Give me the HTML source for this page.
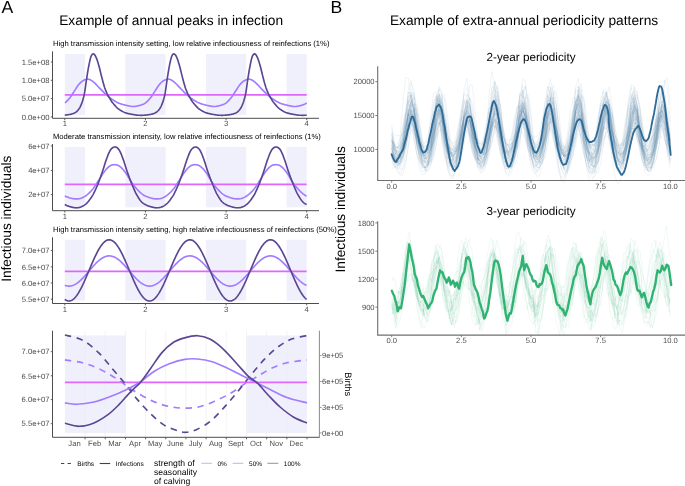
<!DOCTYPE html>
<html><head><meta charset="utf-8"><style>
html,body{margin:0;padding:0;background:#fff;}
svg{display:block;font-family:"Liberation Sans", sans-serif;will-change:transform;text-rendering:geometricPrecision;}
</style></head><body>
<svg width="685" height="486" viewBox="0 0 685 486">
<rect width="685" height="486" fill="#fff"/>
<text x="1.4" y="12.9" font-size="17.6" text-anchor="start" fill="#000" >A</text>
<text x="59.2" y="24.6" font-size="13.75" text-anchor="start" fill="#000" >Example of annual peaks in infection</text>
<text x="53" y="46.2" font-size="7.65" text-anchor="start" fill="#000" >High transmission intensity setting, low relative infectiousness of reinfections (1%)</text>
<rect x="64.8" y="54" width="20.16" height="60.9" fill="#f0f0fd"/>
<rect x="125.27" y="54" width="40.31" height="60.9" fill="#f0f0fd"/>
<rect x="205.9" y="54" width="40.31" height="60.9" fill="#f0f0fd"/>
<rect x="286.53" y="54" width="20.16" height="60.9" fill="#f0f0fd"/>
<line x1="64.8" y1="94.9" x2="306.69" y2="94.9" stroke="#e066ff" stroke-width="1.65" />
<path d="M64.8,102.95 L65.3,102.57 L65.8,102.14 L66.3,101.68 L66.8,101.19 L67.3,100.67 L67.8,100.13 L68.3,99.58 L68.8,99.01 L69.3,98.43 L69.8,97.85 L70.3,97.22 L70.8,96.51 L71.3,95.77 L71.8,95.01 L72.3,94.24 L72.8,93.46 L73.3,92.68 L73.8,91.91 L74.3,91.15 L74.8,90.39 L75.3,89.61 L75.8,88.82 L76.3,88.03 L76.8,87.25 L77.3,86.5 L77.8,85.77 L78.3,85.1 L78.8,84.48 L79.3,83.91 L79.8,83.37 L80.3,82.86 L80.8,82.39 L81.3,81.95 L81.8,81.54 L82.3,81.17 L82.8,80.83 L83.3,80.54 L83.8,80.29 L84.3,80.05 L84.8,79.83 L85.3,79.64 L85.8,79.47 L86.3,79.34 L86.8,79.24 L87.3,79.19 L87.8,79.18 L88.3,79.22 L88.8,79.32 L89.3,79.45 L89.8,79.63 L90.3,79.85 L90.8,80.11 L91.3,80.4 L91.8,80.72 L92.3,81.08 L92.8,81.46 L93.3,81.85 L93.8,82.24 L94.3,82.67 L94.8,83.13 L95.3,83.62 L95.8,84.13 L96.3,84.66 L96.8,85.2 L97.3,85.73 L97.8,86.27 L98.3,86.79 L98.8,87.3 L99.3,87.81 L99.8,88.32 L100.3,88.84 L100.8,89.36 L101.3,89.88 L101.8,90.4 L102.3,90.91 L102.8,91.42 L103.3,91.93 L103.8,92.43 L104.3,92.91 L104.8,93.39 L105.3,93.84 L105.8,94.3 L106.3,94.74 L106.8,95.18 L107.3,95.62 L107.8,96.04 L108.3,96.47 L108.8,96.89 L109.3,97.3 L109.8,97.71 L110.3,98.12 L110.8,98.46 L111.3,98.79 L111.8,99.12 L112.3,99.46 L112.8,99.79 L113.3,100.11 L113.8,100.43 L114.3,100.75 L114.8,101.06 L115.3,101.36 L115.8,101.65 L116.3,101.93 L116.8,102.2 L117.3,102.46 L117.8,102.69 L118.3,102.92 L118.8,103.13 L119.3,103.32 L119.8,103.51 L120.3,103.69 L120.8,103.85 L121.3,104.01 L121.8,104.17 L122.3,104.31 L122.8,104.45 L123.3,104.59 L123.8,104.73 L124.3,104.86 L124.8,105 L125.3,105.11 L125.8,105.23 L126.3,105.35 L126.8,105.47 L127.3,105.59 L127.8,105.7 L128.3,105.81 L128.8,105.92 L129.3,106.02 L129.8,106.12 L130.3,106.2 L130.8,106.28 L131.3,106.35 L131.8,106.41 L132.3,106.45 L132.8,106.48 L133.3,106.5 L133.8,106.5 L134.3,106.48 L134.8,106.44 L135.3,106.39 L135.8,106.31 L136.3,106.23 L136.8,106.13 L137.3,106.03 L137.8,105.91 L138.3,105.79 L138.8,105.67 L139.3,105.54 L139.8,105.41 L140.3,105.28 L140.8,105.13 L141.3,104.95 L141.8,104.77 L142.3,104.58 L142.8,104.38 L143.3,104.17 L143.8,103.93 L144.3,103.67 L144.8,103.38 L145.3,103.04 L145.8,102.67 L146.3,102.26 L146.8,101.81 L147.3,101.32 L147.8,100.81 L148.3,100.28 L148.8,99.72 L149.3,99.16 L149.8,98.58 L150.3,98 L150.8,97.4 L151.3,96.7 L151.8,95.96 L152.3,95.21 L152.8,94.44 L153.3,93.67 L153.8,92.89 L154.3,92.11 L154.8,91.35 L155.3,90.59 L155.8,89.82 L156.3,89.03 L156.8,88.23 L157.3,87.45 L157.8,86.69 L158.3,85.96 L158.8,85.27 L159.3,84.64 L159.8,84.05 L160.3,83.5 L160.8,82.99 L161.3,82.51 L161.8,82.06 L162.3,81.65 L162.8,81.26 L163.3,80.91 L163.8,80.61 L164.3,80.35 L164.8,80.11 L165.3,79.89 L165.8,79.69 L166.3,79.51 L166.8,79.37 L167.3,79.26 L167.8,79.2 L168.3,79.18 L168.8,79.21 L169.3,79.29 L169.8,79.41 L170.3,79.58 L170.8,79.79 L171.3,80.04 L171.8,80.32 L172.3,80.63 L172.8,80.98 L173.3,81.36 L173.8,81.75 L174.3,82.13 L174.8,82.55 L175.3,83.01 L175.8,83.49 L176.3,84 L176.8,84.52 L177.3,85.06 L177.8,85.59 L178.3,86.13 L178.8,86.66 L179.3,87.17 L179.8,87.67 L180.3,88.18 L180.8,88.7 L181.3,89.22 L181.8,89.74 L182.3,90.26 L182.8,90.78 L183.3,91.29 L183.8,91.8 L184.3,92.3 L184.8,92.79 L185.3,93.27 L185.8,93.73 L186.3,94.18 L186.8,94.63 L187.3,95.07 L187.8,95.5 L188.3,95.93 L188.8,96.36 L189.3,96.78 L189.8,97.19 L190.3,97.61 L190.8,98.01 L191.3,98.38 L191.8,98.71 L192.3,99.04 L192.8,99.37 L193.3,99.7 L193.8,100.03 L194.3,100.35 L194.8,100.67 L195.3,100.98 L195.8,101.29 L196.3,101.58 L196.8,101.86 L197.3,102.13 L197.8,102.39 L198.3,102.63 L198.8,102.86 L199.3,103.07 L199.8,103.27 L200.3,103.46 L200.8,103.64 L201.3,103.81 L201.8,103.97 L202.3,104.13 L202.8,104.27 L203.3,104.42 L203.8,104.56 L204.3,104.69 L204.8,104.83 L205.3,104.96 L205.8,105.08 L206.3,105.2 L206.8,105.32 L207.3,105.44 L207.8,105.56 L208.3,105.67 L208.8,105.78 L209.3,105.89 L209.8,106 L210.3,106.09 L210.8,106.18 L211.3,106.26 L211.8,106.33 L212.3,106.39 L212.8,106.44 L213.3,106.48 L213.8,106.5 L214.3,106.5 L214.8,106.49 L215.3,106.45 L215.8,106.4 L216.3,106.33 L216.8,106.25 L217.3,106.16 L217.8,106.06 L218.3,105.95 L218.8,105.83 L219.3,105.7 L219.8,105.57 L220.3,105.44 L220.8,105.31 L221.3,105.17 L221.8,104.99 L222.3,104.81 L222.8,104.63 L223.3,104.44 L223.8,104.23 L224.3,104 L224.8,103.74 L225.3,103.46 L225.8,103.13 L226.3,102.77 L226.8,102.37 L227.3,101.93 L227.8,101.45 L228.3,100.95 L228.8,100.42 L229.3,99.87 L229.8,99.3 L230.3,98.73 L230.8,98.15 L231.3,97.57 L231.8,96.88 L232.3,96.16 L232.8,95.41 L233.3,94.64 L233.8,93.87 L234.3,93.09 L234.8,92.31 L235.3,91.54 L235.8,90.79 L236.3,90.02 L236.8,89.23 L237.3,88.44 L237.8,87.65 L238.3,86.88 L238.8,86.14 L239.3,85.44 L239.8,84.79 L240.3,84.2 L240.8,83.64 L241.3,83.12 L241.8,82.63 L242.3,82.17 L242.8,81.75 L243.3,81.36 L243.8,81 L244.3,80.68 L244.8,80.42 L245.3,80.17 L245.8,79.94 L246.3,79.74 L246.8,79.55 L247.3,79.4 L247.8,79.29 L248.3,79.21 L248.8,79.18 L249.3,79.19 L249.8,79.26 L250.3,79.38 L250.8,79.53 L251.3,79.73 L251.8,79.97 L252.3,80.24 L252.8,80.55 L253.3,80.89 L253.8,81.26 L254.3,81.65 L254.8,82.03 L255.3,82.44 L255.8,82.89 L256.3,83.37 L256.8,83.87 L257.3,84.39 L257.8,84.92 L258.3,85.45 L258.8,85.99 L259.3,86.52 L259.8,87.04 L260.3,87.54 L260.8,88.05 L261.3,88.57 L261.8,89.09 L262.3,89.61 L262.8,90.13 L263.3,90.64 L263.8,91.16 L264.3,91.67 L264.8,92.17 L265.3,92.66 L265.8,93.14 L266.3,93.61 L266.8,94.06 L267.3,94.51 L267.8,94.95 L268.3,95.39 L268.8,95.82 L269.3,96.25 L269.8,96.67 L270.3,97.09 L270.8,97.5 L271.3,97.91 L271.8,98.29 L272.3,98.62 L272.8,98.95 L273.3,99.28 L273.8,99.61 L274.3,99.94 L274.8,100.27 L275.3,100.59 L275.8,100.9 L276.3,101.21 L276.8,101.5 L277.3,101.79 L277.8,102.06 L278.3,102.33 L278.8,102.57 L279.3,102.8 L279.8,103.02 L280.3,103.22 L280.8,103.41 L281.3,103.6 L281.8,103.77 L282.3,103.93 L282.8,104.09 L283.3,104.24 L283.8,104.38 L284.3,104.52 L284.8,104.66 L285.3,104.79 L285.8,104.93 L286.3,105.05 L286.8,105.17 L287.3,105.29 L287.8,105.41 L288.3,105.53 L288.8,105.64 L289.3,105.75 L289.8,105.86 L290.3,105.97 L290.8,106.07 L291.3,106.16 L291.8,106.24 L292.3,106.32 L292.8,106.38 L293.3,106.43 L293.8,106.47 L294.3,106.49 L294.8,106.5 L295.3,106.49 L295.8,106.46 L296.3,106.42 L296.8,106.35 L297.3,106.28 L297.8,106.19 L298.3,106.09 L298.8,105.98 L299.3,105.86 L299.8,105.73 L300.3,105.61 L300.8,105.48 L301.3,105.35 L301.8,105.22 L302.3,105.04 L302.8,104.86 L303.3,104.68 L303.8,104.49 L304.3,104.28 L304.8,104.06 L305.3,103.81 L305.8,103.53 L306.3,103.22 L306.69,102.95" fill="none" stroke="#a27cff" stroke-width="1.65" />
<path d="M64.8,115.12 L65.3,115.07 L65.8,115.02 L66.3,114.97 L66.8,114.91 L67.3,114.84 L67.8,114.77 L68.3,114.7 L68.8,114.62 L69.3,114.54 L69.8,114.45 L70.3,114.35 L70.8,114.25 L71.3,114.14 L71.8,114 L72.3,113.83 L72.8,113.66 L73.3,113.47 L73.8,113.27 L74.3,113.05 L74.8,112.8 L75.3,112.52 L75.8,112.2 L76.3,111.78 L76.8,111.33 L77.3,110.85 L77.8,110.32 L78.3,109.75 L78.8,109.12 L79.3,108.44 L79.8,107.55 L80.3,106.54 L80.8,105.46 L81.3,104.3 L81.8,103.08 L82.3,101.8 L82.8,100.1 L83.3,98.36 L83.8,96.44 L84.3,94.21 L84.8,91.43 L85.3,88.07 L85.8,84.44 L86.3,80.83 L86.8,77.55 L87.3,74.43 L87.8,71.38 L88.3,68.48 L88.8,65.8 L89.3,63.3 L89.8,60.95 L90.3,58.84 L90.8,57.08 L91.3,55.81 L91.8,54.92 L92.3,54.31 L92.8,53.98 L93.3,53.89 L93.8,54.03 L94.3,54.4 L94.8,54.98 L95.3,55.77 L95.8,56.76 L96.3,57.85 L96.8,59.11 L97.3,60.53 L97.8,62.08 L98.3,63.74 L98.8,65.45 L99.3,67.26 L99.8,69.23 L100.3,71.3 L100.8,73.4 L101.3,75.46 L101.8,77.4 L102.3,79.32 L102.8,81.2 L103.3,83.04 L103.8,84.79 L104.3,86.46 L104.8,87.98 L105.3,89.33 L105.8,90.58 L106.3,91.76 L106.8,92.92 L107.3,94.11 L107.8,95.1 L108.3,95.95 L108.8,96.8 L109.3,97.65 L109.8,98.5 L110.3,99.34 L110.8,100.17 L111.3,100.99 L111.8,101.8 L112.3,102.39 L112.8,102.99 L113.3,103.59 L113.8,104.18 L114.3,104.77 L114.8,105.35 L115.3,105.91 L115.8,106.47 L116.3,107.01 L116.8,107.52 L117.3,108.02 L117.8,108.45 L118.3,108.81 L118.8,109.17 L119.3,109.51 L119.8,109.84 L120.3,110.17 L120.8,110.48 L121.3,110.78 L121.8,111.07 L122.3,111.35 L122.8,111.62 L123.3,111.88 L123.8,112.13 L124.3,112.37 L124.8,112.6 L125.3,112.76 L125.8,112.91 L126.3,113.06 L126.8,113.2 L127.3,113.33 L127.8,113.46 L128.3,113.58 L128.8,113.7 L129.3,113.82 L129.8,113.93 L130.3,114.03 L130.8,114.13 L131.3,114.23 L131.8,114.32 L132.3,114.41 L132.8,114.49 L133.3,114.57 L133.8,114.65 L134.3,114.72 L134.8,114.79 L135.3,114.9 L135.8,115 L136.3,115.08 L136.8,115.14 L137.3,115.19 L137.8,115.22 L138.3,115.25 L138.8,115.27 L139.3,115.28 L139.8,115.29 L140.3,115.31 L140.8,115.32 L141.3,115.32 L141.8,115.32 L142.3,115.31 L142.8,115.29 L143.3,115.27 L143.8,115.25 L144.3,115.22 L144.8,115.18 L145.3,115.13 L145.8,115.08 L146.3,115.03 L146.8,114.98 L147.3,114.92 L147.8,114.86 L148.3,114.79 L148.8,114.72 L149.3,114.64 L149.8,114.56 L150.3,114.47 L150.8,114.38 L151.3,114.28 L151.8,114.17 L152.3,114.04 L152.8,113.87 L153.3,113.7 L153.8,113.52 L154.3,113.32 L154.8,113.11 L155.3,112.87 L155.8,112.59 L156.3,112.29 L156.8,111.89 L157.3,111.45 L157.8,110.98 L158.3,110.46 L158.8,109.9 L159.3,109.29 L159.8,108.63 L160.3,107.8 L160.8,106.81 L161.3,105.75 L161.8,104.61 L162.3,103.4 L162.8,102.14 L163.3,100.54 L163.8,98.83 L164.3,96.96 L164.8,94.82 L165.3,92.23 L165.8,88.99 L166.3,85.4 L166.8,81.75 L167.3,78.36 L167.8,75.24 L168.3,72.16 L168.8,69.21 L169.3,66.47 L169.8,63.94 L170.3,61.54 L170.8,59.35 L171.3,57.5 L171.8,56.1 L172.3,55.12 L172.8,54.44 L173.3,54.04 L173.8,53.89 L174.3,53.97 L174.8,54.28 L175.3,54.81 L175.8,55.55 L176.3,56.48 L176.8,57.56 L177.3,58.76 L177.8,60.14 L178.3,61.67 L178.8,63.3 L179.3,65 L179.8,66.77 L180.3,68.71 L180.8,70.76 L181.3,72.86 L181.8,74.93 L182.3,76.91 L182.8,78.82 L183.3,80.72 L183.8,82.57 L184.3,84.34 L184.8,86.03 L185.3,87.61 L185.8,88.99 L186.3,90.26 L186.8,91.46 L187.3,92.62 L187.8,93.8 L188.3,94.89 L188.8,95.73 L189.3,96.58 L189.8,97.43 L190.3,98.28 L190.8,99.12 L191.3,99.96 L191.8,100.78 L192.3,101.59 L192.8,102.24 L193.3,102.83 L193.8,103.43 L194.3,104.02 L194.8,104.61 L195.3,105.2 L195.8,105.77 L196.3,106.33 L196.8,106.87 L197.3,107.39 L197.8,107.89 L198.3,108.35 L198.8,108.72 L199.3,109.08 L199.8,109.42 L200.3,109.76 L200.8,110.08 L201.3,110.4 L201.8,110.7 L202.3,110.99 L202.8,111.28 L203.3,111.55 L203.8,111.81 L204.3,112.07 L204.8,112.31 L205.3,112.54 L205.8,112.72 L206.3,112.87 L206.8,113.02 L207.3,113.16 L207.8,113.3 L208.3,113.43 L208.8,113.55 L209.3,113.67 L209.8,113.79 L210.3,113.9 L210.8,114 L211.3,114.11 L211.8,114.2 L212.3,114.3 L212.8,114.38 L213.3,114.47 L213.8,114.55 L214.3,114.63 L214.8,114.7 L215.3,114.77 L215.8,114.87 L216.3,114.97 L216.8,115.06 L217.3,115.13 L217.8,115.18 L218.3,115.22 L218.8,115.24 L219.3,115.26 L219.8,115.28 L220.3,115.29 L220.8,115.3 L221.3,115.31 L221.8,115.32 L222.3,115.32 L222.8,115.31 L223.3,115.3 L223.8,115.28 L224.3,115.26 L224.8,115.23 L225.3,115.19 L225.8,115.15 L226.3,115.1 L226.8,115.05 L227.3,114.99 L227.8,114.94 L228.3,114.88 L228.8,114.81 L229.3,114.74 L229.8,114.66 L230.3,114.58 L230.8,114.49 L231.3,114.4 L231.8,114.3 L232.3,114.2 L232.8,114.09 L233.3,113.92 L233.8,113.75 L234.3,113.57 L234.8,113.38 L235.3,113.17 L235.8,112.93 L236.3,112.67 L236.8,112.37 L237.3,112 L237.8,111.57 L238.3,111.11 L238.8,110.6 L239.3,110.05 L239.8,109.46 L240.3,108.8 L240.8,108.05 L241.3,107.08 L241.8,106.03 L242.3,104.91 L242.8,103.72 L243.3,102.47 L243.8,100.98 L244.3,99.28 L244.8,97.47 L245.3,95.41 L245.8,92.98 L246.3,89.87 L246.8,86.35 L247.3,82.69 L247.8,79.19 L248.3,76.05 L248.8,72.95 L249.3,69.96 L249.8,67.16 L250.3,64.59 L250.8,62.15 L251.3,59.9 L251.8,57.94 L252.3,56.4 L252.8,55.35 L253.3,54.59 L253.8,54.12 L254.3,53.91 L254.8,53.93 L255.3,54.18 L255.8,54.65 L256.3,55.34 L256.8,56.22 L257.3,57.28 L257.8,58.43 L258.3,59.77 L258.8,61.26 L259.3,62.87 L259.8,64.55 L260.3,66.3 L260.8,68.19 L261.3,70.22 L261.8,72.31 L262.3,74.4 L262.8,76.41 L263.3,78.32 L263.8,80.23 L264.3,82.09 L264.8,83.89 L265.3,85.6 L265.8,87.21 L266.3,88.65 L266.8,89.94 L267.3,91.15 L267.8,92.32 L268.3,93.49 L268.8,94.67 L269.3,95.51 L269.8,96.36 L270.3,97.21 L270.8,98.06 L271.3,98.9 L271.8,99.74 L272.3,100.57 L272.8,101.38 L273.3,102.08 L273.8,102.68 L274.3,103.28 L274.8,103.87 L275.3,104.46 L275.8,105.05 L276.3,105.62 L276.8,106.18 L277.3,106.73 L277.8,107.26 L278.3,107.76 L278.8,108.24 L279.3,108.63 L279.8,108.99 L280.3,109.33 L280.8,109.67 L281.3,110 L281.8,110.32 L282.3,110.62 L282.8,110.92 L283.3,111.2 L283.8,111.48 L284.3,111.75 L284.8,112 L285.3,112.25 L285.8,112.48 L286.3,112.68 L286.8,112.83 L287.3,112.98 L287.8,113.12 L288.3,113.26 L288.8,113.39 L289.3,113.52 L289.8,113.64 L290.3,113.76 L290.8,113.87 L291.3,113.98 L291.8,114.08 L292.3,114.18 L292.8,114.27 L293.3,114.36 L293.8,114.45 L294.3,114.53 L294.8,114.61 L295.3,114.68 L295.8,114.75 L296.3,114.84 L296.8,114.95 L297.3,115.04 L297.8,115.11 L298.3,115.17 L298.8,115.21 L299.3,115.24 L299.8,115.26 L300.3,115.27 L300.8,115.29 L301.3,115.3 L301.8,115.31 L302.3,115.32 L302.8,115.32 L303.3,115.31 L303.8,115.3 L304.3,115.29 L304.8,115.26 L305.3,115.23 L305.8,115.2 L306.3,115.16 L306.69,115.12" fill="none" stroke="#5a4692" stroke-width="1.65" />
<path d="M52.5,51.3 L52.5,118.3 L319,118.3" fill="none" stroke="#4d4d4d" stroke-width="1"/>
<text x="49.6" y="64.7" font-size="7.65" text-anchor="end" fill="#4d4d4d" >1.5e+08</text>
<line x1="50.8" y1="62" x2="52.5" y2="62" stroke="#4d4d4d" stroke-width="0.9" />
<text x="49.6" y="83" font-size="7.65" text-anchor="end" fill="#4d4d4d" >1.0e+08</text>
<line x1="50.8" y1="80.3" x2="52.5" y2="80.3" stroke="#4d4d4d" stroke-width="0.9" />
<text x="49.6" y="101.3" font-size="7.65" text-anchor="end" fill="#4d4d4d" >5.0e+07</text>
<line x1="50.8" y1="98.6" x2="52.5" y2="98.6" stroke="#4d4d4d" stroke-width="0.9" />
<text x="49.6" y="119.6" font-size="7.65" text-anchor="end" fill="#4d4d4d" >0.0e+00</text>
<line x1="50.8" y1="116.9" x2="52.5" y2="116.9" stroke="#4d4d4d" stroke-width="0.9" />
<line x1="64.8" y1="118.3" x2="64.8" y2="120.1" stroke="#4d4d4d" stroke-width="0.9" />
<text x="64.8" y="126.4" font-size="7.65" text-anchor="middle" fill="#4d4d4d" >1</text>
<line x1="145.43" y1="118.3" x2="145.43" y2="120.1" stroke="#4d4d4d" stroke-width="0.9" />
<text x="145.43" y="126.4" font-size="7.65" text-anchor="middle" fill="#4d4d4d" >2</text>
<line x1="226.06" y1="118.3" x2="226.06" y2="120.1" stroke="#4d4d4d" stroke-width="0.9" />
<text x="226.06" y="126.4" font-size="7.65" text-anchor="middle" fill="#4d4d4d" >3</text>
<line x1="306.69" y1="118.3" x2="306.69" y2="120.1" stroke="#4d4d4d" stroke-width="0.9" />
<text x="306.69" y="126.4" font-size="7.65" text-anchor="middle" fill="#4d4d4d" >4</text>
<text x="53" y="139.05" font-size="7.65" text-anchor="start" fill="#000" >Moderate transmission intensity, low relative infectiousness of reinfections (1%)</text>
<rect x="64.8" y="147" width="20.16" height="60.3" fill="#f0f0fd"/>
<rect x="125.27" y="147" width="40.31" height="60.3" fill="#f0f0fd"/>
<rect x="205.9" y="147" width="40.31" height="60.3" fill="#f0f0fd"/>
<rect x="286.53" y="147" width="20.16" height="60.3" fill="#f0f0fd"/>
<line x1="64.8" y1="184.4" x2="306.69" y2="184.4" stroke="#e066ff" stroke-width="1.65" />
<path d="M64.8,196.05 L65.3,196.24 L65.8,196.47 L66.3,196.64 L66.8,196.82 L67.3,197.01 L67.8,197.2 L68.3,197.39 L68.8,197.58 L69.3,197.76 L69.8,197.92 L70.3,198.07 L70.8,198.2 L71.3,198.32 L71.8,198.43 L72.3,198.53 L72.8,198.62 L73.3,198.7 L73.8,198.77 L74.3,198.82 L74.8,198.86 L75.3,198.89 L75.8,198.9 L76.3,198.9 L76.8,198.9 L77.3,198.88 L77.8,198.86 L78.3,198.83 L78.8,198.77 L79.3,198.7 L79.8,198.6 L80.3,198.47 L80.8,198.31 L81.3,198.13 L81.8,197.94 L82.3,197.73 L82.8,197.49 L83.3,197.24 L83.8,196.97 L84.3,196.68 L84.8,196.38 L85.3,196.05 L85.8,195.7 L86.3,195.34 L86.8,194.96 L87.3,194.56 L87.8,194.15 L88.3,193.72 L88.8,193.28 L89.3,192.82 L89.8,192.34 L90.3,191.84 L90.8,191.32 L91.3,190.78 L91.8,190.22 L92.3,189.64 L92.8,189.05 L93.3,188.42 L93.8,187.75 L94.3,187.05 L94.8,186.32 L95.3,185.58 L95.8,184.81 L96.3,184.04 L96.8,183.25 L97.3,182.47 L97.8,181.69 L98.3,180.91 L98.8,180.15 L99.3,179.39 L99.8,178.61 L100.3,177.82 L100.8,177.01 L101.3,176.21 L101.8,175.4 L102.3,174.62 L102.8,173.85 L103.3,173.1 L103.8,172.39 L104.3,171.72 L104.8,171.1 L105.3,170.44 L105.8,169.81 L106.3,169.21 L106.8,168.65 L107.3,168.12 L107.8,167.63 L108.3,167.17 L108.8,166.75 L109.3,166.37 L109.8,166.03 L110.3,165.71 L110.8,165.44 L111.3,165.22 L111.8,165.05 L112.3,164.91 L112.8,164.81 L113.3,164.74 L113.8,164.7 L114.3,164.69 L114.8,164.7 L115.3,164.72 L115.8,164.76 L116.3,164.82 L116.8,164.92 L117.3,165.05 L117.8,165.22 L118.3,165.44 L118.8,165.72 L119.3,166.06 L119.8,166.44 L120.3,166.81 L120.8,167.22 L121.3,167.67 L121.8,168.16 L122.3,168.68 L122.8,169.23 L123.3,169.8 L123.8,170.4 L124.3,171.03 L124.8,171.67 L125.3,172.33 L125.8,173.02 L126.3,173.75 L126.8,174.54 L127.3,175.36 L127.8,176.2 L128.3,177.07 L128.8,177.94 L129.3,178.81 L129.8,179.67 L130.3,180.5 L130.8,181.3 L131.3,182.05 L131.8,182.76 L132.3,183.45 L132.8,184.12 L133.3,184.78 L133.8,185.42 L134.3,186.05 L134.8,186.66 L135.3,187.26 L135.8,187.84 L136.3,188.41 L136.8,188.96 L137.3,189.49 L137.8,190.03 L138.3,190.55 L138.8,191.06 L139.3,191.56 L139.8,192.05 L140.3,192.52 L140.8,192.96 L141.3,193.39 L141.8,193.79 L142.3,194.16 L142.8,194.49 L143.3,194.8 L143.8,195.28 L144.3,195.6 L144.8,195.83 L145.3,196 L145.8,196.19 L146.3,196.42 L146.8,196.59 L147.3,196.78 L147.8,196.96 L148.3,197.15 L148.8,197.34 L149.3,197.53 L149.8,197.71 L150.3,197.88 L150.8,198.03 L151.3,198.17 L151.8,198.29 L152.3,198.4 L152.8,198.5 L153.3,198.6 L153.8,198.68 L154.3,198.75 L154.8,198.81 L155.3,198.85 L155.8,198.88 L156.3,198.9 L156.8,198.9 L157.3,198.9 L157.8,198.89 L158.3,198.87 L158.8,198.84 L159.3,198.79 L159.8,198.72 L160.3,198.63 L160.8,198.51 L161.3,198.36 L161.8,198.18 L162.3,197.99 L162.8,197.78 L163.3,197.56 L163.8,197.31 L164.3,197.05 L164.8,196.76 L165.3,196.46 L165.8,196.14 L166.3,195.8 L166.8,195.44 L167.3,195.06 L167.8,194.67 L168.3,194.26 L168.8,193.84 L169.3,193.4 L169.8,192.94 L170.3,192.46 L170.8,191.97 L171.3,191.45 L171.8,190.92 L172.3,190.37 L172.8,189.8 L173.3,189.2 L173.8,188.58 L174.3,187.93 L174.8,187.23 L175.3,186.52 L175.8,185.77 L176.3,185.01 L176.8,184.24 L177.3,183.46 L177.8,182.67 L178.3,181.89 L178.8,181.11 L179.3,180.35 L179.8,179.59 L180.3,178.82 L180.8,178.02 L181.3,177.22 L181.8,176.41 L182.3,175.61 L182.8,174.82 L183.3,174.04 L183.8,173.29 L184.3,172.57 L184.8,171.89 L185.3,171.26 L185.8,170.61 L186.3,169.97 L186.8,169.36 L187.3,168.79 L187.8,168.25 L188.3,167.75 L188.8,167.29 L189.3,166.86 L189.8,166.46 L190.3,166.11 L190.8,165.79 L191.3,165.51 L191.8,165.28 L192.3,165.09 L192.8,164.94 L193.3,164.83 L193.8,164.76 L194.3,164.71 L194.8,164.69 L195.3,164.69 L195.8,164.71 L196.3,164.75 L196.8,164.81 L197.3,164.89 L197.8,165.01 L198.3,165.17 L198.8,165.38 L199.3,165.64 L199.8,165.97 L200.3,166.35 L200.8,166.71 L201.3,167.11 L201.8,167.55 L202.3,168.03 L202.8,168.54 L203.3,169.08 L203.8,169.65 L204.3,170.25 L204.8,170.86 L205.3,171.5 L205.8,172.16 L206.3,172.83 L206.8,173.56 L207.3,174.33 L207.8,175.14 L208.3,175.98 L208.8,176.84 L209.3,177.72 L209.8,178.59 L210.3,179.45 L210.8,180.29 L211.3,181.09 L211.8,181.86 L212.3,182.58 L212.8,183.27 L213.3,183.95 L213.8,184.61 L214.3,185.26 L214.8,185.89 L215.3,186.51 L215.8,187.11 L216.3,187.69 L216.8,188.26 L217.3,188.82 L217.8,189.36 L218.3,189.89 L218.8,190.41 L219.3,190.93 L219.8,191.44 L220.3,191.92 L220.8,192.4 L221.3,192.85 L221.8,193.28 L222.3,193.68 L222.8,194.06 L223.3,194.41 L223.8,194.72 L224.3,195.17 L224.8,195.53 L225.3,195.78 L225.8,195.96 L226.3,196.13 L226.8,196.37 L227.3,196.55 L227.8,196.73 L228.3,196.91 L228.8,197.1 L229.3,197.3 L229.8,197.48 L230.3,197.66 L230.8,197.84 L231.3,197.99 L231.8,198.13 L232.3,198.26 L232.8,198.37 L233.3,198.48 L233.8,198.57 L234.3,198.66 L234.8,198.73 L235.3,198.79 L235.8,198.84 L236.3,198.88 L236.8,198.9 L237.3,198.9 L237.8,198.9 L238.3,198.89 L238.8,198.87 L239.3,198.85 L239.8,198.8 L240.3,198.74 L240.8,198.65 L241.3,198.54 L241.8,198.4 L242.3,198.22 L242.8,198.04 L243.3,197.84 L243.8,197.62 L244.3,197.38 L244.8,197.12 L245.3,196.84 L245.8,196.54 L246.3,196.22 L246.8,195.89 L247.3,195.53 L247.8,195.16 L248.3,194.77 L248.8,194.37 L249.3,193.95 L249.8,193.51 L250.3,193.06 L250.8,192.59 L251.3,192.1 L251.8,191.59 L252.3,191.06 L252.8,190.51 L253.3,189.95 L253.8,189.36 L254.3,188.75 L254.8,188.1 L255.3,187.42 L255.8,186.71 L256.3,185.97 L256.8,185.21 L257.3,184.44 L257.8,183.66 L258.3,182.88 L258.8,182.09 L259.3,181.31 L259.8,180.54 L260.3,179.79 L260.8,179.02 L261.3,178.23 L261.8,177.43 L262.3,176.62 L262.8,175.82 L263.3,175.02 L263.8,174.24 L264.3,173.49 L264.8,172.76 L265.3,172.07 L265.8,171.42 L266.3,170.78 L266.8,170.13 L267.3,169.52 L267.8,168.94 L268.3,168.39 L268.8,167.88 L269.3,167.4 L269.8,166.96 L270.3,166.56 L270.8,166.2 L271.3,165.87 L271.8,165.58 L272.3,165.33 L272.8,165.13 L273.3,164.98 L273.8,164.86 L274.3,164.77 L274.8,164.72 L275.3,164.69 L275.8,164.69 L276.3,164.71 L276.8,164.74 L277.3,164.79 L277.8,164.86 L278.3,164.97 L278.8,165.12 L279.3,165.32 L279.8,165.57 L280.3,165.87 L280.8,166.25 L281.3,166.61 L281.8,167 L282.3,167.44 L282.8,167.9 L283.3,168.41 L283.8,168.94 L284.3,169.5 L284.8,170.09 L285.3,170.7 L285.8,171.33 L286.3,171.99 L286.8,172.65 L287.3,173.36 L287.8,174.12 L288.3,174.93 L288.8,175.76 L289.3,176.62 L289.8,177.49 L290.3,178.36 L290.8,179.22 L291.3,180.07 L291.8,180.89 L292.3,181.67 L292.8,182.4 L293.3,183.09 L293.8,183.78 L294.3,184.44 L294.8,185.09 L295.3,185.73 L295.8,186.35 L296.3,186.95 L296.8,187.54 L297.3,188.12 L297.8,188.67 L298.3,189.22 L298.8,189.75 L299.3,190.28 L299.8,190.8 L300.3,191.31 L300.8,191.8 L301.3,192.28 L301.8,192.73 L302.3,193.17 L302.8,193.58 L303.3,193.97 L303.8,194.32 L304.3,194.65 L304.8,195.05 L305.3,195.45 L305.8,195.72 L306.3,195.91 L306.69,196.05" fill="none" stroke="#a27cff" stroke-width="1.65" />
<path d="M64.8,204.58 L65.3,204.84 L65.8,205.1 L66.3,205.35 L66.8,205.58 L67.3,205.78 L67.8,205.98 L68.3,206.15 L68.8,206.32 L69.3,206.48 L69.8,206.62 L70.3,206.76 L70.8,206.9 L71.3,207.04 L71.8,207.17 L72.3,207.29 L72.8,207.41 L73.3,207.52 L73.8,207.61 L74.3,207.68 L74.8,207.74 L75.3,207.78 L75.8,207.8 L76.3,207.8 L76.8,207.79 L77.3,207.77 L77.8,207.73 L78.3,207.68 L78.8,207.61 L79.3,207.51 L79.8,207.39 L80.3,207.23 L80.8,207.03 L81.3,206.82 L81.8,206.59 L82.3,206.35 L82.8,206.09 L83.3,205.81 L83.8,205.51 L84.3,205.18 L84.8,204.83 L85.3,204.44 L85.8,204.03 L86.3,203.58 L86.8,203.1 L87.3,202.59 L87.8,202.05 L88.3,201.47 L88.8,200.87 L89.3,200.23 L89.8,199.57 L90.3,198.88 L90.8,198.17 L91.3,197.43 L91.8,196.68 L92.3,195.91 L92.8,195.12 L93.3,194.23 L93.8,193.24 L94.3,192.22 L94.8,191.16 L95.3,190.08 L95.8,188.98 L96.3,187.85 L96.8,186.71 L97.3,185.56 L97.8,184.4 L98.3,183.17 L98.8,181.83 L99.3,180.47 L99.8,179.08 L100.3,177.68 L100.8,176.26 L101.3,174.84 L101.8,173.4 L102.3,171.96 L102.8,170.5 L103.3,168.97 L103.8,167.39 L104.3,165.78 L104.8,164.18 L105.3,162.6 L105.8,161.08 L106.3,159.64 L106.8,158.3 L107.3,156.94 L107.8,155.59 L108.3,154.32 L108.8,153.14 L109.3,152.07 L109.8,151.09 L110.3,150.22 L110.8,149.47 L111.3,148.89 L111.8,148.39 L112.3,147.97 L112.8,147.62 L113.3,147.36 L113.8,147.17 L114.3,147.05 L114.8,147 L115.3,147.02 L115.8,147.12 L116.3,147.3 L116.8,147.56 L117.3,147.91 L117.8,148.34 L118.3,148.86 L118.8,149.47 L119.3,150.22 L119.8,151.09 L120.3,152.07 L120.8,153.14 L121.3,154.32 L121.8,155.59 L122.3,156.94 L122.8,158.3 L123.3,159.65 L123.8,161.1 L124.3,162.64 L124.8,164.22 L125.3,165.84 L125.8,167.44 L126.3,169.01 L126.8,170.52 L127.3,171.95 L127.8,173.36 L128.3,174.74 L128.8,176.1 L129.3,177.45 L129.8,178.78 L130.3,180.08 L130.8,181.37 L131.3,182.65 L131.8,183.88 L132.3,185.11 L132.8,186.32 L133.3,187.51 L133.8,188.68 L134.3,189.83 L134.8,190.95 L135.3,192.04 L135.8,193.09 L136.3,194.01 L136.8,194.89 L137.3,195.77 L137.8,196.62 L138.3,197.45 L138.8,198.25 L139.3,199.02 L139.8,199.75 L140.3,200.42 L140.8,201.05 L141.3,201.62 L141.8,202.13 L142.3,202.59 L142.8,202.99 L143.3,203.35 L143.8,203.67 L144.3,203.97 L144.8,204.25 L145.3,204.51 L145.8,204.77 L146.3,205.04 L146.8,205.29 L147.3,205.52 L147.8,205.73 L148.3,205.93 L148.8,206.11 L149.3,206.28 L149.8,206.44 L150.3,206.59 L150.8,206.73 L151.3,206.86 L151.8,207 L152.3,207.13 L152.8,207.26 L153.3,207.38 L153.8,207.49 L154.3,207.58 L154.8,207.67 L155.3,207.73 L155.8,207.77 L156.3,207.8 L156.8,207.8 L157.3,207.79 L157.8,207.78 L158.3,207.75 L158.8,207.7 L159.3,207.63 L159.8,207.54 L160.3,207.42 L160.8,207.27 L161.3,207.09 L161.8,206.87 L162.3,206.65 L162.8,206.42 L163.3,206.16 L163.8,205.89 L164.3,205.59 L164.8,205.27 L165.3,204.92 L165.8,204.55 L166.3,204.14 L166.8,203.7 L167.3,203.23 L167.8,202.73 L168.3,202.19 L168.8,201.63 L169.3,201.03 L169.8,200.4 L170.3,199.74 L170.8,199.06 L171.3,198.35 L171.8,197.62 L172.3,196.88 L172.8,196.11 L173.3,195.33 L173.8,194.48 L174.3,193.5 L174.8,192.49 L175.3,191.44 L175.8,190.37 L176.3,189.27 L176.8,188.14 L177.3,187.01 L177.8,185.86 L178.3,184.7 L178.8,183.52 L179.3,182.18 L179.8,180.82 L180.3,179.44 L180.8,178.04 L181.3,176.63 L181.8,175.21 L182.3,173.77 L182.8,172.34 L183.3,170.89 L183.8,169.37 L184.3,167.8 L184.8,166.2 L185.3,164.59 L185.8,163.01 L186.3,161.47 L186.8,160 L187.3,158.64 L187.8,157.31 L188.3,155.93 L188.8,154.64 L189.3,153.44 L189.8,152.34 L190.3,151.33 L190.8,150.44 L191.3,149.64 L191.8,149.03 L192.3,148.51 L192.8,148.07 L193.3,147.71 L193.8,147.42 L194.3,147.21 L194.8,147.07 L195.3,147.01 L195.8,147.01 L196.3,147.09 L196.8,147.25 L197.3,147.49 L197.8,147.81 L198.3,148.22 L198.8,148.71 L199.3,149.3 L199.8,150.01 L200.3,150.85 L200.8,151.8 L201.3,152.85 L201.8,154 L202.3,155.25 L202.8,156.58 L203.3,157.97 L203.8,159.28 L204.3,160.71 L204.8,162.23 L205.3,163.81 L205.8,165.42 L206.3,167.03 L206.8,168.61 L207.3,170.14 L207.8,171.58 L208.3,172.99 L208.8,174.38 L209.3,175.75 L209.8,177.1 L210.3,178.43 L210.8,179.75 L211.3,181.04 L211.8,182.32 L212.3,183.57 L212.8,184.79 L213.3,186 L213.8,187.2 L214.3,188.38 L214.8,189.53 L215.3,190.66 L215.8,191.76 L216.3,192.82 L216.8,193.78 L217.3,194.67 L217.8,195.54 L218.3,196.4 L218.8,197.24 L219.3,198.05 L219.8,198.82 L220.3,199.56 L220.8,200.25 L221.3,200.89 L221.8,201.48 L222.3,202.01 L222.8,202.47 L223.3,202.89 L223.8,203.26 L224.3,203.59 L224.8,203.89 L225.3,204.18 L225.8,204.44 L226.3,204.7 L226.8,204.97 L227.3,205.22 L227.8,205.46 L228.3,205.68 L228.8,205.88 L229.3,206.06 L229.8,206.23 L230.3,206.4 L230.8,206.55 L231.3,206.69 L231.8,206.83 L232.3,206.97 L232.8,207.1 L233.3,207.23 L233.8,207.35 L234.3,207.46 L234.8,207.56 L235.3,207.65 L235.8,207.72 L236.3,207.76 L236.8,207.79 L237.3,207.8 L237.8,207.8 L238.3,207.78 L238.8,207.75 L239.3,207.71 L239.8,207.65 L240.3,207.57 L240.8,207.45 L241.3,207.31 L241.8,207.14 L242.3,206.93 L242.8,206.71 L243.3,206.48 L243.8,206.23 L244.3,205.96 L244.8,205.67 L245.3,205.36 L245.8,205.02 L246.3,204.65 L246.8,204.25 L247.3,203.82 L247.8,203.36 L248.3,202.86 L248.8,202.33 L249.3,201.78 L249.8,201.19 L250.3,200.56 L250.8,199.91 L251.3,199.24 L251.8,198.54 L252.3,197.82 L252.8,197.07 L253.3,196.31 L253.8,195.53 L254.3,194.72 L254.8,193.76 L255.3,192.76 L255.8,191.72 L256.3,190.65 L256.8,189.55 L257.3,188.44 L257.8,187.3 L258.3,186.16 L258.8,185 L259.3,183.84 L259.8,182.53 L260.3,181.18 L260.8,179.8 L261.3,178.41 L261.8,177 L262.3,175.58 L262.8,174.15 L263.3,172.71 L263.8,171.27 L264.3,169.78 L264.8,168.21 L265.3,166.62 L265.8,165.01 L266.3,163.41 L266.8,161.86 L267.3,160.37 L267.8,158.98 L268.3,157.68 L268.8,156.28 L269.3,154.97 L269.8,153.74 L270.3,152.61 L270.8,151.59 L271.3,150.66 L271.8,149.84 L272.3,149.18 L272.8,148.64 L273.3,148.18 L273.8,147.79 L274.3,147.49 L274.8,147.26 L275.3,147.1 L275.8,147.02 L276.3,147 L276.8,147.06 L277.3,147.2 L277.8,147.42 L278.3,147.72 L278.8,148.1 L279.3,148.58 L279.8,149.14 L280.3,149.81 L280.8,150.62 L281.3,151.55 L281.8,152.57 L282.3,153.7 L282.8,154.91 L283.3,156.23 L283.8,157.63 L284.3,158.93 L284.8,160.33 L285.3,161.83 L285.8,163.39 L286.3,165 L286.8,166.61 L287.3,168.2 L287.8,169.75 L288.3,171.21 L288.8,172.63 L289.3,174.02 L289.8,175.4 L290.3,176.75 L290.8,178.09 L291.3,179.41 L291.8,180.71 L292.3,181.99 L292.8,183.25 L293.3,184.47 L293.8,185.69 L294.3,186.89 L294.8,188.07 L295.3,189.24 L295.8,190.37 L296.3,191.48 L296.8,192.55 L297.3,193.55 L297.8,194.44 L298.3,195.31 L298.8,196.18 L299.3,197.02 L299.8,197.84 L300.3,198.63 L300.8,199.37 L301.3,200.08 L301.8,200.73 L302.3,201.33 L302.8,201.88 L303.3,202.36 L303.8,202.79 L304.3,203.17 L304.8,203.51 L305.3,203.82 L305.8,204.1 L306.3,204.37 L306.69,204.58" fill="none" stroke="#5a4692" stroke-width="1.65" />
<path d="M52.5,144 L52.5,210.7 L319,210.7" fill="none" stroke="#4d4d4d" stroke-width="1"/>
<text x="49.6" y="148.7" font-size="7.65" text-anchor="end" fill="#4d4d4d" >6e+07</text>
<line x1="50.8" y1="146" x2="52.5" y2="146" stroke="#4d4d4d" stroke-width="0.9" />
<text x="49.6" y="173.1" font-size="7.65" text-anchor="end" fill="#4d4d4d" >4e+07</text>
<line x1="50.8" y1="170.4" x2="52.5" y2="170.4" stroke="#4d4d4d" stroke-width="0.9" />
<text x="49.6" y="197.3" font-size="7.65" text-anchor="end" fill="#4d4d4d" >2e+07</text>
<line x1="50.8" y1="194.6" x2="52.5" y2="194.6" stroke="#4d4d4d" stroke-width="0.9" />
<line x1="64.8" y1="210.7" x2="64.8" y2="212.5" stroke="#4d4d4d" stroke-width="0.9" />
<text x="64.8" y="219" font-size="7.65" text-anchor="middle" fill="#4d4d4d" >1</text>
<line x1="145.43" y1="210.7" x2="145.43" y2="212.5" stroke="#4d4d4d" stroke-width="0.9" />
<text x="145.43" y="219" font-size="7.65" text-anchor="middle" fill="#4d4d4d" >2</text>
<line x1="226.06" y1="210.7" x2="226.06" y2="212.5" stroke="#4d4d4d" stroke-width="0.9" />
<text x="226.06" y="219" font-size="7.65" text-anchor="middle" fill="#4d4d4d" >3</text>
<line x1="306.69" y1="210.7" x2="306.69" y2="212.5" stroke="#4d4d4d" stroke-width="0.9" />
<text x="306.69" y="219" font-size="7.65" text-anchor="middle" fill="#4d4d4d" >4</text>
<text x="53" y="232.4" font-size="7.65" text-anchor="start" fill="#000" >High transmission intensity setting, high relative infectiousness of reinfections (50%)</text>
<rect x="64.8" y="239.8" width="20.16" height="60.8" fill="#f0f0fd"/>
<rect x="125.27" y="239.8" width="40.31" height="60.8" fill="#f0f0fd"/>
<rect x="205.9" y="239.8" width="40.31" height="60.8" fill="#f0f0fd"/>
<rect x="286.53" y="239.8" width="20.16" height="60.8" fill="#f0f0fd"/>
<line x1="64.8" y1="271.3" x2="306.69" y2="271.3" stroke="#e066ff" stroke-width="1.65" />
<path d="M64.8,285.33 L65.3,285.51 L65.8,285.66 L66.3,285.79 L66.8,285.9 L67.3,285.98 L67.8,286.04 L68.3,286.08 L68.8,286.1 L69.3,286.09 L69.8,286.06 L70.3,286.01 L70.8,285.94 L71.3,285.84 L71.8,285.72 L72.3,285.58 L72.8,285.41 L73.3,285.23 L73.8,285.02 L74.3,284.79 L74.8,284.54 L75.3,284.27 L75.8,283.98 L76.3,283.67 L76.8,283.34 L77.3,282.99 L77.8,282.62 L78.3,282.24 L78.8,281.83 L79.3,281.42 L79.8,280.98 L80.3,280.53 L80.8,280.07 L81.3,279.59 L81.8,279.1 L82.3,278.6 L82.8,278.09 L83.3,277.56 L83.8,277.03 L84.3,276.48 L84.8,275.93 L85.3,275.37 L85.8,274.81 L86.3,274.23 L86.8,273.66 L87.3,273.08 L87.8,272.49 L88.3,271.91 L88.8,271.32 L89.3,270.73 L89.8,270.14 L90.3,269.55 L90.8,268.97 L91.3,268.39 L91.8,267.81 L92.3,267.24 L92.8,266.67 L93.3,266.11 L93.8,265.56 L94.3,265.01 L94.8,264.48 L95.3,263.95 L95.8,263.44 L96.3,262.94 L96.8,262.44 L97.3,261.97 L97.8,261.5 L98.3,261.05 L98.8,260.62 L99.3,260.2 L99.8,259.79 L100.3,259.41 L100.8,259.04 L101.3,258.69 L101.8,258.36 L102.3,258.05 L102.8,257.75 L103.3,257.48 L103.8,257.23 L104.3,257 L104.8,256.79 L105.3,256.6 L105.8,256.44 L106.3,256.29 L106.8,256.17 L107.3,256.07 L107.8,255.99 L108.3,255.94 L108.8,255.91 L109.3,255.9 L109.8,255.92 L110.3,255.95 L110.8,256.01 L111.3,256.1 L111.8,256.2 L112.3,256.33 L112.8,256.48 L113.3,256.65 L113.8,256.85 L114.3,257.06 L114.8,257.3 L115.3,257.56 L115.8,257.84 L116.3,258.14 L116.8,258.45 L117.3,258.79 L117.8,259.15 L118.3,259.52 L118.8,259.91 L119.3,260.32 L119.8,260.74 L120.3,261.18 L120.8,261.64 L121.3,262.1 L121.8,262.59 L122.3,263.08 L122.8,263.59 L123.3,264.11 L123.8,264.63 L124.3,265.17 L124.8,265.72 L125.3,266.27 L125.8,266.84 L126.3,267.41 L126.8,267.98 L127.3,268.56 L127.8,269.14 L128.3,269.73 L128.8,270.31 L129.3,270.9 L129.8,271.49 L130.3,272.08 L130.8,272.66 L131.3,273.25 L131.8,273.83 L132.3,274.4 L132.8,274.97 L133.3,275.54 L133.8,276.09 L134.3,276.64 L134.8,277.18 L135.3,277.72 L135.8,278.24 L136.3,278.75 L136.8,279.25 L137.3,279.73 L137.8,280.21 L138.3,280.67 L138.8,281.11 L139.3,281.54 L139.8,281.95 L140.3,282.35 L140.8,282.73 L141.3,283.09 L141.8,283.43 L142.3,283.76 L142.8,284.06 L143.3,284.35 L143.8,284.61 L144.3,284.86 L144.8,285.08 L145.3,285.28 L145.8,285.46 L146.3,285.62 L146.8,285.76 L147.3,285.87 L147.8,285.96 L148.3,286.03 L148.8,286.07 L149.3,286.1 L149.8,286.1 L150.3,286.07 L150.8,286.03 L151.3,285.96 L151.8,285.87 L152.3,285.75 L152.8,285.62 L153.3,285.46 L153.8,285.28 L154.3,285.07 L154.8,284.85 L155.3,284.61 L155.8,284.34 L156.3,284.05 L156.8,283.75 L157.3,283.42 L157.8,283.08 L158.3,282.72 L158.8,282.34 L159.3,281.94 L159.8,281.53 L160.3,281.1 L160.8,280.65 L161.3,280.19 L161.8,279.72 L162.3,279.23 L162.8,278.73 L163.3,278.22 L163.8,277.7 L164.3,277.17 L164.8,276.63 L165.3,276.08 L165.8,275.52 L166.3,274.95 L166.8,274.38 L167.3,273.81 L167.8,273.23 L168.3,272.64 L168.8,272.06 L169.3,271.47 L169.8,270.88 L170.3,270.29 L170.8,269.71 L171.3,269.12 L171.8,268.54 L172.3,267.96 L172.8,267.39 L173.3,266.82 L173.8,266.26 L174.3,265.7 L174.8,265.16 L175.3,264.62 L175.8,264.09 L176.3,263.57 L176.8,263.06 L177.3,262.57 L177.8,262.09 L178.3,261.62 L178.8,261.17 L179.3,260.73 L179.8,260.3 L180.3,259.9 L180.8,259.51 L181.3,259.13 L181.8,258.78 L182.3,258.44 L182.8,258.13 L183.3,257.83 L183.8,257.55 L184.3,257.29 L184.8,257.06 L185.3,256.84 L185.8,256.65 L186.3,256.48 L186.8,256.33 L187.3,256.2 L187.8,256.09 L188.3,256.01 L188.8,255.95 L189.3,255.91 L189.8,255.9 L190.3,255.91 L190.8,255.94 L191.3,256 L191.8,256.07 L192.3,256.17 L192.8,256.3 L193.3,256.44 L193.8,256.61 L194.3,256.8 L194.8,257.01 L195.3,257.24 L195.8,257.49 L196.3,257.76 L196.8,258.06 L197.3,258.37 L197.8,258.7 L198.3,259.05 L198.8,259.42 L199.3,259.81 L199.8,260.21 L200.3,260.63 L200.8,261.07 L201.3,261.52 L201.8,261.98 L202.3,262.46 L202.8,262.95 L203.3,263.45 L203.8,263.97 L204.3,264.5 L204.8,265.03 L205.3,265.58 L205.8,266.13 L206.3,266.69 L206.8,267.26 L207.3,267.83 L207.8,268.41 L208.3,268.99 L208.8,269.57 L209.3,270.16 L209.8,270.75 L210.3,271.34 L210.8,271.92 L211.3,272.51 L211.8,273.09 L212.3,273.67 L212.8,274.25 L213.3,274.82 L213.8,275.39 L214.3,275.95 L214.8,276.5 L215.3,277.04 L215.8,277.58 L216.3,278.1 L216.8,278.62 L217.3,279.12 L217.8,279.61 L218.3,280.09 L218.8,280.55 L219.3,281 L219.8,281.43 L220.3,281.85 L220.8,282.25 L221.3,282.63 L221.8,283 L222.3,283.35 L222.8,283.68 L223.3,283.99 L223.8,284.28 L224.3,284.55 L224.8,284.8 L225.3,285.02 L225.8,285.23 L226.3,285.42 L226.8,285.58 L227.3,285.72 L227.8,285.84 L228.3,285.94 L228.8,286.01 L229.3,286.07 L229.8,286.09 L230.3,286.1 L230.8,286.08 L231.3,286.04 L231.8,285.98 L232.3,285.89 L232.8,285.78 L233.3,285.65 L233.8,285.5 L234.3,285.33 L234.8,285.13 L235.3,284.91 L235.8,284.67 L236.3,284.41 L236.8,284.13 L237.3,283.83 L237.8,283.51 L238.3,283.17 L238.8,282.81 L239.3,282.44 L239.8,282.05 L240.3,281.64 L240.8,281.21 L241.3,280.77 L241.8,280.31 L242.3,279.84 L242.8,279.36 L243.3,278.86 L243.8,278.36 L244.3,277.84 L244.8,277.31 L245.3,276.77 L245.8,276.22 L246.3,275.66 L246.8,275.1 L247.3,274.53 L247.8,273.96 L248.3,273.38 L248.8,272.8 L249.3,272.21 L249.8,271.62 L250.3,271.03 L250.8,270.45 L251.3,269.86 L251.8,269.27 L252.3,268.69 L252.8,268.11 L253.3,267.54 L253.8,266.97 L254.3,266.4 L254.8,265.85 L255.3,265.3 L255.8,264.76 L256.3,264.23 L256.8,263.7 L257.3,263.2 L257.8,262.7 L258.3,262.21 L258.8,261.74 L259.3,261.28 L259.8,260.84 L260.3,260.41 L260.8,260 L261.3,259.61 L261.8,259.23 L262.3,258.87 L262.8,258.53 L263.3,258.21 L263.8,257.9 L264.3,257.62 L264.8,257.36 L265.3,257.12 L265.8,256.9 L266.3,256.7 L266.8,256.52 L267.3,256.36 L267.8,256.23 L268.3,256.12 L268.8,256.03 L269.3,255.96 L269.8,255.92 L270.3,255.9 L270.8,255.9 L271.3,255.93 L271.8,255.98 L272.3,256.05 L272.8,256.14 L273.3,256.26 L273.8,256.4 L274.3,256.56 L274.8,256.74 L275.3,256.95 L275.8,257.18 L276.3,257.42 L276.8,257.69 L277.3,257.98 L277.8,258.29 L278.3,258.61 L278.8,258.96 L279.3,259.32 L279.8,259.7 L280.3,260.1 L280.8,260.52 L281.3,260.95 L281.8,261.4 L282.3,261.86 L282.8,262.33 L283.3,262.82 L283.8,263.32 L284.3,263.83 L284.8,264.36 L285.3,264.89 L285.8,265.43 L286.3,265.98 L286.8,266.54 L287.3,267.11 L287.8,267.68 L288.3,268.26 L288.8,268.84 L289.3,269.42 L289.8,270.01 L290.3,270.59 L290.8,271.18 L291.3,271.77 L291.8,272.36 L292.3,272.94 L292.8,273.52 L293.3,274.1 L293.8,274.68 L294.3,275.24 L294.8,275.8 L295.3,276.36 L295.8,276.9 L296.3,277.44 L296.8,277.97 L297.3,278.48 L297.8,278.99 L298.3,279.48 L298.8,279.96 L299.3,280.43 L299.8,280.88 L300.3,281.32 L300.8,281.74 L301.3,282.15 L301.8,282.53 L302.3,282.91 L302.8,283.26 L303.3,283.59 L303.8,283.91 L304.3,284.2 L304.8,284.48 L305.3,284.73 L305.8,284.97 L306.3,285.18 L306.69,285.33" fill="none" stroke="#a27cff" stroke-width="1.65" />
<path d="M64.8,299.44 L65.3,299.8 L65.8,300.1 L66.3,300.37 L66.8,300.59 L67.3,300.76 L67.8,300.89 L68.3,300.97 L68.8,301 L69.3,300.99 L69.8,300.93 L70.3,300.82 L70.8,300.67 L71.3,300.47 L71.8,300.23 L72.3,299.94 L72.8,299.61 L73.3,299.23 L73.8,298.81 L74.3,298.34 L74.8,297.84 L75.3,297.29 L75.8,296.7 L76.3,296.07 L76.8,295.4 L77.3,294.69 L77.8,293.95 L78.3,293.17 L78.8,292.36 L79.3,291.51 L79.8,290.63 L80.3,289.72 L80.8,288.78 L81.3,287.82 L81.8,286.82 L82.3,285.8 L82.8,284.76 L83.3,283.7 L83.8,282.62 L84.3,281.51 L84.8,280.39 L85.3,279.26 L85.8,278.11 L86.3,276.95 L86.8,275.78 L87.3,274.61 L87.8,273.42 L88.3,272.23 L88.8,271.04 L89.3,269.85 L89.8,268.66 L90.3,267.47 L90.8,266.29 L91.3,265.11 L91.8,263.94 L92.3,262.78 L92.8,261.63 L93.3,260.49 L93.8,259.37 L94.3,258.27 L94.8,257.19 L95.3,256.12 L95.8,255.08 L96.3,254.06 L96.8,253.06 L97.3,252.09 L97.8,251.15 L98.3,250.24 L98.8,249.36 L99.3,248.51 L99.8,247.69 L100.3,246.91 L100.8,246.16 L101.3,245.46 L101.8,244.78 L102.3,244.15 L102.8,243.56 L103.3,243.01 L103.8,242.5 L104.3,242.03 L104.8,241.6 L105.3,241.22 L105.8,240.88 L106.3,240.59 L106.8,240.35 L107.3,240.14 L107.8,239.99 L108.3,239.88 L108.8,239.82 L109.3,239.8 L109.8,239.83 L110.3,239.91 L110.8,240.03 L111.3,240.2 L111.8,240.41 L112.3,240.67 L112.8,240.98 L113.3,241.33 L113.8,241.72 L114.3,242.16 L114.8,242.64 L115.3,243.16 L115.8,243.73 L116.3,244.33 L116.8,244.98 L117.3,245.66 L117.8,246.38 L118.3,247.13 L118.8,247.93 L119.3,248.75 L119.8,249.61 L120.3,250.5 L120.8,251.42 L121.3,252.37 L121.8,253.35 L122.3,254.35 L122.8,255.38 L123.3,256.43 L123.8,257.5 L124.3,258.59 L124.8,259.7 L125.3,260.82 L125.8,261.96 L126.3,263.12 L126.8,264.28 L127.3,265.45 L127.8,266.63 L128.3,267.82 L128.8,269.01 L129.3,270.2 L129.8,271.39 L130.3,272.58 L130.8,273.77 L131.3,274.95 L131.8,276.13 L132.3,277.29 L132.8,278.45 L133.3,279.59 L133.8,280.72 L134.3,281.84 L134.8,282.93 L135.3,284.01 L135.8,285.07 L136.3,286.1 L136.8,287.11 L137.3,288.1 L137.8,289.06 L138.3,289.99 L138.8,290.89 L139.3,291.76 L139.8,292.6 L140.3,293.4 L140.8,294.17 L141.3,294.9 L141.8,295.6 L142.3,296.26 L142.8,296.87 L143.3,297.45 L143.8,297.99 L144.3,298.48 L144.8,298.93 L145.3,299.34 L145.8,299.71 L146.3,300.03 L146.8,300.3 L147.3,300.53 L147.8,300.72 L148.3,300.86 L148.8,300.95 L149.3,300.99 L149.8,300.99 L150.3,300.95 L150.8,300.85 L151.3,300.71 L151.8,300.53 L152.3,300.3 L152.8,300.02 L153.3,299.7 L153.8,299.33 L154.3,298.92 L154.8,298.47 L155.3,297.97 L155.8,297.43 L156.3,296.85 L156.8,296.23 L157.3,295.58 L157.8,294.88 L158.3,294.15 L158.8,293.38 L159.3,292.57 L159.8,291.73 L160.3,290.86 L160.8,289.96 L161.3,289.03 L161.8,288.07 L162.3,287.08 L162.8,286.07 L163.3,285.04 L163.8,283.98 L164.3,282.9 L164.8,281.8 L165.3,280.69 L165.8,279.56 L166.3,278.41 L166.8,277.26 L167.3,276.09 L167.8,274.91 L168.3,273.73 L168.8,272.54 L169.3,271.35 L169.8,270.16 L170.3,268.97 L170.8,267.78 L171.3,266.59 L171.8,265.41 L172.3,264.24 L172.8,263.08 L173.3,261.93 L173.8,260.79 L174.3,259.66 L174.8,258.56 L175.3,257.47 L175.8,256.4 L176.3,255.35 L176.8,254.32 L177.3,253.32 L177.8,252.34 L178.3,251.39 L178.8,250.47 L179.3,249.58 L179.8,248.73 L180.3,247.9 L180.8,247.11 L181.3,246.35 L181.8,245.64 L182.3,244.95 L182.8,244.31 L183.3,243.71 L183.8,243.15 L184.3,242.62 L184.8,242.15 L185.3,241.71 L185.8,241.32 L186.3,240.97 L186.8,240.66 L187.3,240.41 L187.8,240.19 L188.3,240.02 L188.8,239.9 L189.3,239.83 L189.8,239.8 L190.3,239.82 L190.8,239.88 L191.3,239.99 L191.8,240.15 L192.3,240.35 L192.8,240.6 L193.3,240.89 L193.8,241.23 L194.3,241.62 L194.8,242.04 L195.3,242.51 L195.8,243.02 L196.3,243.58 L196.8,244.17 L197.3,244.8 L197.8,245.48 L198.3,246.19 L198.8,246.93 L199.3,247.72 L199.8,248.53 L200.3,249.39 L200.8,250.27 L201.3,251.18 L201.8,252.12 L202.3,253.09 L202.8,254.09 L203.3,255.11 L203.8,256.15 L204.3,257.22 L204.8,258.3 L205.3,259.41 L205.8,260.53 L206.3,261.67 L206.8,262.81 L207.3,263.98 L207.8,265.15 L208.3,266.32 L208.8,267.51 L209.3,268.7 L209.8,269.89 L210.3,271.08 L210.8,272.27 L211.3,273.46 L211.8,274.64 L212.3,275.82 L212.8,276.99 L213.3,278.15 L213.8,279.3 L214.3,280.43 L214.8,281.55 L215.3,282.65 L215.8,283.73 L216.3,284.8 L216.8,285.84 L217.3,286.85 L217.8,287.85 L218.3,288.81 L218.8,289.75 L219.3,290.66 L219.8,291.54 L220.3,292.38 L220.8,293.2 L221.3,293.97 L221.8,294.72 L222.3,295.42 L222.8,296.09 L223.3,296.72 L223.8,297.3 L224.3,297.85 L224.8,298.36 L225.3,298.82 L225.8,299.24 L226.3,299.62 L226.8,299.95 L227.3,300.24 L227.8,300.48 L228.3,300.67 L228.8,300.83 L229.3,300.93 L229.8,300.99 L230.3,301 L230.8,300.96 L231.3,300.88 L231.8,300.75 L232.3,300.58 L232.8,300.36 L233.3,300.1 L233.8,299.79 L234.3,299.43 L234.8,299.03 L235.3,298.59 L235.8,298.1 L236.3,297.58 L236.8,297.01 L237.3,296.4 L237.8,295.75 L238.3,295.06 L238.8,294.34 L239.3,293.58 L239.8,292.78 L240.3,291.95 L240.8,291.09 L241.3,290.2 L241.8,289.27 L242.3,288.32 L242.8,287.34 L243.3,286.34 L243.8,285.31 L244.3,284.25 L244.8,283.18 L245.3,282.09 L245.8,280.98 L246.3,279.85 L246.8,278.71 L247.3,277.56 L247.8,276.39 L248.3,275.22 L248.8,274.04 L249.3,272.85 L249.8,271.66 L250.3,270.47 L250.8,269.28 L251.3,268.09 L251.8,266.9 L252.3,265.72 L252.8,264.55 L253.3,263.38 L253.8,262.23 L254.3,261.08 L254.8,259.95 L255.3,258.84 L255.8,257.75 L256.3,256.67 L256.8,255.62 L257.3,254.58 L257.8,253.58 L258.3,252.59 L258.8,251.64 L259.3,250.71 L259.8,249.81 L260.3,248.95 L260.8,248.11 L261.3,247.31 L261.8,246.55 L262.3,245.82 L262.8,245.13 L263.3,244.48 L263.8,243.86 L264.3,243.29 L264.8,242.76 L265.3,242.27 L265.8,241.82 L266.3,241.41 L266.8,241.05 L267.3,240.74 L267.8,240.47 L268.3,240.24 L268.8,240.06 L269.3,239.93 L269.8,239.84 L270.3,239.8 L270.8,239.81 L271.3,239.86 L271.8,239.96 L272.3,240.1 L272.8,240.3 L273.3,240.53 L273.8,240.81 L274.3,241.14 L274.8,241.51 L275.3,241.93 L275.8,242.39 L276.3,242.89 L276.8,243.43 L277.3,244.01 L277.8,244.64 L278.3,245.3 L278.8,246 L279.3,246.74 L279.8,247.51 L280.3,248.32 L280.8,249.16 L281.3,250.04 L281.8,250.94 L282.3,251.87 L282.8,252.84 L283.3,253.83 L283.8,254.84 L284.3,255.88 L284.8,256.94 L285.3,258.02 L285.8,259.12 L286.3,260.24 L286.8,261.37 L287.3,262.51 L287.8,263.67 L288.3,264.84 L288.8,266.02 L289.3,267.2 L289.8,268.39 L290.3,269.58 L290.8,270.77 L291.3,271.96 L291.8,273.15 L292.3,274.34 L292.8,275.52 L293.3,276.69 L293.8,277.85 L294.3,279 L294.8,280.14 L295.3,281.26 L295.8,282.37 L296.3,283.45 L296.8,284.52 L297.3,285.57 L297.8,286.59 L298.3,287.59 L298.8,288.56 L299.3,289.51 L299.8,290.43 L300.3,291.31 L300.8,292.17 L301.3,292.99 L301.8,293.77 L302.3,294.53 L302.8,295.24 L303.3,295.92 L303.8,296.56 L304.3,297.16 L304.8,297.71 L305.3,298.23 L305.8,298.7 L306.3,299.14 L306.69,299.44" fill="none" stroke="#5a4692" stroke-width="1.65" />
<path d="M52.5,237.3 L52.5,303.5 L319,303.5" fill="none" stroke="#4d4d4d" stroke-width="1"/>
<text x="49.6" y="253.1" font-size="7.65" text-anchor="end" fill="#4d4d4d" >7.0e+07</text>
<line x1="50.8" y1="250.4" x2="52.5" y2="250.4" stroke="#4d4d4d" stroke-width="0.9" />
<text x="49.6" y="269.5" font-size="7.65" text-anchor="end" fill="#4d4d4d" >6.5e+07</text>
<line x1="50.8" y1="266.8" x2="52.5" y2="266.8" stroke="#4d4d4d" stroke-width="0.9" />
<text x="49.6" y="285.7" font-size="7.65" text-anchor="end" fill="#4d4d4d" >6.0e+07</text>
<line x1="50.8" y1="283" x2="52.5" y2="283" stroke="#4d4d4d" stroke-width="0.9" />
<text x="49.6" y="301.9" font-size="7.65" text-anchor="end" fill="#4d4d4d" >5.5e+07</text>
<line x1="50.8" y1="299.2" x2="52.5" y2="299.2" stroke="#4d4d4d" stroke-width="0.9" />
<line x1="64.8" y1="303.5" x2="64.8" y2="305.3" stroke="#4d4d4d" stroke-width="0.9" />
<text x="64.8" y="312" font-size="7.65" text-anchor="middle" fill="#4d4d4d" >1</text>
<line x1="145.43" y1="303.5" x2="145.43" y2="305.3" stroke="#4d4d4d" stroke-width="0.9" />
<text x="145.43" y="312" font-size="7.65" text-anchor="middle" fill="#4d4d4d" >2</text>
<line x1="226.06" y1="303.5" x2="226.06" y2="305.3" stroke="#4d4d4d" stroke-width="0.9" />
<text x="226.06" y="312" font-size="7.65" text-anchor="middle" fill="#4d4d4d" >3</text>
<line x1="306.69" y1="303.5" x2="306.69" y2="305.3" stroke="#4d4d4d" stroke-width="0.9" />
<text x="306.69" y="312" font-size="7.65" text-anchor="middle" fill="#4d4d4d" >4</text>
<rect x="64.9" y="335.5" width="60.53" height="97.5" fill="#f0f0fd"/>
<rect x="246.47" y="335.5" width="60.53" height="97.5" fill="#f0f0fd"/>
<line x1="85.08" y1="330.7" x2="85.08" y2="437" stroke="#ebebeb" stroke-width="0.6" />
<line x1="105.25" y1="330.7" x2="105.25" y2="437" stroke="#ebebeb" stroke-width="0.6" />
<line x1="125.43" y1="330.7" x2="125.43" y2="437" stroke="#ebebeb" stroke-width="0.6" />
<line x1="145.6" y1="330.7" x2="145.6" y2="437" stroke="#ebebeb" stroke-width="0.6" />
<line x1="165.78" y1="330.7" x2="165.78" y2="437" stroke="#ebebeb" stroke-width="0.6" />
<line x1="185.95" y1="330.7" x2="185.95" y2="437" stroke="#ebebeb" stroke-width="0.6" />
<line x1="206.12" y1="330.7" x2="206.12" y2="437" stroke="#ebebeb" stroke-width="0.6" />
<line x1="226.3" y1="330.7" x2="226.3" y2="437" stroke="#ebebeb" stroke-width="0.6" />
<line x1="246.47" y1="330.7" x2="246.47" y2="437" stroke="#ebebeb" stroke-width="0.6" />
<line x1="266.65" y1="330.7" x2="266.65" y2="437" stroke="#ebebeb" stroke-width="0.6" />
<line x1="286.82" y1="330.7" x2="286.82" y2="437" stroke="#ebebeb" stroke-width="0.6" />
<line x1="64.9" y1="382.4" x2="307" y2="382.4" stroke="#e066ff" stroke-width="1.65" />
<path d="M64.9,359.9 C67.85,360.38 77,361.37 82.6,362.8 C88.2,364.23 92.83,365.85 98.5,368.5 C104.17,371.15 110.93,375.12 116.6,378.7 C122.27,382.28 126.83,386.42 132.5,390 C138.17,393.58 144.93,397.55 150.6,400.2 C156.27,402.85 161.22,404.58 166.5,405.9 C171.78,407.22 176.95,407.92 182.3,408.1 C187.65,408.28 193.25,408.13 198.6,407 C203.95,405.87 209.12,403.57 214.4,401.3 C219.68,399.03 225.38,396.22 230.3,393.4 C235.22,390.58 239.37,387.23 243.9,384.4 C248.43,381.57 252.97,379.05 257.5,376.4 C262.03,373.75 266.2,370.77 271.1,368.5 C276,366.23 280.93,364.23 286.9,362.8 C292.87,361.37 303.57,360.38 306.9,359.9" fill="none" stroke="#a27cff" stroke-width="1.65" stroke-dasharray="6.5,5.5"/>
<path d="M64.9,335 C67.85,335.87 77,337.27 82.6,340.2 C88.2,343.13 93.58,347.88 98.5,352.6 C103.42,357.32 107.57,363.2 112.1,368.5 C116.63,373.8 121.55,379.3 125.7,384.4 C129.85,389.5 132.85,394.2 137,399.1 C141.15,404 146.07,409.47 150.6,413.8 C155.13,418.13 159.67,422.27 164.2,425.1 C168.73,427.93 174.17,429.6 177.8,430.8 C181.43,432 182.92,432.48 186,432.3 C189.08,432.12 192.32,431.47 196.3,429.7 C200.28,427.93 205.37,425.3 209.9,421.7 C214.43,418.1 218.97,413 223.5,408.1 C228.03,403.2 232.57,397.77 237.1,392.3 C241.63,386.83 246.17,380.78 250.7,375.3 C255.23,369.82 259.77,364.12 264.3,359.4 C268.83,354.68 273.37,350.38 277.9,347 C282.43,343.62 286.67,341.02 291.5,339.1 C296.33,337.18 304.33,336.1 306.9,335.5" fill="none" stroke="#5a4692" stroke-width="1.65" stroke-dasharray="6.5,5.5"/>
<path d="M64.9,402.9 C66.92,403.13 72.15,404.45 77,404.3 C81.85,404.15 88.53,403.25 94,402 C99.47,400.75 104.52,398.8 109.8,396.8 C115.08,394.8 120.78,392.38 125.7,390 C130.62,387.62 134.4,385.7 139.3,382.5 C144.2,379.3 150.2,373.88 155.1,370.8 C160,367.72 163.78,365.9 168.7,364 C173.62,362.1 179.8,360.23 184.6,359.4 C189.4,358.57 192.9,358.62 197.5,359 C202.1,359.38 207.12,360.12 212.2,361.7 C217.28,363.28 222.72,366.05 228,368.5 C233.28,370.95 238.98,373.95 243.9,376.4 C248.82,378.85 252.97,380.93 257.5,383.2 C262.03,385.47 266.2,387.62 271.1,390 C276,392.38 280.93,395.35 286.9,397.5 C292.87,399.65 303.57,402 306.9,402.9" fill="none" stroke="#a27cff" stroke-width="1.65" />
<path d="M64.9,423.3 C67.3,423.8 74.45,426.37 79.3,426.3 C84.15,426.23 89.28,424.8 94,422.9 C98.72,421 103.45,417.93 107.6,414.9 C111.75,411.87 115.5,408.08 118.9,404.7 C122.3,401.32 125.37,397.42 128,394.6 C130.63,391.78 132.63,389.82 134.7,387.8 C136.77,385.78 137.75,385.72 140.4,382.5 C143.05,379.28 147.02,373.48 150.6,368.5 C154.18,363.52 158.13,356.93 161.9,352.6 C165.67,348.27 169.42,344.95 173.2,342.5 C176.98,340.05 180.55,339.03 184.6,337.9 C188.65,336.77 193.28,335.5 197.5,335.7 C201.72,335.9 205.57,336.83 209.9,339.1 C214.23,341.37 218.97,345.15 223.5,349.3 C228.03,353.45 232.95,359.48 237.1,364 C241.25,368.52 245,373.2 248.4,376.4 C251.8,379.6 254.1,379.98 257.5,383.2 C260.9,386.42 265.03,391.73 268.8,395.7 C272.57,399.67 275.95,403.42 280.1,407 C284.25,410.58 289.23,414.55 293.7,417.2 C298.17,419.85 304.7,421.95 306.9,422.9" fill="none" stroke="#5a4692" stroke-width="1.65" />
<path d="M52.5,330.7 L52.5,437.3 L319.4,437.3" fill="none" stroke="#4d4d4d" stroke-width="1"/>
<line x1="319.4" y1="330.7" x2="319.4" y2="437.8" stroke="#8a8a8a" stroke-width="1" />
<text x="49.4" y="354.4" font-size="7.65" text-anchor="end" fill="#4d4d4d" >7.0e+07</text>
<line x1="50.8" y1="351.7" x2="52.5" y2="351.7" stroke="#4d4d4d" stroke-width="0.9" />
<text x="49.4" y="378.5" font-size="7.65" text-anchor="end" fill="#4d4d4d" >6.5e+07</text>
<line x1="50.8" y1="375.8" x2="52.5" y2="375.8" stroke="#4d4d4d" stroke-width="0.9" />
<text x="49.4" y="402.3" font-size="7.65" text-anchor="end" fill="#4d4d4d" >6.0e+07</text>
<line x1="50.8" y1="399.6" x2="52.5" y2="399.6" stroke="#4d4d4d" stroke-width="0.9" />
<text x="49.4" y="426.4" font-size="7.65" text-anchor="end" fill="#4d4d4d" >5.5e+07</text>
<line x1="50.8" y1="423.7" x2="52.5" y2="423.7" stroke="#4d4d4d" stroke-width="0.9" />
<text x="321.9" y="358.3" font-size="7.65" text-anchor="start" fill="#4d4d4d" >9e+05</text>
<line x1="319.4" y1="355.6" x2="321.6" y2="355.6" stroke="#8a8a8a" stroke-width="0.9" />
<text x="321.9" y="384.2" font-size="7.65" text-anchor="start" fill="#4d4d4d" >6e+05</text>
<line x1="319.4" y1="381.5" x2="321.6" y2="381.5" stroke="#8a8a8a" stroke-width="0.9" />
<text x="321.9" y="410.2" font-size="7.65" text-anchor="start" fill="#4d4d4d" >3e+05</text>
<line x1="319.4" y1="407.5" x2="321.6" y2="407.5" stroke="#8a8a8a" stroke-width="0.9" />
<text x="321.9" y="435.6" font-size="7.65" text-anchor="start" fill="#4d4d4d" >0e+00</text>
<line x1="319.4" y1="432.9" x2="321.6" y2="432.9" stroke="#8a8a8a" stroke-width="0.9" />
<line x1="85.08" y1="437.3" x2="85.08" y2="439.3" stroke="#4d4d4d" stroke-width="0.9" />
<line x1="105.25" y1="437.3" x2="105.25" y2="439.3" stroke="#4d4d4d" stroke-width="0.9" />
<line x1="125.43" y1="437.3" x2="125.43" y2="439.3" stroke="#4d4d4d" stroke-width="0.9" />
<line x1="145.6" y1="437.3" x2="145.6" y2="439.3" stroke="#4d4d4d" stroke-width="0.9" />
<line x1="165.78" y1="437.3" x2="165.78" y2="439.3" stroke="#4d4d4d" stroke-width="0.9" />
<line x1="185.95" y1="437.3" x2="185.95" y2="439.3" stroke="#4d4d4d" stroke-width="0.9" />
<line x1="206.12" y1="437.3" x2="206.12" y2="439.3" stroke="#4d4d4d" stroke-width="0.9" />
<line x1="226.3" y1="437.3" x2="226.3" y2="439.3" stroke="#4d4d4d" stroke-width="0.9" />
<line x1="246.47" y1="437.3" x2="246.47" y2="439.3" stroke="#4d4d4d" stroke-width="0.9" />
<line x1="266.65" y1="437.3" x2="266.65" y2="439.3" stroke="#4d4d4d" stroke-width="0.9" />
<line x1="286.82" y1="437.3" x2="286.82" y2="439.3" stroke="#4d4d4d" stroke-width="0.9" />
<line x1="307" y1="437.3" x2="307" y2="439.3" stroke="#4d4d4d" stroke-width="0.9" />
<text x="74.49" y="446.3" font-size="7.65" text-anchor="middle" fill="#4d4d4d" >Jan</text>
<text x="94.66" y="446.3" font-size="7.65" text-anchor="middle" fill="#4d4d4d" >Feb</text>
<text x="114.84" y="446.3" font-size="7.65" text-anchor="middle" fill="#4d4d4d" >Mar</text>
<text x="135.01" y="446.3" font-size="7.65" text-anchor="middle" fill="#4d4d4d" >Apr</text>
<text x="155.19" y="446.3" font-size="7.65" text-anchor="middle" fill="#4d4d4d" >May</text>
<text x="175.36" y="446.3" font-size="7.65" text-anchor="middle" fill="#4d4d4d" >June</text>
<text x="195.54" y="446.3" font-size="7.65" text-anchor="middle" fill="#4d4d4d" >July</text>
<text x="215.71" y="446.3" font-size="7.65" text-anchor="middle" fill="#4d4d4d" >Aug</text>
<text x="235.89" y="446.3" font-size="7.65" text-anchor="middle" fill="#4d4d4d" >Sept</text>
<text x="256.06" y="446.3" font-size="7.65" text-anchor="middle" fill="#4d4d4d" >Oct</text>
<text x="276.24" y="446.3" font-size="7.65" text-anchor="middle" fill="#4d4d4d" >Nov</text>
<text x="296.41" y="446.3" font-size="7.65" text-anchor="middle" fill="#4d4d4d" >Dec</text>
<text x="0" y="0" font-size="9.3" text-anchor="middle" fill="#000" transform="translate(344.6,384.2) rotate(90)">Births</text>
<text x="0" y="0" font-size="13.7" text-anchor="middle" fill="#000" transform="translate(10.8,218.7) rotate(-90)">Infectious individuals</text>
<line x1="61" y1="463.5" x2="72" y2="463.5" stroke="#444" stroke-width="1.1" stroke-dasharray="3.3,3.3"/>
<text x="77.3" y="465.8" font-size="6.6" text-anchor="start" fill="#000" >Births</text>
<line x1="99.7" y1="463.5" x2="110.2" y2="463.5" stroke="#444" stroke-width="1.1" />
<text x="115.6" y="465.8" font-size="6.6" text-anchor="start" fill="#000" >Infections</text>
<text x="154" y="466" font-size="8.6" text-anchor="start" fill="#000" >strength of</text>
<text x="154" y="475.2" font-size="8.6" text-anchor="start" fill="#000" >seasonality</text>
<text x="154" y="484" font-size="8.6" text-anchor="start" fill="#000" >of calving</text>
<line x1="201.4" y1="463.3" x2="211.9" y2="463.3" stroke="#e066ff" stroke-width="0.9" opacity="0.7"/>
<text x="217.5" y="465.7" font-size="6.5" text-anchor="start" fill="#000" >0%</text>
<line x1="232.6" y1="463.3" x2="243.3" y2="463.3" stroke="#a27cff" stroke-width="0.9" opacity="0.7"/>
<text x="249.1" y="465.7" font-size="6.5" text-anchor="start" fill="#000" >50%</text>
<line x1="267.4" y1="463.3" x2="278.3" y2="463.3" stroke="#5a4692" stroke-width="0.9" opacity="0.7"/>
<text x="283.8" y="465.7" font-size="6.5" text-anchor="start" fill="#000" >100%</text>
<text x="330.4" y="12.9" font-size="17.6" text-anchor="start" fill="#000" >B</text>
<text x="389.9" y="24.6" font-size="13.75" text-anchor="start" fill="#000" >Example of extra-annual periodicity patterns</text>
<text x="486.5" y="60.8" font-size="11.7" text-anchor="start" fill="#000" >2-year periodicity</text>
<text x="486.5" y="215.3" font-size="11.7" text-anchor="start" fill="#000" >3-year periodicity</text>
<text x="0" y="0" font-size="13.7" text-anchor="middle" fill="#000" transform="translate(345.4,209.3) rotate(-90)">Infectious individuals</text>
<g fill="none" stroke="#44749c" stroke-width="0.55" stroke-opacity="0.15" stroke-linejoin="round"><path d="M391.7,146 L394.5,159.5 L397.3,166 L400.1,164.4 L402.8,155.3 L405.6,138.8 L408.4,121 L411.2,110.4 L414,113.4 L416.8,127.7 L419.6,145.2 L422.3,157.2 L425.1,163.2 L427.9,161.8 L430.7,153.4 L433.5,138 L436.3,121.3 L439.1,111.5 L441.8,115.2 L444.6,129.6 L447.4,145.5 L450.2,158.1 L453,163.7 L455.8,160.7 L458.6,151.9 L461.4,137.4 L464.1,125 L466.9,118 L469.7,120.5 L472.5,131.1 L475.3,141.5 L478.1,147.5 L480.9,150.6 L483.6,149.9 L486.4,146 L489.2,138.4 L492,121.7 L494.8,111.2 L497.6,115.1 L500.4,129.4 L503.1,141.3 L505.9,146.7 L508.7,149 L511.5,148.4 L514.3,144.8 L517.1,139 L519.9,111.5 L522.6,95.2 L525.4,100.4 L528.2,123 L531,142.5 L533.8,150.5 L536.6,154.3 L539.4,153.2 L542.1,147.5 L544.9,138 L547.7,116.3 L550.5,103.1 L553.3,107.2 L556.1,125.6 L558.9,143.1 L561.6,152.5 L564.4,157.2 L567.2,155.8 L570,148.6 L572.8,138.4 L575.6,112 L578.4,96.3 L581.1,101.6 L583.9,123.9 L586.7,144.3 L589.5,156.8 L592.3,161.7 L595.1,160 L597.9,151.9 L600.6,137.8 L603.4,117.9 L606.2,105.1 L609,109 L611.8,126.7 L614.6,144.8 L617.4,154.9 L620.2,160.6 L622.9,159.5 L625.7,152 L628.5,139.7 L631.3,118.2 L634.1,105 L636.9,107.7 L639.7,126 L642.4,145.2 L645.2,158.4 L648,163.5 L650.8,162.3 L653.6,153.7 L656.4,138.8 L659.2,118.5 L661.9,106.1 L664.7,109.6 L667.5,126.8 L670.3,142.9"/><path d="M391.7,131.9 L394.5,150.4 L397.3,162 L400.1,166.1 L402.8,159.8 L405.6,144.5 L408.4,125.5 L411.2,108.7 L414,103.2 L416.8,112.8 L419.6,130.8 L422.3,150.1 L425.1,161.8 L427.9,164.8 L430.7,158.3 L433.5,143.4 L436.3,124.6 L439.1,105.6 L441.8,100.9 L444.6,111.4 L447.4,132.5 L450.2,149.8 L453,160.1 L455.8,162.9 L458.6,157 L461.4,142.9 L464.1,122.9 L466.9,104.2 L469.7,98 L472.5,109.1 L475.3,130.8 L478.1,143.3 L480.9,152.5 L483.6,154.3 L486.4,150.4 L489.2,140.3 L492,124.3 L494.8,108.8 L497.6,104.1 L500.4,114.4 L503.1,132.7 L505.9,144.2 L508.7,151.9 L511.5,154 L514.3,150.6 L517.1,140.5 L519.9,124.1 L522.6,105.7 L525.4,101.2 L528.2,111.8 L531,132.2 L533.8,145.5 L536.6,153.2 L539.4,155.9 L542.1,150.7 L544.9,140 L547.7,120.6 L550.5,99.1 L553.3,91.7 L556.1,105.5 L558.9,131.3 L561.6,147.8 L564.4,157.7 L567.2,159.5 L570,154.9 L572.8,141.9 L575.6,126.7 L578.4,115.9 L581.1,113.3 L583.9,120.2 L586.7,131.5 L589.5,146.5 L592.3,156.3 L595.1,158.1 L597.9,153.4 L600.6,142.7 L603.4,123.7 L606.2,105 L609,98.6 L611.8,110 L614.6,132 L617.4,145.2 L620.2,152.6 L622.9,154.5 L625.7,149.7 L628.5,140.1 L631.3,121.7 L634.1,100.8 L636.9,94.4 L639.7,107.5 L642.4,130.2 L645.2,151.8 L648,165.1 L650.8,169 L653.6,161.4 L656.4,146 L659.2,127.2 L661.9,113.9 L664.7,109.9 L667.5,118 L670.3,132.5"/><path d="M391.7,138 L394.5,151 L397.3,155.7 L400.1,154.9 L402.8,146 L405.6,129.9 L408.4,106.2 L411.2,92.7 L414,97.6 L416.8,117.9 L419.6,137 L422.3,147.6 L425.1,152.3 L427.9,150.7 L430.7,143.6 L433.5,131.1 L436.3,104.6 L439.1,88.5 L441.8,94.2 L444.6,118 L447.4,134.5 L450.2,140.4 L453,143.2 L455.8,142.5 L458.6,137.4 L461.4,129.4 L464.1,113.5 L466.9,102.3 L469.7,105.8 L472.5,121.6 L475.3,134.4 L478.1,139.5 L480.9,142 L483.6,140.9 L486.4,137.1 L489.2,129.4 L492,118.9 L494.8,112.9 L497.6,115.3 L500.4,124.3 L503.1,135.6 L505.9,143.3 L508.7,147.2 L511.5,146.1 L514.3,139.4 L517.1,129.4 L519.9,114.2 L522.6,105.2 L525.4,108.5 L528.2,121.9 L531,138.6 L533.8,151.9 L536.6,157.1 L539.4,155 L542.1,145.2 L544.9,130.1 L547.7,103.4 L550.5,86.7 L553.3,92.1 L556.1,116.4 L558.9,135.5 L561.6,144.2 L564.4,147.2 L567.2,146 L570,140.2 L572.8,129.7 L575.6,121.5 L578.4,117.6 L581.1,119.2 L583.9,125.8 L586.7,134.8 L589.5,142.5 L592.3,145.4 L595.1,144.8 L597.9,139.7 L600.6,129.8 L603.4,114.7 L606.2,106 L609,108.8 L611.8,121.6 L614.6,134.6 L617.4,142.5 L620.2,146 L622.9,144.9 L625.7,139.2 L628.5,129.2 L631.3,103.8 L634.1,87 L636.9,93 L639.7,116 L642.4,132.6 L645.2,138.2 L648,140.5 L650.8,140 L653.6,135.4 L656.4,128.7 L659.2,105.1 L661.9,90.1 L664.7,96.6 L667.5,118.1 L670.3,136.3"/><path d="M391.7,141.3 L394.5,149.6 L397.3,152.2 L400.1,149.9 L402.8,140.7 L405.6,126.2 L408.4,104.7 L411.2,94.9 L414,103 L416.8,125.3 L419.6,141.7 L422.3,151.2 L425.1,155 L427.9,152.8 L430.7,143.5 L433.5,127.6 L436.3,104.9 L439.1,94.6 L441.8,104 L444.6,125.6 L447.4,142.1 L450.2,151.8 L453,155.4 L455.8,152.7 L458.6,143.1 L461.4,129.7 L464.1,117.4 L466.9,111.6 L469.7,117.4 L472.5,129.8 L475.3,144.7 L478.1,154.3 L480.9,157 L483.6,153.5 L486.4,144.1 L489.2,130.9 L492,123.6 L494.8,118.9 L497.6,121.9 L500.4,129.3 L503.1,142 L505.9,150.9 L508.7,154.9 L511.5,151.6 L514.3,142.5 L517.1,129.4 L519.9,111 L522.6,102.3 L525.4,110.6 L528.2,129.1 L531,141.7 L533.8,148.5 L536.6,151.2 L539.4,148.6 L542.1,141.4 L544.9,127.8 L547.7,102.3 L550.5,90.2 L553.3,100.1 L556.1,125.7 L558.9,143 L561.6,153 L564.4,156.7 L567.2,153.5 L570,144.2 L572.8,128.9 L575.6,111.7 L578.4,103.9 L581.1,110.9 L583.9,128.4 L586.7,144.1 L589.5,153.8 L592.3,157.5 L595.1,153.9 L597.9,144.1 L600.6,127.7 L603.4,103.9 L606.2,92.9 L609,104 L611.8,127.8 L614.6,146.7 L617.4,158.9 L620.2,162.5 L622.9,158.5 L625.7,147.6 L628.5,131.4 L631.3,122.2 L634.1,117.6 L636.9,120.9 L639.7,129.8 L642.4,137.7 L645.2,142.2 L648,143.7 L650.8,141.9 L653.6,137.4 L656.4,129.6 L659.2,116.3 L661.9,109.9 L664.7,115.8 L667.5,129.8 L670.3,142.1"/><path d="M391.7,124.6 L394.5,146.2 L397.3,165.8 L400.1,175.2 L402.8,175.1 L405.6,164.8 L408.4,145.8 L411.2,121.7 L414,104.3 L416.8,104.7 L419.6,122.5 L422.3,144.5 L425.1,155.9 L427.9,161.5 L430.7,161.8 L433.5,156.4 L436.3,143.8 L439.1,126.8 L441.8,115.9 L444.6,114.7 L447.4,127.6 L450.2,145.4 L453,161.1 L455.8,168.7 L458.6,168.2 L461.4,160 L464.1,144.1 L466.9,112.5 L469.7,84.9 L472.5,85.6 L475.3,113.5 L478.1,143.7 L480.9,157.5 L483.6,164.2 L486.4,163.4 L489.2,156.8 L492,142.7 L494.8,126.2 L497.6,112.5 L500.4,113.6 L503.1,127.4 L505.9,145.1 L508.7,158.7 L511.5,165.8 L514.3,166.6 L517.1,158.6 L519.9,144.2 L522.6,119.3 L525.4,97.6 L528.2,97.8 L531,118.6 L533.8,142.8 L536.6,156.3 L539.4,162.7 L542.1,162.9 L544.9,157.5 L547.7,144.1 L550.5,123.8 L553.3,108.9 L556.1,108.6 L558.9,124.4 L561.6,142.7 L564.4,153.4 L567.2,158.8 L570,158.4 L572.8,153.2 L575.6,142.1 L578.4,117.3 L581.1,96.6 L583.9,97.3 L586.7,118.5 L589.5,142.8 L592.3,155.8 L595.1,162.4 L597.9,162.3 L600.6,155.6 L603.4,142.6 L606.2,133.7 L609,129.5 L611.8,130.5 L614.6,135 L617.4,141.5 L620.2,149.9 L622.9,153.8 L625.7,153.8 L628.5,149.5 L631.3,141.7 L634.1,127.6 L636.9,117 L639.7,117.1 L642.4,128.7 L645.2,145.2 L648,160.2 L650.8,167.5 L653.6,167.4 L656.4,159 L659.2,144.9 L661.9,123.4 L664.7,107 L667.5,108.2 L670.3,124.1"/><path d="M391.7,135 L394.5,150.3 L397.3,160.1 L400.1,163.5 L402.8,159.4 L405.6,147.5 L408.4,134.8 L411.2,130.8 L414,129 L416.8,131.7 L419.6,136.2 L422.3,151.7 L425.1,162.5 L427.9,165.6 L430.7,160.1 L433.5,147 L436.3,132.5 L439.1,123.5 L441.8,120.9 L444.6,125.7 L447.4,134.8 L450.2,143.7 L453,150.1 L455.8,152 L458.6,149.3 L461.4,143.2 L464.1,129.3 L466.9,110.6 L469.7,103.8 L472.5,114.5 L475.3,135.5 L478.1,141.9 L480.9,144.7 L483.6,145.6 L486.4,143.6 L489.2,140 L492,127.4 L494.8,103.1 L497.6,95.5 L500.4,108.6 L503.1,134.1 L505.9,147.3 L508.7,155.2 L511.5,157.2 L514.3,154 L517.1,144.7 L519.9,128.8 L522.6,111.9 L525.4,104.8 L528.2,114.9 L531,133.7 L533.8,142.8 L536.6,147.4 L539.4,149.6 L542.1,148.4 L544.9,142.1 L547.7,125.1 L550.5,96.4 L553.3,85.3 L556.1,101 L558.9,131.7 L561.6,147.2 L564.4,155.9 L567.2,157.9 L570,154.9 L572.8,145.3 L575.6,133.1 L578.4,120.4 L581.1,116.3 L583.9,122.2 L586.7,133.9 L589.5,143.7 L592.3,149.7 L595.1,151.7 L597.9,149.5 L600.6,143 L603.4,125.4 L606.2,97 L609,87.2 L611.8,102.6 L614.6,132.4 L617.4,146.6 L620.2,154.6 L622.9,156.5 L625.7,153.2 L628.5,144.9 L631.3,134.2 L634.1,129.4 L636.9,128.4 L639.7,130.4 L642.4,135.3 L645.2,148.1 L648,155.4 L650.8,157.7 L653.6,153.7 L656.4,144.3 L659.2,129.1 L661.9,112.5 L664.7,105.9 L667.5,115.3 L670.3,134.2"/><path d="M391.7,143.8 L394.5,156.5 L397.3,162.1 L400.1,160.2 L402.8,152.1 L405.6,138.3 L408.4,114.6 L411.2,99.1 L414,102.2 L416.8,121.7 L419.6,145.2 L422.3,160.3 L425.1,167.5 L427.9,166.1 L430.7,156.1 L433.5,138.4 L436.3,120.8 L439.1,109.8 L441.8,112.4 L444.6,126.2 L447.4,140.8 L450.2,152 L453,156.8 L455.8,156.1 L458.6,149.1 L461.4,136.8 L464.1,119.1 L466.9,106.4 L469.7,109.1 L472.5,124.6 L475.3,144.4 L478.1,158.4 L480.9,165.5 L483.6,164.9 L486.4,155 L489.2,138.9 L492,130.8 L494.8,126.7 L497.6,127.7 L500.4,131.5 L503.1,140.1 L505.9,148.1 L508.7,152.1 L511.5,151.2 L514.3,146 L517.1,136.1 L519.9,120.2 L522.6,110.1 L525.4,112.5 L528.2,125.5 L531,140.9 L533.8,152.5 L536.6,157.9 L539.4,156.3 L542.1,150.2 L544.9,138.5 L547.7,114.6 L550.5,98.2 L553.3,100.9 L556.1,121.9 L558.9,141.6 L561.6,152.1 L564.4,157 L567.2,155.8 L570,148.7 L572.8,135.7 L575.6,109.8 L578.4,91.2 L581.1,95.6 L583.9,118.7 L586.7,142 L589.5,152.9 L592.3,157.9 L595.1,158.1 L597.9,150.2 L600.6,137.2 L603.4,120.9 L606.2,110.1 L609,112.3 L611.8,125.8 L614.6,143.4 L617.4,157.3 L620.2,164.7 L622.9,163.8 L625.7,154.6 L628.5,138.2 L631.3,119.8 L634.1,106.8 L636.9,109.1 L639.7,124.1 L642.4,145 L645.2,162.5 L648,171.5 L650.8,170.3 L653.6,158.5 L656.4,137.8 L659.2,108.5 L661.9,88.3 L664.7,92 L667.5,117.4 L670.3,140.2"/><path d="M391.7,148.8 L394.5,159.1 L397.3,162.9 L400.1,161.3 L402.8,153.9 L405.6,142.6 L408.4,117.7 L411.2,101.2 L414,106.4 L416.8,128.9 L419.6,149.5 L422.3,159.5 L425.1,163.5 L427.9,160.9 L430.7,154.3 L433.5,141.8 L436.3,117 L439.1,100.7 L441.8,106.6 L444.6,128.9 L447.4,150.4 L450.2,162.7 L453,168.3 L455.8,166.5 L458.6,158.1 L461.4,143.3 L464.1,124.6 L466.9,113.5 L469.7,117.6 L472.5,133.1 L475.3,146.8 L478.1,155.5 L480.9,159 L483.6,157.6 L486.4,151.6 L489.2,141.6 L492,129.4 L494.8,120.4 L497.6,123.1 L500.4,134.8 L503.1,149.7 L505.9,160.7 L508.7,165.7 L511.5,164.6 L514.3,156.9 L517.1,143 L519.9,126.2 L522.6,116.2 L525.4,119.2 L528.2,134.5 L531,147 L533.8,154.6 L536.6,157.3 L539.4,155.6 L542.1,150.4 L544.9,141.7 L547.7,134.4 L550.5,130.2 L553.3,132.4 L556.1,138.5 L558.9,151.1 L561.6,163.4 L564.4,168.5 L567.2,166.3 L570,157.2 L572.8,141.5 L575.6,115.2 L578.4,98.8 L581.1,104.8 L583.9,128.9 L586.7,146.9 L589.5,154.8 L592.3,158.9 L595.1,157.7 L597.9,152 L600.6,142.6 L603.4,117 L606.2,100.2 L609,105.9 L611.8,128.4 L614.6,149.5 L617.4,159.6 L620.2,164.6 L622.9,162.4 L625.7,153.8 L628.5,142.5 L631.3,123.2 L634.1,110.9 L636.9,115.2 L639.7,132.1 L642.4,149.9 L645.2,159.6 L648,163.7 L650.8,162.3 L653.6,155.2 L656.4,141.9 L659.2,119.3 L661.9,104.7 L664.7,110 L667.5,131.8 L670.3,146.4"/><path d="M391.7,157 L394.5,163.2 L397.3,162.9 L400.1,156.9 L402.8,143 L405.6,126.9 L408.4,115.6 L411.2,116 L414,127.2 L416.8,139.6 L419.6,148 L422.3,152.6 L425.1,153 L427.9,149.2 L430.7,140.2 L433.5,123.3 L436.3,107.3 L439.1,107.4 L441.8,124.3 L444.6,140.4 L447.4,148.7 L450.2,152.9 L453,152.8 L455.8,148 L458.6,139.6 L461.4,119.9 L464.1,100.6 L466.9,101.1 L469.7,121.6 L472.5,143.4 L475.3,157.3 L478.1,163.8 L480.9,163.3 L483.6,156 L486.4,142.8 L489.2,122.5 L492,105.5 L494.8,106.2 L497.6,123.4 L500.4,140.1 L503.1,148.6 L505.9,152.9 L508.7,152.5 L511.5,148.9 L514.3,140.7 L517.1,117.9 L519.9,94.9 L522.6,95.9 L525.4,120.1 L528.2,139.1 L531,145.2 L533.8,146.8 L536.6,146.6 L539.4,144.4 L542.1,138.9 L544.9,114.3 L547.7,86.9 L550.5,87.7 L553.3,116.2 L556.1,140.5 L558.9,148 L561.6,151.5 L564.4,152.5 L567.2,148.8 L570,140.6 L572.8,127.9 L575.6,117.9 L578.4,118.4 L581.1,129.4 L583.9,148.2 L586.7,165.8 L589.5,173.7 L592.3,173.4 L595.1,164.2 L597.9,144.9 L600.6,132.5 L603.4,128.1 L606.2,128.3 L609,132.3 L611.8,146 L614.6,163.1 L617.4,170.3 L620.2,170.3 L622.9,161.9 L625.7,144.7 L628.5,119.1 L631.3,97.8 L634.1,98.4 L636.9,120.2 L639.7,141.3 L642.4,149.2 L645.2,153.9 L648,153.7 L650.8,148.8 L653.6,140.9 L656.4,116.2 L659.2,91.6 L661.9,92.3 L664.7,118.7 L667.5,142.5 L670.3,150.2"/><path d="M391.7,140.4 L394.5,146.1 L397.3,147.3 L400.1,143.4 L402.8,135.2 L405.6,121.2 L408.4,102.2 L411.2,96.7 L414,109.3 L416.8,129.1 L419.6,137.2 L422.3,141.5 L425.1,143 L427.9,140 L430.7,134.1 L433.5,122.5 L436.3,102.2 L439.1,96.1 L441.8,109.9 L444.6,129.9 L447.4,146 L450.2,154.3 L453,157.3 L455.8,152.4 L458.6,140.3 L461.4,117.8 L464.1,87.9 L466.9,78.7 L469.7,99.2 L472.5,130.5 L475.3,142.8 L478.1,149.4 L480.9,150.9 L483.6,147 L486.4,137.9 L489.2,118.9 L492,89.8 L494.8,81.2 L497.6,99.8 L500.4,130 L503.1,145.3 L505.9,154 L508.7,155.2 L511.5,151.2 L514.3,139.6 L517.1,122.6 L519.9,108.4 L522.6,103.9 L525.4,114.1 L528.2,128.8 L531,136.6 L533.8,141.7 L536.6,142.3 L539.4,140.5 L542.1,134 L544.9,124.6 L547.7,112.8 L550.5,109.2 L553.3,117 L556.1,130.2 L558.9,145.3 L561.6,153.1 L564.4,154.9 L567.2,150.5 L570,140.9 L572.8,118.4 L575.6,87 L578.4,78.6 L581.1,98.7 L583.9,129.9 L586.7,138.7 L589.5,144.5 L592.3,144.8 L595.1,142.3 L597.9,134.3 L600.6,122.1 L603.4,106 L606.2,101.7 L609,112.8 L611.8,129.4 L614.6,140.7 L617.4,146.6 L620.2,148 L622.9,145.2 L625.7,137.6 L628.5,121.2 L631.3,98.4 L634.1,91.8 L636.9,106.3 L639.7,129.5 L642.4,137.4 L645.2,141.6 L648,142.6 L650.8,140.2 L653.6,134.1 L656.4,118.8 L659.2,92.6 L661.9,85.4 L664.7,102.1 L667.5,129.6 L670.3,140.6"/><path d="M391.7,144.8 L394.5,152 L397.3,155.7 L400.1,155.2 L402.8,152.5 L405.6,146.3 L408.4,131.2 L411.2,115.3 L414,114.3 L416.8,126.8 L419.6,146.2 L422.3,161.7 L425.1,169.9 L427.9,170.5 L430.7,164.3 L433.5,151.3 L436.3,138.4 L439.1,130.6 L441.8,129.3 L444.6,135.4 L447.4,146.1 L450.2,161.6 L453,170.2 L455.8,170.9 L458.6,164.8 L461.4,151.3 L464.1,135 L466.9,122.3 L469.7,120.4 L472.5,132.1 L475.3,148.3 L478.1,161.4 L480.9,168.7 L483.6,169.8 L486.4,163.6 L489.2,150.2 L492,128.3 L494.8,108.7 L497.6,106.3 L500.4,124.1 L503.1,146.8 L505.9,157.4 L508.7,163.1 L511.5,163.2 L514.3,158.7 L517.1,149.4 L519.9,128.9 L522.6,105.6 L525.4,102.7 L528.2,122 L531,147.2 L533.8,159.5 L536.6,167.2 L539.4,167.6 L542.1,162.5 L544.9,150.2 L547.7,125.3 L550.5,99.8 L553.3,96.9 L556.1,118.9 L558.9,148 L561.6,162 L564.4,169.7 L567.2,170.5 L570,164.5 L572.8,151.2 L575.6,135.8 L578.4,126.1 L581.1,124.7 L583.9,133.4 L586.7,146.8 L589.5,156.8 L592.3,162.1 L595.1,163 L597.9,159 L600.6,150.3 L603.4,139.9 L606.2,132 L609,130.3 L611.8,136.5 L614.6,145.3 L617.4,151.2 L620.2,154 L622.9,154.4 L625.7,151.4 L628.5,146.3 L631.3,129.6 L634.1,110.4 L636.9,108.1 L639.7,124.1 L642.4,146.7 L645.2,159.4 L648,166.7 L650.8,167.9 L653.6,162.2 L656.4,150 L659.2,128.1 L661.9,107.6 L664.7,104.8 L667.5,122.7 L670.3,147"/><path d="M391.7,153 L394.5,162.6 L397.3,165.4 L400.1,162.8 L402.8,153 L405.6,137.8 L408.4,114.5 L411.2,104.2 L414,114.4 L416.8,136.2 L419.6,148.3 L422.3,153.4 L425.1,155.3 L427.9,153 L430.7,148 L433.5,136.8 L436.3,114.9 L439.1,105.4 L441.8,115 L444.6,135.2 L447.4,149.1 L450.2,157.3 L453,160.3 L455.8,157.8 L458.6,150.4 L461.4,139.2 L464.1,132.4 L466.9,129.9 L469.7,132.6 L472.5,138.2 L475.3,155 L478.1,166 L480.9,169.1 L483.6,166.7 L486.4,156.2 L489.2,139.4 L492,126.3 L494.8,119.4 L497.6,126 L500.4,139 L503.1,155.8 L505.9,168.3 L508.7,172.2 L511.5,169.3 L514.3,157.2 L517.1,139.7 L519.9,126.5 L522.6,120.2 L525.4,125.4 L528.2,138.6 L531,156.1 L533.8,168 L536.6,171.7 L539.4,168.6 L542.1,157 L544.9,140 L547.7,125.5 L550.5,117.6 L553.3,123.7 L556.1,138.6 L558.9,148.1 L561.6,154 L564.4,156.5 L567.2,154.8 L570,148.7 L572.8,138.6 L575.6,121.3 L578.4,113.7 L581.1,121.5 L583.9,137.7 L586.7,156.5 L589.5,169.1 L592.3,174.1 L595.1,170.7 L597.9,157.2 L600.6,137.9 L603.4,111.9 L606.2,99.7 L609,110.8 L611.8,136.5 L614.6,152.1 L617.4,160.6 L620.2,162.2 L622.9,160.1 L625.7,151.6 L628.5,139 L631.3,121.3 L634.1,112.8 L636.9,119.8 L639.7,137.9 L642.4,154.7 L645.2,165.3 L648,169.3 L650.8,165.7 L653.6,155.6 L656.4,139.8 L659.2,129.1 L661.9,125.3 L664.7,129.5 L667.5,140.2 L670.3,153.3"/><path d="M391.7,154.8 L394.5,160.4 L397.3,160.4 L400.1,154.9 L402.8,143.3 L405.6,127.4 L408.4,113.6 L411.2,113.4 L414,126.4 L416.8,143.4 L419.6,158.8 L422.3,167.5 L425.1,167.9 L427.9,160.5 L430.7,146.3 L433.5,120.7 L436.3,98 L439.1,95.9 L441.8,117.2 L444.6,141.7 L447.4,151.2 L450.2,156 L453,155.6 L455.8,150.9 L458.6,143.3 L461.4,132.3 L464.1,123.3 L466.9,122.6 L469.7,131.1 L472.5,141.5 L475.3,148.5 L478.1,153.6 L480.9,154.4 L483.6,150.5 L486.4,142.1 L489.2,131.6 L492,123.7 L494.8,123.1 L497.6,130.5 L500.4,140.3 L503.1,147.1 L505.9,150.7 L508.7,150.7 L511.5,147.8 L514.3,141.4 L517.1,119.5 L519.9,93.7 L522.6,92.1 L525.4,115.2 L528.2,142.7 L531,158.2 L533.8,166.2 L536.6,166.8 L539.4,160.7 L542.1,145.7 L544.9,125 L547.7,106.2 L550.5,104.7 L553.3,121.6 L556.1,141.9 L558.9,150.5 L561.6,155.4 L564.4,154.9 L567.2,151.1 L570,142.6 L572.8,121.9 L575.6,101.1 L578.4,100.2 L581.1,119.3 L583.9,141.3 L586.7,149.3 L589.5,153.7 L592.3,153.5 L595.1,150.3 L597.9,142.2 L600.6,129.9 L603.4,119.5 L606.2,119 L609,129 L611.8,141.9 L614.6,150 L617.4,154.7 L620.2,155.2 L622.9,151.7 L625.7,143.9 L628.5,123.6 L631.3,102.5 L634.1,102.2 L636.9,120.6 L639.7,143.2 L642.4,152.9 L645.2,157.7 L648,157.1 L650.8,152.7 L653.6,143.1 L656.4,125.4 L659.2,109.1 L661.9,108.4 L664.7,123.6 L667.5,142.2 L670.3,149.4"/><path d="M391.7,134.1 L394.5,147 L397.3,153.7 L400.1,155.1 L402.8,151.4 L405.6,142 L408.4,127.5 L411.2,114 L414,110.2 L416.8,119.4 L419.6,133.6 L422.3,145.3 L425.1,152.4 L427.9,153 L430.7,149 L433.5,140.2 L436.3,126.6 L439.1,113.2 L441.8,109.8 L444.6,118.8 L447.4,135.3 L450.2,151.4 L453,159.6 L455.8,161.1 L458.6,155.8 L461.4,143.4 L464.1,127.9 L466.9,119 L469.7,116.1 L472.5,123.2 L475.3,133.2 L478.1,139.9 L480.9,143.6 L483.6,144 L486.4,142 L489.2,136.4 L492,120.2 L494.8,92.7 L497.6,85.9 L500.4,105.3 L503.1,135 L505.9,150.4 L508.7,158.9 L511.5,159.2 L514.3,154.3 L517.1,142.3 L519.9,127.8 L522.6,117.8 L525.4,115.2 L528.2,122.2 L531,134.3 L533.8,142.3 L536.6,147.6 L539.4,148.1 L542.1,146.5 L544.9,139.5 L547.7,125.6 L550.5,107.6 L553.3,102.5 L556.1,114.7 L558.9,133.8 L561.6,146.1 L564.4,152.5 L567.2,154.7 L570,150.4 L572.8,141.3 L575.6,125.7 L578.4,107.6 L581.1,102.8 L583.9,114.3 L586.7,134.2 L589.5,153.6 L592.3,163.9 L595.1,167.1 L597.9,161.9 L600.6,147.1 L603.4,126.6 L606.2,109.2 L609,104.3 L611.8,114.5 L614.6,134.1 L617.4,148.4 L620.2,156.3 L622.9,158 L625.7,153.1 L628.5,141.4 L631.3,122.1 L634.1,97 L636.9,90.6 L639.7,107.6 L642.4,134.1 L645.2,142.1 L648,146.9 L650.8,147 L653.6,144.3 L656.4,138.4 L659.2,131.2 L661.9,123.7 L664.7,121.8 L667.5,127.1 L670.3,136.3"/><path d="M391.7,145.3 L394.5,155.6 L397.3,159.5 L400.1,157.3 L402.8,148.5 L405.6,134.1 L408.4,115 L411.2,103.6 L414,109 L416.8,127.6 L419.6,144.6 L422.3,154.7 L425.1,158.9 L427.9,156.2 L430.7,148.6 L433.5,134.4 L436.3,111.6 L439.1,97.7 L441.8,104.2 L444.6,126.3 L447.4,149.2 L450.2,164.6 L453,170.1 L455.8,168 L458.6,156.1 L461.4,134.9 L464.1,119.1 L466.9,109.8 L469.7,114.2 L472.5,128.1 L475.3,144.7 L478.1,158.3 L480.9,163.6 L483.6,161.8 L486.4,152.3 L489.2,133.9 L492,113 L494.8,101.2 L497.6,107.7 L500.4,125.5 L503.1,136.7 L505.9,142.3 L508.7,144.9 L511.5,144.1 L514.3,139.5 L517.1,133.1 L519.9,114.3 L522.6,102.7 L525.4,109.4 L528.2,127.5 L531,145 L533.8,155.5 L536.6,159.8 L539.4,157.8 L542.1,149.4 L544.9,135.3 L547.7,111.5 L550.5,97.2 L553.3,103.4 L556.1,125.5 L558.9,145.3 L561.6,156.8 L564.4,161.1 L567.2,158.6 L570,150.2 L572.8,135.6 L575.6,116.4 L578.4,105.1 L581.1,109.6 L583.9,127.3 L586.7,148.6 L589.5,162.4 L592.3,167.2 L595.1,164.6 L597.9,154.4 L600.6,134.4 L603.4,115.1 L606.2,104.8 L609,109.2 L611.8,126.8 L614.6,146.9 L617.4,159.4 L620.2,164.5 L622.9,161.9 L625.7,152 L628.5,135.3 L631.3,116 L634.1,104.6 L636.9,110.1 L639.7,127.6 L642.4,145.6 L645.2,156.9 L648,161.5 L650.8,159.4 L653.6,150.8 L656.4,136.3 L659.2,120.4 L661.9,111.7 L664.7,115.9 L667.5,130.1 L670.3,140.7"/><path d="M391.7,148.7 L394.5,158.7 L397.3,161.6 L400.1,157.8 L402.8,147.6 L405.6,136.3 L408.4,130.4 L411.2,128.9 L414,131.8 L416.8,137.1 L419.6,147.5 L422.3,156.1 L425.1,159.2 L427.9,155.3 L430.7,147.4 L433.5,135.6 L436.3,125.5 L439.1,121.4 L441.8,126.3 L444.6,136.8 L447.4,152.3 L450.2,164.7 L453,169.1 L455.8,164.2 L458.6,150.5 L461.4,132.8 L464.1,114.4 L466.9,107 L469.7,116.2 L472.5,133.8 L475.3,152 L478.1,162.7 L480.9,166.1 L483.6,160.6 L486.4,149.1 L489.2,134.3 L492,124.5 L494.8,121.3 L497.6,126.1 L500.4,135.9 L503.1,148.7 L505.9,158.5 L508.7,161.1 L511.5,157.2 L514.3,147.3 L517.1,131.5 L519.9,116 L522.6,109.3 L525.4,117.2 L528.2,133.2 L531,149.2 L533.8,158.6 L536.6,161.8 L539.4,158.3 L542.1,148.3 L544.9,126.3 L547.7,92 L550.5,79.3 L553.3,95.1 L556.1,130.5 L558.9,146.5 L561.6,153 L564.4,154.8 L567.2,151.6 L570,144.9 L572.8,131.6 L575.6,111.2 L578.4,103.1 L581.1,111.9 L583.9,131.7 L586.7,145.3 L589.5,152.7 L592.3,154.6 L595.1,152.3 L597.9,145 L600.6,131.2 L603.4,113 L606.2,106.2 L609,114.1 L611.8,133 L614.6,143.1 L617.4,147.9 L620.2,149.5 L622.9,147.4 L625.7,142.9 L628.5,130.8 L631.3,109.4 L634.1,100.6 L636.9,109.8 L639.7,132.6 L642.4,147.6 L645.2,156.6 L648,159.6 L650.8,156.3 L653.6,146.8 L656.4,130.4 L659.2,108.4 L661.9,100.6 L664.7,110.1 L667.5,131.8 L670.3,152.5"/><path d="M391.7,156.8 L394.5,160.1 L397.3,157.6 L400.1,149.8 L402.8,136.1 L405.6,123.9 L408.4,117.9 L411.2,122.9 L414,132.9 L416.8,140.5 L419.6,144.6 L422.3,146.6 L425.1,146 L427.9,142 L430.7,133.8 L433.5,117.4 L436.3,109.5 L439.1,115.1 L441.8,130.7 L444.6,147.2 L447.4,157.8 L450.2,160.9 L453,159.1 L455.8,149.8 L458.6,134.7 L461.4,119.2 L464.1,112 L466.9,117.5 L469.7,132.2 L472.5,146.7 L475.3,156.5 L478.1,160.7 L480.9,158.4 L483.6,149.4 L486.4,133.8 L489.2,92.2 L492,71.5 L494.8,86.9 L497.6,125.5 L500.4,145.8 L503.1,156.2 L505.9,158.9 L508.7,156.1 L511.5,148.9 L514.3,134.1 L517.1,117.5 L519.9,109.3 L522.6,115.4 L525.4,130.4 L528.2,149.3 L531,163.2 L533.8,167.6 L536.6,164.3 L539.4,153.7 L542.1,133.8 L544.9,101.8 L547.7,86 L550.5,97.7 L553.3,128.6 L556.1,144.3 L558.9,152.2 L561.6,155.1 L564.4,152.3 L567.2,145.9 L570,134.4 L572.8,113.1 L575.6,102.5 L578.4,109.8 L581.1,130.8 L583.9,147.5 L586.7,156.4 L589.5,160.9 L592.3,158.8 L595.1,149.7 L597.9,135.7 L600.6,114.4 L603.4,102.7 L606.2,109.9 L609,130.7 L611.8,148.3 L614.6,159.2 L617.4,161.5 L620.2,158.7 L622.9,150.1 L625.7,133.3 L628.5,107.6 L631.3,95.2 L634.1,105.4 L636.9,128.6 L639.7,142.1 L642.4,148.8 L645.2,151 L648,149.6 L650.8,143.4 L653.6,134.2 L656.4,120.3 L659.2,112.9 L661.9,117.5 L664.7,131.4 L667.5,149 L670.3,159.9"/><path d="M391.7,141.6 L394.5,150.6 L397.3,154.9 L400.1,154.2 L402.8,149.5 L405.6,140.3 L408.4,121.6 L411.2,105.5 L414,107.6 L416.8,125.5 L419.6,143 L422.3,151.9 L425.1,155.9 L427.9,156.2 L430.7,151.1 L433.5,141 L436.3,121.4 L439.1,104.8 L441.8,106.5 L444.6,125.6 L447.4,142.9 L450.2,151.5 L453,154.8 L455.8,154.2 L458.6,149.4 L461.4,139.5 L464.1,126.9 L466.9,117.3 L469.7,117.5 L472.5,128.8 L475.3,141.5 L478.1,150 L480.9,154 L483.6,154.4 L486.4,149.7 L489.2,141 L492,123 L494.8,108.6 L497.6,110.5 L500.4,127.1 L503.1,145.7 L505.9,161 L508.7,167.4 L511.5,166.7 L514.3,158.3 L517.1,142.7 L519.9,122.8 L522.6,108.3 L525.4,110.1 L528.2,126.5 L531,143.6 L533.8,154.4 L536.6,159.1 L539.4,158.7 L542.1,152.6 L544.9,140.6 L547.7,125 L550.5,114.5 L553.3,115.6 L556.1,128.1 L558.9,141.9 L561.6,151.2 L564.4,155.5 L567.2,155.4 L570,150.7 L572.8,140.2 L575.6,111.8 L578.4,87.2 L581.1,90 L583.9,118 L586.7,143.7 L589.5,155.9 L592.3,160.6 L595.1,160 L597.9,153.9 L600.6,142 L603.4,129.3 L606.2,122.6 L609,122.4 L611.8,130.8 L614.6,143.8 L617.4,157.8 L620.2,164.1 L622.9,163.9 L625.7,156.4 L628.5,142.1 L631.3,126.9 L634.1,116 L636.9,117.6 L639.7,129.6 L642.4,146.2 L645.2,161.2 L648,168.1 L650.8,167.1 L653.6,159.1 L656.4,143.5 L659.2,121 L661.9,104.3 L664.7,105.2 L667.5,124.8 L670.3,143.9"/><path d="M391.7,144.6 L394.5,158 L397.3,164.8 L400.1,163.5 L402.8,156 L405.6,142.8 L408.4,126 L411.2,113.9 L414,115.5 L416.8,127.4 L419.6,143.1 L422.3,153.8 L425.1,158.9 L427.9,159 L430.7,152.6 L433.5,141.3 L436.3,121.1 L439.1,107.3 L441.8,108.7 L444.6,124.1 L447.4,144.2 L450.2,158.2 L453,165.7 L455.8,164.4 L458.6,155.7 L461.4,140.4 L464.1,117.2 L466.9,101.1 L469.7,102.8 L472.5,121.1 L475.3,145 L478.1,160.9 L480.9,167.9 L483.6,167.3 L486.4,158 L489.2,142.1 L492,111.2 L494.8,90.4 L497.6,92.9 L500.4,116.7 L503.1,144.9 L505.9,160.3 L508.7,168.3 L511.5,168 L514.3,157.9 L517.1,142 L519.9,126.4 L522.6,116.7 L525.4,118.5 L528.2,128.9 L531,143 L533.8,154.5 L536.6,159.3 L539.4,158.4 L542.1,153 L544.9,140.9 L547.7,114.6 L550.5,96.6 L553.3,98 L556.1,119.9 L558.9,145.7 L561.6,160.5 L564.4,168.4 L567.2,168 L570,159.7 L572.8,143.4 L575.6,117.3 L578.4,99.4 L581.1,100.5 L583.9,120.1 L586.7,144.8 L589.5,161.9 L592.3,171.7 L595.1,171 L597.9,161.1 L600.6,143.6 L603.4,119 L606.2,102.3 L609,104.1 L611.8,122.1 L614.6,142.8 L617.4,150.9 L620.2,155 L622.9,154.2 L625.7,149.4 L628.5,140.9 L631.3,127.7 L634.1,118.3 L636.9,120.4 L639.7,130.1 L642.4,145.8 L645.2,162.1 L648,170.5 L650.8,170 L653.6,160.3 L656.4,142.7 L659.2,117.5 L661.9,101.3 L664.7,102.8 L667.5,122.1 L670.3,143.1"/><path d="M391.7,158.2 L394.5,166.8 L397.3,167.9 L400.1,162.3 L402.8,149.8 L405.6,129.3 L408.4,110.7 L411.2,107.8 L414,122.8 L416.8,144.6 L419.6,159 L422.3,166.8 L425.1,167.6 L427.9,161.1 L430.7,148.9 L433.5,129.9 L436.3,112.4 L439.1,108.6 L441.8,121.7 L444.6,141.4 L447.4,151.6 L450.2,156.3 L453,156.5 L455.8,152.9 L458.6,146.2 L461.4,133 L464.1,118.9 L466.9,116.1 L469.7,127 L472.5,143.6 L475.3,156.1 L478.1,164 L480.9,164.4 L483.6,159.5 L486.4,148.4 L489.2,132.7 L492,117.8 L494.8,114.4 L497.6,126.4 L500.4,142.8 L503.1,156.5 L505.9,164.3 L508.7,165.3 L511.5,159.9 L514.3,148.5 L517.1,128 L519.9,105.8 L522.6,101.6 L525.4,118.6 L528.2,144.7 L531,157.4 L533.8,164.8 L536.6,165.8 L539.4,160.9 L542.1,149.2 L544.9,131.2 L547.7,114.1 L550.5,110.2 L553.3,124 L556.1,144.9 L558.9,168.6 L561.6,181.8 L564.4,183 L567.2,174.6 L570,154.8 L572.8,130.6 L575.6,111.4 L578.4,108.3 L581.1,123 L583.9,143.8 L586.7,156.9 L589.5,164.2 L592.3,164.8 L595.1,160.2 L597.9,149.2 L600.6,132.1 L603.4,116.2 L606.2,113.4 L609,124.7 L611.8,141.9 L614.6,154.7 L617.4,161 L620.2,163.4 L622.9,158 L625.7,147.9 L628.5,128.6 L631.3,108.3 L634.1,104.6 L636.9,120.6 L639.7,143.6 L642.4,153.7 L645.2,159.3 L648,160.6 L650.8,156.7 L653.6,147.8 L656.4,133.4 L659.2,117.9 L661.9,114.9 L664.7,125.9 L667.5,142.7 L670.3,153.5"/><path d="M391.7,147.8 L394.5,158.6 L397.3,161.2 L400.1,156.6 L402.8,143.4 L405.6,127.6 L408.4,114.9 L411.2,110.3 L414,117.3 L416.8,130.2 L419.6,143 L422.3,151.6 L425.1,153.1 L427.9,148.3 L430.7,139.8 L433.5,121.8 L436.3,97.5 L439.1,89.3 L441.8,103 L444.6,129 L447.4,144.6 L450.2,153.8 L453,156.5 L455.8,152.3 L458.6,141.6 L461.4,126.7 L464.1,117.2 L466.9,113.3 L469.7,120.1 L472.5,132 L475.3,142.9 L478.1,149.1 L480.9,150.1 L483.6,147 L486.4,139.1 L489.2,123.7 L492,101.8 L494.8,95.4 L497.6,107.4 L500.4,130.9 L503.1,144.3 L505.9,151.2 L508.7,152.4 L511.5,149 L514.3,139.1 L517.1,126.1 L519.9,114.4 L522.6,110.6 L525.4,117.4 L528.2,130.3 L531,138.2 L533.8,143.9 L536.6,145.3 L539.4,142.6 L542.1,137.4 L544.9,125.4 L547.7,110.8 L550.5,106 L553.3,114.3 L556.1,130.5 L558.9,143.9 L561.6,152.4 L564.4,154.8 L567.2,150.9 L570,140.9 L572.8,123.9 L575.6,102.4 L578.4,95 L581.1,107.8 L583.9,130.4 L586.7,144.2 L589.5,153.8 L592.3,155.3 L595.1,151.1 L597.9,140.4 L600.6,122.6 L603.4,101.9 L606.2,96.2 L609,107.7 L611.8,129.8 L614.6,147.6 L617.4,159.4 L620.2,162.6 L622.9,156.8 L625.7,143 L628.5,120.6 L631.3,97.7 L634.1,89.4 L636.9,103.6 L639.7,129.8 L642.4,146.9 L645.2,156.8 L648,158.9 L650.8,154.6 L653.6,142.1 L656.4,126.1 L659.2,114.4 L661.9,110 L664.7,117.6 L667.5,131 L670.3,146.7"/><path d="M391.7,145.1 L394.5,149.2 L397.3,150.7 L400.1,148.5 L402.8,141.3 L405.6,129.6 L408.4,115.1 L411.2,111.5 L414,122.3 L416.8,138.9 L419.6,149.2 L422.3,154.3 L425.1,155.2 L427.9,152.5 L430.7,143 L433.5,125.9 L436.3,100.3 L439.1,93.8 L441.8,111.3 L444.6,139.9 L447.4,162.5 L450.2,174 L453,176.7 L455.8,170.2 L458.6,152.5 L461.4,128.8 L464.1,109.9 L466.9,104.8 L469.7,117.9 L472.5,137.9 L475.3,146.8 L478.1,152 L480.9,153.6 L483.6,150.2 L486.4,143.1 L489.2,127.8 L492,108 L494.8,102.6 L497.6,116.6 L500.4,140 L503.1,157 L505.9,166.3 L508.7,167 L511.5,162.5 L514.3,148.9 L517.1,129 L519.9,110.9 L522.6,106.1 L525.4,118.9 L528.2,138.4 L531,151.4 L533.8,158.5 L536.6,159.7 L539.4,155.7 L542.1,145.9 L544.9,126.9 L547.7,102.3 L550.5,96.9 L553.3,114.2 L556.1,139.5 L558.9,152.6 L561.6,159.7 L564.4,162.1 L567.2,157.6 L570,147.1 L572.8,126.5 L575.6,101 L578.4,94.1 L581.1,111.8 L583.9,137.4 L586.7,141.9 L589.5,144.3 L592.3,145.5 L595.1,143.6 L597.9,139.9 L600.6,129.7 L603.4,111.6 L606.2,107.5 L609,120 L611.8,138.9 L614.6,152.1 L617.4,158.6 L620.2,159.7 L622.9,155 L625.7,145 L628.5,126.6 L631.3,102.7 L634.1,97.2 L636.9,113.8 L639.7,137.6 L642.4,144.8 L645.2,148.3 L648,149.4 L650.8,147 L653.6,141.4 L656.4,131.6 L659.2,119.3 L661.9,115.9 L664.7,124.4 L667.5,138.1 L670.3,147.8"/><path d="M391.7,142.5 L394.5,145.9 L397.3,147.8 L400.1,146.1 L402.8,142.4 L405.6,135.9 L408.4,113.5 L411.2,100.8 L414,108.6 L416.8,129.9 L419.6,146.1 L422.3,154.7 L425.1,158.8 L427.9,156.9 L430.7,149.1 L433.5,135.5 L436.3,122.9 L439.1,116.3 L441.8,119.6 L444.6,131.6 L447.4,142.8 L450.2,148.6 L453,152.4 L455.8,151.2 L458.6,146.3 L461.4,136 L464.1,126.5 L466.9,120.7 L469.7,123.7 L472.5,133.4 L475.3,147.1 L478.1,157.5 L480.9,161.6 L483.6,159.9 L486.4,151.4 L489.2,137.3 L492,120.3 L494.8,110.6 L497.6,114.8 L500.4,131.6 L503.1,140.4 L505.9,143.8 L508.7,145 L511.5,143.8 L514.3,141.5 L517.1,136.6 L519.9,127 L522.6,121 L525.4,124.4 L528.2,133.7 L531,143.6 L533.8,150.8 L536.6,153.8 L539.4,152.5 L542.1,146.1 L544.9,137.1 L547.7,121.2 L550.5,111.3 L553.3,116.2 L556.1,131.7 L558.9,147 L561.6,156.2 L564.4,159.8 L567.2,158.1 L570,150.6 L572.8,137.6 L575.6,123.5 L578.4,115 L581.1,119.1 L583.9,132.7 L586.7,139.9 L589.5,143.5 L592.3,144.6 L595.1,144.8 L597.9,141.5 L600.6,136 L603.4,120.2 L606.2,111.6 L609,116.4 L611.8,131.3 L614.6,144.7 L617.4,153 L620.2,156 L622.9,154.6 L625.7,148.1 L628.5,136.9 L631.3,117.2 L634.1,105.8 L636.9,111.7 L639.7,129.8 L642.4,145 L645.2,155.1 L648,157.8 L650.8,157.2 L653.6,149.4 L656.4,136.4 L659.2,122.3 L661.9,115.3 L664.7,119 L667.5,132 L670.3,146.1"/><path d="M391.7,138.3 L394.5,148.4 L397.3,153.2 L400.1,152.2 L402.8,144 L405.6,131.2 L408.4,111.7 L411.2,101 L414,105.6 L416.8,122.6 L419.6,137.6 L422.3,145 L425.1,149.2 L427.9,147 L430.7,141.9 L433.5,132.5 L436.3,107.2 L439.1,94.1 L441.8,98.2 L444.6,119.5 L447.4,140.5 L450.2,153.6 L453,159.3 L455.8,157.1 L458.6,147.3 L461.4,132.4 L464.1,114.6 L466.9,103.9 L469.7,106.8 L472.5,122.6 L475.3,140 L478.1,152.6 L480.9,158.1 L483.6,155.7 L486.4,147.1 L489.2,131.4 L492,110.2 L494.8,98.3 L497.6,103.1 L500.4,121.4 L503.1,135.8 L505.9,139.9 L508.7,140.2 L511.5,138.9 L514.3,136.1 L517.1,130.7 L519.9,115.2 L522.6,107.4 L525.4,111.3 L528.2,124.6 L531,139.2 L533.8,150.1 L536.6,155.5 L539.4,153.7 L542.1,145.8 L544.9,133 L547.7,117.9 L550.5,109.4 L553.3,112.6 L556.1,125.4 L558.9,139.4 L561.6,148.5 L564.4,152 L567.2,150.5 L570,142.3 L572.8,131.5 L575.6,112.4 L578.4,102.3 L581.1,106.1 L583.9,122.1 L586.7,139.8 L589.5,151.9 L592.3,157.9 L595.1,156.6 L597.9,147.1 L600.6,131.8 L603.4,117.5 L606.2,108.6 L609,110.9 L611.8,124.3 L614.6,142.5 L617.4,159.2 L620.2,167.9 L622.9,165 L625.7,152.2 L628.5,132.3 L631.3,110.9 L634.1,99.1 L636.9,103.6 L639.7,120.9 L642.4,137.7 L645.2,146.9 L648,151.1 L650.8,149.6 L653.6,143.2 L656.4,131.7 L659.2,114.5 L661.9,106.2 L664.7,108.4 L667.5,123.1 L670.3,139.3"/><path d="M391.7,147.6 L394.5,164.2 L397.3,172.4 L400.1,173.7 L402.8,168.4 L405.6,154.4 L408.4,135 L411.2,116.9 L414,113.9 L416.8,127.9 L419.6,147.7 L422.3,161.1 L425.1,169.6 L427.9,171.1 L430.7,165.3 L433.5,152.4 L436.3,136.6 L439.1,123.5 L441.8,120.8 L444.6,131.4 L447.4,146.3 L450.2,158.8 L453,166.3 L455.8,167 L458.6,163.6 L461.4,152.8 L464.1,136.9 L466.9,122.2 L469.7,119.5 L472.5,130.7 L475.3,147.8 L478.1,158.7 L480.9,165.1 L483.6,165.5 L486.4,160.9 L489.2,151.8 L492,138.9 L494.8,126.9 L497.6,124 L500.4,133.4 L503.1,146.4 L505.9,156 L508.7,160.1 L511.5,160.8 L514.3,158.3 L517.1,150.7 L519.9,138.1 L522.6,125.6 L525.4,122.8 L528.2,132 L531,146.2 L533.8,157.2 L536.6,162.4 L539.4,163 L542.1,159.5 L544.9,150.8 L547.7,135.6 L550.5,119.5 L553.3,116 L556.1,128.4 L558.9,147.5 L561.6,162.1 L564.4,171.1 L567.2,172.6 L570,166.6 L572.8,155.3 L575.6,138.5 L578.4,124.5 L581.1,121.7 L583.9,131.6 L586.7,146.4 L589.5,159.3 L592.3,166.2 L595.1,167 L597.9,162.6 L600.6,151.2 L603.4,132.7 L606.2,111.2 L609,106.8 L611.8,123.1 L614.6,146.4 L617.4,156.2 L620.2,161.8 L622.9,163.9 L625.7,160 L628.5,150.8 L631.3,135 L634.1,118.4 L636.9,115.6 L639.7,127.7 L642.4,145.7 L645.2,153.1 L648,157.7 L650.8,157.6 L653.6,154.6 L656.4,147.5 L659.2,133.9 L661.9,115.9 L664.7,112.5 L667.5,125.8 L670.3,145.3"/><path d="M391.7,142.2 L394.5,146.8 L397.3,147.9 L400.1,144.5 L402.8,138 L405.6,120.7 L408.4,100.2 L411.2,95.4 L414,110.8 L416.8,135.2 L419.6,149.5 L422.3,158.4 L425.1,158.9 L427.9,153.6 L430.7,141.5 L433.5,121.9 L436.3,104.3 L439.1,99.7 L441.8,112 L444.6,133.1 L447.4,152.8 L450.2,165.3 L453,167.9 L455.8,160.7 L458.6,144.3 L461.4,126.5 L464.1,115.5 L466.9,112.8 L469.7,120.8 L472.5,133.7 L475.3,150 L478.1,158.9 L480.9,160.4 L483.6,155 L486.4,141.8 L489.2,125.3 L492,111.3 L494.8,108 L497.6,117.2 L500.4,133.4 L503.1,151.3 L505.9,161.8 L508.7,164 L511.5,157.2 L514.3,143 L517.1,129.1 L519.9,124.7 L522.6,122.9 L525.4,127.1 L528.2,133.9 L531,148.4 L533.8,157.6 L536.6,160 L539.4,154 L542.1,141.6 L544.9,128.1 L547.7,117.3 L550.5,115.3 L553.3,122.6 L556.1,134.6 L558.9,150.6 L561.6,160.5 L564.4,161.3 L567.2,155.1 L570,142 L572.8,125.6 L575.6,113.3 L578.4,111.5 L581.1,120.7 L583.9,135.7 L586.7,154.7 L589.5,166.9 L592.3,169.3 L595.1,161.8 L597.9,144.3 L600.6,119.7 L603.4,96.8 L606.2,91.6 L609,106.5 L611.8,132.8 L614.6,139.6 L617.4,144 L620.2,145 L622.9,143.3 L625.7,137.9 L628.5,126.2 L631.3,112.8 L634.1,108.9 L636.9,118.1 L639.7,133.4 L642.4,143.4 L645.2,149.4 L648,150.4 L650.8,147.1 L653.6,138.3 L656.4,122.1 L659.2,104.9 L661.9,100.4 L664.7,111.8 L667.5,133.2 L670.3,139.9"/><path d="M391.7,143.3 L394.5,152.6 L397.3,155.8 L400.1,153.7 L402.8,145.6 L405.6,131.7 L408.4,111.1 L411.2,100 L414,107.8 L416.8,126.8 L419.6,143.1 L422.3,153 L425.1,156.9 L427.9,154 L430.7,145.3 L433.5,131.4 L436.3,109.3 L439.1,98.4 L441.8,107.4 L444.6,128.7 L447.4,146.4 L450.2,157.7 L453,162.3 L455.8,160.1 L458.6,149.9 L461.4,131.8 L464.1,111 L466.9,99.4 L469.7,105.9 L472.5,126.8 L475.3,143.7 L478.1,152.9 L480.9,156.2 L483.6,153.7 L486.4,145.5 L489.2,132.4 L492,115.4 L494.8,106.6 L497.6,112.4 L500.4,128.2 L503.1,144.2 L505.9,154.3 L508.7,156.7 L511.5,154.9 L514.3,145.8 L517.1,132.1 L519.9,122.8 L522.6,117.6 L525.4,120.5 L528.2,130.7 L531,143.9 L533.8,153.5 L536.6,157.5 L539.4,155.5 L542.1,146.8 L544.9,132.7 L547.7,113.1 L550.5,103.6 L553.3,109.7 L556.1,127.1 L558.9,148.7 L561.6,163.9 L564.4,168.5 L567.2,164.2 L570,150.7 L572.8,130.4 L575.6,105.5 L578.4,93.8 L581.1,102.5 L583.9,127.1 L586.7,138.6 L589.5,141.5 L592.3,142.5 L595.1,142.4 L597.9,139.3 L600.6,131 L603.4,107.6 L606.2,95.2 L609,102.8 L611.8,125.6 L614.6,142.3 L617.4,152 L620.2,155.2 L622.9,153.3 L625.7,145.1 L628.5,130.7 L631.3,107 L634.1,94.7 L636.9,102.8 L639.7,126.2 L642.4,149.7 L645.2,165.6 L648,171 L650.8,168 L653.6,154.6 L656.4,132.9 L659.2,105.4 L661.9,92 L664.7,100.7 L667.5,125.9 L670.3,143.6"/><path d="M391.7,153.2 L394.5,161.1 L397.3,163.1 L400.1,159.5 L402.8,150.7 L405.6,136.9 L408.4,124.7 L411.2,121.4 L414,128.1 L416.8,140.2 L419.6,155.8 L422.3,164.9 L425.1,167.9 L427.9,163.8 L430.7,153 L433.5,135.4 L436.3,116.5 L439.1,109.1 L441.8,119.3 L444.6,138.6 L447.4,153.7 L450.2,164.3 L453,166.7 L455.8,163.1 L458.6,152.2 L461.4,134.9 L464.1,116.4 L466.9,109.2 L469.7,119.7 L472.5,139.6 L475.3,147.7 L478.1,152.4 L480.9,154.5 L483.6,151.9 L486.4,146 L489.2,136.5 L492,118.3 L494.8,111.8 L497.6,120.6 L500.4,139.3 L503.1,152.3 L505.9,160.4 L508.7,162.3 L511.5,158.7 L514.3,150.6 L517.1,136.9 L519.9,116.5 L522.6,108.3 L525.4,118.3 L528.2,138.6 L531,154 L533.8,163.3 L536.6,165.2 L539.4,161.1 L542.1,152 L544.9,133.8 L547.7,104.8 L550.5,93.5 L553.3,108.6 L556.1,137.8 L558.9,151.1 L561.6,158.1 L564.4,159.8 L567.2,157.3 L570,149.4 L572.8,134.2 L575.6,106.3 L578.4,95.9 L581.1,110.8 L583.9,139.1 L586.7,158.4 L589.5,169.8 L592.3,172.9 L595.1,167.6 L597.9,155.2 L600.6,137.3 L603.4,127.6 L606.2,124.3 L609,128.7 L611.8,139.7 L614.6,148.3 L617.4,152.7 L620.2,153.6 L622.9,152.4 L625.7,147.4 L628.5,135.5 L631.3,111.9 L634.1,102.1 L636.9,114.2 L639.7,138.6 L642.4,154.1 L645.2,163 L648,165.8 L650.8,162.3 L653.6,152.1 L656.4,137.2 L659.2,124 L661.9,118 L664.7,125.3 L667.5,138.6 L670.3,152"/><path d="M391.7,127.5 L394.5,143.6 L397.3,155.1 L400.1,159 L402.8,156.4 L405.6,147.7 L408.4,133.5 L411.2,117.8 L414,108.6 L416.8,113.2 L419.6,127.7 L422.3,139.5 L425.1,146.9 L427.9,149.7 L430.7,148.6 L433.5,143.7 L436.3,134.8 L439.1,108.4 L441.8,93.6 L444.6,99.9 L447.4,123.3 L450.2,139 L453,145.4 L455.8,148.7 L458.6,148.3 L461.4,142.5 L464.1,134.5 L466.9,111.1 L469.7,98.2 L472.5,103.8 L475.3,125.4 L478.1,142.2 L480.9,150.9 L483.6,155.1 L486.4,154.1 L489.2,146.8 L492,134.5 L494.8,111.7 L497.6,98.7 L500.4,104.7 L503.1,125.9 L505.9,144.1 L508.7,154.9 L511.5,160.1 L514.3,158.4 L517.1,149.7 L519.9,135.1 L522.6,121.3 L525.4,112.9 L528.2,117.3 L531,129.3 L533.8,143.4 L536.6,153.5 L539.4,158 L542.1,156.9 L544.9,148.7 L547.7,134.7 L550.5,111.2 L553.3,97.3 L556.1,104.2 L558.9,125.5 L561.6,140.4 L564.4,147.1 L567.2,150.3 L570,149.1 L572.8,143.9 L575.6,134.4 L578.4,109.2 L581.1,94.9 L583.9,102.1 L586.7,124.6 L589.5,138.9 L592.3,144.3 L595.1,146.4 L597.9,144.8 L600.6,140.8 L603.4,133.8 L606.2,115.3 L609,104.5 L611.8,109.3 L614.6,126.1 L617.4,140.5 L620.2,149.1 L622.9,152.8 L625.7,151.3 L628.5,144.7 L631.3,134.6 L634.1,110.4 L636.9,96.8 L639.7,103.4 L642.4,124.9 L645.2,142.9 L648,152.5 L650.8,155.8 L653.6,154.4 L656.4,146.5 L659.2,134.1 L661.9,99.6 L664.7,79.9 L667.5,89.6 L670.3,120.6"/><path d="M391.7,156.2 L394.5,161.3 L397.3,161.1 L400.1,156.7 L402.8,147.1 L405.6,130.1 L408.4,114.7 L411.2,114.6 L414,128.4 L416.8,145.8 L419.6,155.6 L422.3,161.2 L425.1,161.3 L427.9,157.3 L430.7,147.5 L433.5,129.2 L436.3,114.2 L439.1,112.4 L441.8,127.3 L444.6,148.5 L447.4,168.5 L450.2,178.2 L453,178.5 L455.8,168.4 L458.6,150.2 L461.4,130.6 L464.1,117.7 L466.9,116.9 L469.7,129.2 L472.5,143.7 L475.3,147.5 L478.1,149.6 L480.9,150 L483.6,147.9 L486.4,143.9 L489.2,135.2 L492,125.2 L494.8,124.8 L497.6,133.9 L500.4,147.1 L503.1,161.6 L505.9,168.9 L508.7,168.8 L511.5,163.5 L514.3,149.2 L517.1,129.5 L519.9,115.2 L522.6,115.3 L525.4,128.8 L528.2,144.4 L531,148.5 L533.8,151.2 L536.6,151.4 L539.4,149.1 L542.1,144.6 L544.9,122.6 L547.7,100.2 L550.5,99.5 L553.3,121.7 L556.1,145.1 L558.9,152.1 L561.6,155.8 L564.4,156.4 L567.2,152.6 L570,146.7 L572.8,128 L575.6,109.6 L578.4,108.4 L581.1,124.6 L583.9,148.8 L586.7,169.2 L589.5,179.7 L592.3,181 L595.1,171.4 L597.9,151.7 L600.6,130.7 L603.4,117.3 L606.2,116.1 L609,128.9 L611.8,148 L614.6,163.7 L617.4,172.2 L620.2,172.1 L622.9,164.5 L625.7,149.4 L628.5,136.1 L631.3,128.8 L634.1,127.9 L636.9,134.7 L639.7,146.2 L642.4,159.6 L645.2,167.4 L648,167.6 L650.8,161.7 L653.6,149.3 L656.4,135.5 L659.2,125.7 L661.9,125.1 L664.7,134 L667.5,148.1 L670.3,162"/><path d="M391.7,132.3 L394.5,143.4 L397.3,159.6 L400.1,168.9 L402.8,169.3 L405.6,161.5 L408.4,146 L411.2,126.5 L414,110 L416.8,107.6 L419.6,121.2 L422.3,141.2 L425.1,155.1 L427.9,163.4 L430.7,164.4 L433.5,158.1 L436.3,145.2 L439.1,121.2 L441.8,97.7 L444.6,94.8 L447.4,113.9 L450.2,141 L453,146.5 L455.8,150.4 L458.6,151 L461.4,148.6 L464.1,142.8 L466.9,129.8 L469.7,116.3 L472.5,114.6 L475.3,125.5 L478.1,140.4 L480.9,148.2 L483.6,153.2 L486.4,153.1 L489.2,149.5 L492,141.9 L494.8,131.7 L497.6,122.3 L500.4,120.9 L503.1,128.7 L505.9,139.7 L508.7,146.9 L511.5,151.1 L514.3,152.5 L517.1,149.4 L519.9,141.6 L522.6,119.3 L525.4,96.2 L528.2,94.6 L531,113.6 L533.8,141 L536.6,155.3 L539.4,162.4 L542.1,163.1 L544.9,156.6 L547.7,143.5 L550.5,117.9 L553.3,93.3 L556.1,90.6 L558.9,111 L561.6,140.2 L564.4,153.7 L567.2,161.4 L570,162.6 L572.8,156.6 L575.6,145.5 L578.4,129.5 L581.1,115.2 L583.9,113.9 L586.7,124.8 L589.5,143.5 L592.3,161.5 L595.1,172.6 L597.9,172.7 L600.6,164.2 L603.4,146.9 L606.2,128.2 L609,114.1 L611.8,112.7 L614.6,123.9 L617.4,141.3 L620.2,152.7 L622.9,159.5 L625.7,160.2 L628.5,154.6 L631.3,144.3 L634.1,126 L636.9,111 L639.7,108.3 L642.4,122.5 L645.2,143.3 L648,156.2 L650.8,164.4 L653.6,164 L656.4,157.8 L659.2,145.5 L661.9,113.2 L664.7,81.6 L667.5,77.8 L670.3,104.3"/><path d="M391.7,131.6 L394.5,134.5 L397.3,135.8 L400.1,135.6 L402.8,134.3 L405.6,129.2 L408.4,112.2 L411.2,103.1 L414,109.3 L416.8,124.9 L419.6,138.1 L422.3,145 L425.1,147 L427.9,144.7 L430.7,138.7 L433.5,128.2 L436.3,106.7 L439.1,94.2 L441.8,101.8 L444.6,123.1 L447.4,140.8 L450.2,151.8 L453,155.8 L455.8,153.4 L458.6,144.4 L461.4,129.1 L464.1,121.6 L466.9,117.8 L469.7,119.9 L472.5,126.1 L475.3,140.9 L478.1,151.8 L480.9,156.5 L483.6,154.4 L486.4,144.3 L489.2,128 L492,98.1 L494.8,81.6 L497.6,91.4 L500.4,120.5 L503.1,136.5 L505.9,143.4 L508.7,146.1 L511.5,144.2 L514.3,138.7 L517.1,128.6 L519.9,117.3 L522.6,110.8 L525.4,114.9 L528.2,125.1 L531,135.9 L533.8,142.2 L536.6,144.8 L539.4,143 L542.1,137.7 L544.9,128.5 L547.7,112.4 L550.5,103.5 L553.3,109.5 L556.1,125 L558.9,142.1 L561.6,153 L564.4,156.8 L567.2,153.9 L570,144.8 L572.8,129.1 L575.6,110.3 L578.4,99.4 L581.1,105.5 L583.9,122.8 L586.7,136.7 L589.5,143.8 L592.3,146.1 L595.1,145.5 L597.9,138.7 L600.6,127.2 L603.4,104.3 L606.2,92 L609,99.5 L611.8,121.9 L614.6,141.8 L617.4,154 L620.2,157.8 L622.9,155.6 L625.7,145.4 L628.5,128.1 L631.3,114.3 L634.1,106.4 L636.9,110.9 L639.7,124.7 L642.4,135.8 L645.2,143 L648,145.9 L650.8,144.3 L653.6,138.7 L656.4,129.3 L659.2,115.1 L661.9,106.5 L664.7,111.1 L667.5,125.3 L670.3,140.2"/><path d="M391.7,148.4 L394.5,157.2 L397.3,161.6 L400.1,160.2 L402.8,156.3 L405.6,146.5 L408.4,126.1 L411.2,108.8 L414,110.7 L416.8,129.5 L419.6,150.4 L422.3,163.2 L425.1,167.9 L427.9,166.8 L430.7,160.7 L433.5,147.6 L436.3,126.3 L439.1,110.1 L441.8,111.9 L444.6,130.3 L447.4,150.4 L450.2,161.6 L453,167.2 L455.8,166.7 L458.6,161.1 L461.4,148.6 L464.1,132.9 L466.9,121.5 L469.7,121.9 L472.5,135.6 L475.3,150.3 L478.1,161.3 L480.9,166.4 L483.6,164.8 L486.4,158.9 L489.2,147.3 L492,129.4 L494.8,114.4 L497.6,115.2 L500.4,131.8 L503.1,146.7 L505.9,153.2 L508.7,156.2 L511.5,155.8 L514.3,152.4 L517.1,146 L519.9,128.1 L522.6,112.7 L525.4,114.1 L528.2,131.4 L531,152.4 L533.8,168.4 L536.6,176.3 L539.4,175.6 L542.1,166.4 L544.9,149.7 L547.7,122.7 L550.5,101.9 L553.3,103.7 L556.1,126.2 L558.9,144.3 L561.6,147.8 L564.4,151.1 L567.2,151.3 L570,148.6 L572.8,143.9 L575.6,127.1 L578.4,110.5 L581.1,112.2 L583.9,130.5 L586.7,150 L589.5,161.2 L592.3,166.5 L595.1,166.2 L597.9,160.3 L600.6,148.2 L603.4,128.5 L606.2,111.8 L609,113.2 L611.8,131.4 L614.6,149.1 L617.4,158.1 L620.2,162.2 L622.9,161.9 L625.7,156.5 L628.5,146.2 L631.3,133 L634.1,122.6 L636.9,123.1 L639.7,134.9 L642.4,151.2 L645.2,164.7 L648,171.8 L650.8,171.2 L653.6,163.2 L656.4,148.9 L659.2,123.6 L661.9,105 L664.7,106.8 L667.5,127.5 L670.3,148.1"/><path d="M391.7,138.9 L394.5,148.9 L397.3,153.7 L400.1,154.3 L402.8,148.8 L405.6,137.8 L408.4,121.1 L411.2,109.4 L414,110.6 L416.8,124.2 L419.6,141.4 L422.3,151.9 L425.1,157.6 L427.9,157.6 L430.7,151.7 L433.5,139.7 L436.3,116.6 L439.1,98 L441.8,99.3 L444.6,118.2 L447.4,139.8 L450.2,151.3 L453,157.6 L455.8,158.4 L458.6,150.9 L461.4,138.5 L464.1,119.9 L466.9,106 L469.7,107.3 L472.5,122.7 L475.3,143.3 L478.1,159.1 L480.9,167.1 L483.6,166.5 L486.4,156.8 L489.2,139.6 L492,123.8 L494.8,114 L497.6,114.4 L500.4,124.9 L503.1,137.5 L505.9,143.5 L508.7,147.3 L511.5,147.8 L514.3,143.6 L517.1,137.3 L519.9,105.4 L522.6,79.3 L525.4,80.9 L528.2,109.5 L531,139.4 L533.8,148.6 L536.6,151.7 L539.4,151.4 L542.1,147.6 L544.9,139 L547.7,117.6 L550.5,100.5 L553.3,102.4 L556.1,120.1 L558.9,143.1 L561.6,161.4 L564.4,170.4 L567.2,169.7 L570,159.9 L572.8,140.2 L575.6,125.4 L578.4,116 L581.1,116.5 L583.9,126.2 L586.7,138.2 L589.5,144.8 L592.3,148.5 L595.1,148.2 L597.9,144.4 L600.6,137.3 L603.4,130.8 L606.2,126.9 L609,127.4 L611.8,131.7 L614.6,139.3 L617.4,151.5 L620.2,157.8 L622.9,156.8 L625.7,149.6 L628.5,137.3 L631.3,121.4 L634.1,110.4 L636.9,110.7 L639.7,123.7 L642.4,139.9 L645.2,153.2 L648,159.7 L650.8,159.3 L653.6,152 L656.4,138.7 L659.2,117 L661.9,101.6 L664.7,103.1 L667.5,120.3 L670.3,141.1"/><path d="M391.7,140 L394.5,145 L397.3,147.6 L400.1,147 L402.8,144.4 L405.6,138.1 L408.4,124.6 L411.2,114.8 L414,116.8 L416.8,129.6 L419.6,146.3 L422.3,159.4 L425.1,166.1 L427.9,165.6 L430.7,156.6 L433.5,140.9 L436.3,121.2 L439.1,107 L441.8,109.7 L444.6,126.1 L447.4,144.8 L450.2,156.9 L453,162.6 L455.8,162.6 L458.6,153.9 L461.4,139.7 L464.1,113.5 L466.9,94.3 L469.7,98.1 L472.5,122 L475.3,144.9 L478.1,157.3 L480.9,162.3 L483.6,161.3 L486.4,153.1 L489.2,138.5 L492,122.7 L494.8,113 L497.6,115.2 L500.4,128.1 L503.1,146.6 L505.9,161.6 L508.7,168.9 L511.5,167 L514.3,158.6 L517.1,141.4 L519.9,117.9 L522.6,101.7 L525.4,105.2 L528.2,124.6 L531,145 L533.8,156.6 L536.6,162.3 L539.4,161 L542.1,154.3 L544.9,140.1 L547.7,119.7 L550.5,106 L553.3,109.7 L556.1,126.6 L558.9,140.5 L561.6,146.2 L564.4,148.3 L567.2,147.6 L570,144.6 L572.8,138.6 L575.6,121.8 L578.4,110.4 L581.1,112.7 L583.9,127.4 L586.7,144 L589.5,154.5 L592.3,159.5 L595.1,158.5 L597.9,151.8 L600.6,140.5 L603.4,127.3 L606.2,118.4 L609,120.1 L611.8,130.6 L614.6,144.7 L617.4,156.6 L620.2,162.2 L622.9,160.4 L625.7,153 L628.5,139.4 L631.3,121.1 L634.1,108.7 L636.9,112.2 L639.7,127.7 L642.4,142.7 L645.2,150.9 L648,154.8 L650.8,154.6 L653.6,149.4 L656.4,139.3 L659.2,125.2 L661.9,114.3 L664.7,116.2 L667.5,128.3 L670.3,140.9"/><path d="M391.7,153.9 L394.5,164.3 L397.3,169.5 L400.1,167.5 L402.8,160.4 L405.6,148.1 L408.4,133.2 L411.2,122.8 L414,125.9 L416.8,138.8 L419.6,152 L422.3,159.3 L425.1,161.9 L427.9,161.3 L430.7,156 L433.5,147 L436.3,119.9 L439.1,100.4 L441.8,105.4 L444.6,132.8 L447.4,152.9 L450.2,162.2 L453,167.1 L455.8,166 L458.6,158.4 L461.4,146.1 L464.1,131 L466.9,119.9 L469.7,124 L472.5,138.9 L475.3,156.2 L478.1,168.1 L480.9,173.3 L483.6,171.5 L486.4,163.5 L489.2,149 L492,130.9 L494.8,118.9 L497.6,122.7 L500.4,137.9 L503.1,149 L505.9,152.1 L508.7,153.7 L511.5,152.5 L514.3,150.5 L517.1,146.4 L519.9,122.3 L522.6,102.9 L525.4,108.3 L528.2,133.9 L531,155.2 L533.8,166.9 L536.6,170.9 L539.4,169.4 L542.1,162.7 L544.9,148.3 L547.7,130.4 L550.5,119.2 L553.3,122.5 L556.1,138 L558.9,156.1 L561.6,169.1 L564.4,174.9 L567.2,173.2 L570,164.4 L572.8,148.3 L575.6,138.7 L578.4,134 L581.1,135.3 L583.9,141.9 L586.7,158.3 L589.5,172.5 L592.3,177.6 L595.1,175.4 L597.9,166.3 L600.6,148.1 L603.4,125.5 L606.2,110.7 L609,114.4 L611.8,135.5 L614.6,152.8 L617.4,162.5 L620.2,166.6 L622.9,165.9 L625.7,159.5 L628.5,149 L631.3,126 L634.1,110.7 L636.9,115.6 L639.7,136.5 L642.4,155.2 L645.2,165.7 L648,170.7 L650.8,168.7 L653.6,160.5 L656.4,146.3 L659.2,124 L661.9,109.9 L664.7,114.4 L667.5,135.5 L670.3,153.2"/><path d="M391.7,147.8 L394.5,150 L397.3,152 L400.1,151.4 L402.8,148 L405.6,141.5 L408.4,120.2 L411.2,111 L414,119.9 L416.8,140.9 L419.6,155.3 L422.3,165 L425.1,167.3 L427.9,164.8 L430.7,155.6 L433.5,142.1 L436.3,129.1 L439.1,123 L441.8,128.8 L444.6,142.2 L447.4,158.4 L450.2,168.7 L453,172 L455.8,168.1 L458.6,158.6 L461.4,141.6 L464.1,120.1 L466.9,110.4 L469.7,120.4 L472.5,141.1 L475.3,152.8 L478.1,159.6 L480.9,161.6 L483.6,159 L486.4,152.4 L489.2,139 L492,107.8 L494.8,94.2 L497.6,109.1 L500.4,140.6 L503.1,160.7 L505.9,173 L508.7,176.5 L511.5,172.9 L514.3,160.5 L517.1,142.5 L519.9,120.2 L522.6,110.4 L525.4,120.2 L528.2,141.1 L531,156.3 L533.8,165.5 L536.6,168.9 L539.4,166.3 L542.1,157.7 L544.9,142.4 L547.7,127.5 L550.5,121 L553.3,127.6 L556.1,142.4 L558.9,159.5 L561.6,170.2 L564.4,174.3 L567.2,170.3 L570,159.5 L572.8,139.2 L575.6,103 L578.4,86.5 L581.1,102.8 L583.9,138.7 L586.7,150.5 L589.5,155.2 L592.3,157.3 L595.1,155.6 L597.9,150.3 L600.6,143.2 L603.4,137.6 L606.2,135.6 L609,137.8 L611.8,142.5 L614.6,154.7 L617.4,162.9 L620.2,165.1 L622.9,162.5 L625.7,154.1 L628.5,141.4 L631.3,129.2 L634.1,123.1 L636.9,129.5 L639.7,141.8 L642.4,160.5 L645.2,172.3 L648,175.8 L650.8,172.6 L653.6,159.8 L656.4,140.5 L659.2,118.5 L661.9,109 L664.7,119.8 L667.5,142.6 L670.3,163.5"/><path d="M391.7,140.2 L394.5,154.9 L397.3,163.1 L400.1,163.6 L402.8,155.8 L405.6,141.1 L408.4,114.8 L411.2,92.9 L414,93 L416.8,114.5 L419.6,138 L422.3,148.7 L425.1,152.8 L427.9,153.3 L430.7,148.4 L433.5,138.8 L436.3,124.8 L439.1,114.3 L441.8,113.7 L444.6,123.6 L447.4,136.9 L450.2,146.1 L453,151.1 L455.8,151.3 L458.6,146.5 L461.4,136.8 L464.1,126.7 L466.9,120 L469.7,120.8 L472.5,126.7 L475.3,138.9 L478.1,152.6 L480.9,159.1 L483.6,158 L486.4,151.2 L489.2,139.1 L492,117.9 L494.8,100 L497.6,100.7 L500.4,118.3 L503.1,140.9 L505.9,156.9 L508.7,166.1 L511.5,167.1 L514.3,159.2 L517.1,142.1 L519.9,122.5 L522.6,108.3 L525.4,107.9 L528.2,121.6 L531,141.2 L533.8,156.8 L536.6,164.7 L539.4,164.5 L542.1,156 L544.9,140.8 L547.7,128.5 L550.5,121.5 L553.3,119.9 L556.1,127.7 L558.9,138.8 L561.6,150.4 L564.4,156 L567.2,154.6 L570,149.5 L572.8,138.2 L575.6,113.3 L578.4,90.1 L581.1,89.5 L583.9,112.8 L586.7,137.6 L589.5,147.9 L592.3,153.4 L595.1,153.8 L597.9,148.7 L600.6,139 L603.4,119.2 L606.2,102.8 L609,102.6 L611.8,118.5 L614.6,138.2 L617.4,148.1 L620.2,152.6 L622.9,151.8 L625.7,147.5 L628.5,137.4 L631.3,127 L634.1,119.3 L636.9,119 L639.7,127.2 L642.4,139.3 L645.2,153.4 L648,161.2 L650.8,161.4 L653.6,154.8 L656.4,139.3 L659.2,122.2 L661.9,110.3 L664.7,109.7 L667.5,122.9 L670.3,137.9"/><path d="M391.7,160 L394.5,166.9 L397.3,166.2 L400.1,160.4 L402.8,149.7 L405.6,118.5 L408.4,92.5 L411.2,92.2 L414,117.2 L416.8,147 L419.6,156 L422.3,160.8 L425.1,162 L427.9,156.7 L430.7,147.4 L433.5,132.9 L436.3,122.9 L439.1,123.2 L441.8,134.5 L444.6,150.3 L447.4,167.2 L450.2,175.8 L453,176 L455.8,166.4 L458.6,148.5 L461.4,133.5 L464.1,122.8 L466.9,123.1 L469.7,134.4 L472.5,149 L475.3,160.4 L478.1,167 L480.9,166.5 L483.6,160.6 L486.4,148.4 L489.2,133.8 L492,122.5 L494.8,122.1 L497.6,132.6 L500.4,148.4 L503.1,164.1 L505.9,173.1 L508.7,174.4 L511.5,165.9 L514.3,149 L517.1,132.5 L519.9,122.3 L522.6,122.1 L525.4,133.1 L528.2,149.3 L531,165.1 L533.8,173.5 L536.6,172.9 L539.4,165.5 L542.1,149.3 L544.9,127 L547.7,111.3 L550.5,111 L553.3,127.6 L556.1,150.7 L558.9,167.9 L561.6,177.4 L564.4,176.8 L567.2,166.8 L570,149.2 L572.8,121.4 L575.6,100.8 L578.4,100.8 L581.1,121.6 L583.9,146.3 L586.7,156.7 L589.5,161.5 L592.3,161.6 L595.1,155.7 L597.9,146.7 L600.6,134.2 L603.4,127.2 L606.2,128.1 L609,136.4 L611.8,149.5 L614.6,162.3 L617.4,168.6 L620.2,168.4 L622.9,161.6 L625.7,148.5 L628.5,128.4 L631.3,112.6 L634.1,113.2 L636.9,128.8 L639.7,149 L642.4,161.6 L645.2,169.9 L648,169.4 L650.8,162.4 L653.6,149.4 L656.4,141.5 L659.2,137.1 L661.9,136.7 L664.7,140.6 L667.5,148 L670.3,159.7"/><path d="M391.7,135.1 L394.5,144.6 L397.3,151.2 L400.1,153.4 L402.8,150.4 L405.6,144.3 L408.4,129.2 L411.2,104.4 L414,93.4 L416.8,106.1 L419.6,132.1 L422.3,150.2 L425.1,160.8 L427.9,164.2 L430.7,160.3 L433.5,148.8 L436.3,131.9 L439.1,113.2 L441.8,106.4 L444.6,114.7 L447.4,134.3 L450.2,148 L453,156 L455.8,157.9 L458.6,154.8 L461.4,145.7 L464.1,133.7 L466.9,124.7 L469.7,121.1 L472.5,126.6 L475.3,135.3 L478.1,149.5 L480.9,158.6 L483.6,160.8 L486.4,157.2 L489.2,147.2 L492,128.9 L494.8,102.2 L497.6,91.6 L500.4,105 L503.1,131.1 L505.9,147.4 L508.7,156.4 L511.5,158.8 L514.3,155.8 L517.1,146.7 L519.9,128.4 L522.6,97.1 L525.4,86.2 L528.2,100.6 L531,131.8 L533.8,149.2 L536.6,158.5 L539.4,162 L542.1,157.9 L544.9,146.3 L547.7,133.9 L550.5,126.9 L553.3,124.7 L556.1,128.3 L558.9,135.4 L561.6,146.9 L564.4,155.1 L567.2,158 L570,154 L572.8,145.8 L575.6,128.2 L578.4,96.6 L581.1,83.9 L583.9,100.3 L586.7,133.1 L589.5,152.8 L592.3,163.9 L595.1,168 L597.9,163.8 L600.6,151.6 L603.4,131.2 L606.2,108.7 L609,99.8 L611.8,111 L614.6,133.7 L617.4,140.7 L620.2,144.1 L622.9,144.8 L625.7,143.9 L628.5,140.1 L631.3,131.5 L634.1,113.9 L636.9,106.5 L639.7,115.4 L642.4,134.3 L645.2,145.4 L648,152.2 L650.8,154.2 L653.6,151.4 L656.4,144 L659.2,135.6 L661.9,130.5 L664.7,128.3 L667.5,130.4 L670.3,135.3"/><path d="M391.7,152.9 L394.5,154.8 L397.3,151.8 L400.1,141.5 L402.8,126.3 L405.6,113.2 L408.4,108.6 L411.2,115.9 L414,130 L416.8,144.8 L419.6,153.5 L422.3,156 L425.1,151.8 L427.9,141.5 L430.7,124.2 L433.5,102.9 L436.3,95.7 L439.1,106.7 L441.8,129.2 L444.6,144.1 L447.4,152.4 L450.2,154.6 L453,152.4 L455.8,142.8 L458.6,130.8 L461.4,125.9 L464.1,124.6 L466.9,126.9 L469.7,131.6 L472.5,146.1 L475.3,157.1 L478.1,159.7 L480.9,155.5 L483.6,142.7 L486.4,125.4 L489.2,109.3 L492,102.9 L494.8,111.7 L497.6,129.2 L500.4,138.3 L503.1,144.1 L505.9,146.4 L508.7,143.9 L511.5,137.8 L514.3,125.8 L517.1,108.4 L519.9,101.4 L522.6,110.9 L525.4,129.5 L528.2,145.7 L531,155.8 L533.8,159.1 L536.6,154.9 L539.4,143.8 L542.1,124.9 L544.9,103.2 L547.7,94.7 L550.5,106.7 L553.3,129.7 L556.1,147.6 L558.9,158.5 L561.6,162.5 L564.4,157.7 L567.2,145.2 L570,126.5 L572.8,111.1 L575.6,104.8 L578.4,113.2 L581.1,130.2 L583.9,147.4 L586.7,157.7 L589.5,160.6 L592.3,155 L595.1,144.2 L597.9,124.3 L600.6,99.5 L603.4,91 L606.2,105 L609,131.1 L611.8,146.8 L614.6,156.2 L617.4,159.1 L620.2,154.8 L622.9,144 L625.7,124.5 L628.5,97.1 L631.3,87.4 L634.1,101.3 L636.9,130.5 L639.7,143.7 L642.4,150.9 L645.2,152.5 L648,149.7 L650.8,140.9 L653.6,128.5 L656.4,115.6 L659.2,110.9 L661.9,117.1 L664.7,130.4 L667.5,144 L670.3,153.5"/><path d="M391.7,152.5 L394.5,158.7 L397.3,160.1 L400.1,156.1 L402.8,148.5 L405.6,134.7 L408.4,120 L411.2,115.1 L414,124.8 L416.8,142.5 L419.6,156.7 L422.3,165.4 L425.1,168.3 L427.9,163.6 L430.7,151.9 L433.5,130.8 L436.3,107.4 L439.1,101.2 L441.8,116.1 L444.6,141.1 L447.4,155.1 L450.2,162.9 L453,164.3 L455.8,160.5 L458.6,149.4 L461.4,135.5 L464.1,122.4 L466.9,119.1 L469.7,126 L472.5,140.8 L475.3,157.7 L478.1,167.8 L480.9,171.4 L483.6,165.9 L486.4,152.4 L489.2,136.1 L492,123.9 L494.8,119.5 L497.6,126.6 L500.4,141.7 L503.1,155 L505.9,163.9 L508.7,166.2 L511.5,161 L514.3,150.3 L517.1,131.7 L519.9,111.9 L522.6,106.9 L525.4,118.4 L528.2,141.3 L531,149.2 L533.8,154 L536.6,155.3 L539.4,152.2 L542.1,146.6 L544.9,138.4 L547.7,130.4 L550.5,127.7 L553.3,131.9 L556.1,141.4 L558.9,155.3 L561.6,164.8 L564.4,167.3 L567.2,162.4 L570,151 L572.8,131.2 L575.6,108.7 L578.4,103.1 L581.1,116.7 L583.9,141.1 L586.7,157.5 L589.5,167.8 L592.3,169.8 L595.1,165 L597.9,151.5 L600.6,130.9 L603.4,111.1 L606.2,106.2 L609,117.3 L611.8,139.6 L614.6,154.5 L617.4,164.2 L620.2,166.6 L622.9,161.6 L625.7,151.2 L628.5,137.8 L631.3,127.2 L634.1,126 L636.9,131.6 L639.7,142.2 L642.4,150.2 L645.2,155.1 L648,155.7 L650.8,153 L653.6,147.9 L656.4,135 L659.2,119.2 L661.9,114.5 L664.7,124.3 L667.5,142.1 L670.3,152.6"/><path d="M391.7,158.4 L394.5,161.8 L397.3,161.9 L400.1,157.4 L402.8,149.9 L405.6,127 L408.4,109.5 L411.2,111 L414,131.2 L416.8,154.6 L419.6,168.8 L422.3,174.5 L425.1,174 L427.9,165.6 L430.7,151 L433.5,127.9 L436.3,112.4 L439.1,114.8 L441.8,133.5 L444.6,153.6 L447.4,164.4 L450.2,170.4 L453,169.5 L455.8,163.3 L458.6,151.3 L461.4,132.7 L464.1,119.3 L466.9,119.6 L469.7,135.3 L472.5,152.1 L475.3,160.1 L478.1,163.6 L480.9,163 L483.6,158.2 L486.4,150.5 L489.2,132.9 L492,119.4 L494.8,120.1 L497.6,135.1 L500.4,152.5 L503.1,163.5 L505.9,168.7 L508.7,168.7 L511.5,161.7 L514.3,149.7 L517.1,128.9 L519.9,114.6 L522.6,116.7 L525.4,134.2 L528.2,150.9 L531,158.5 L533.8,162 L536.6,161.5 L539.4,158 L542.1,150.4 L544.9,130.7 L547.7,116.3 L550.5,118.6 L553.3,134.9 L556.1,156.2 L558.9,173.1 L561.6,180.2 L564.4,178.9 L567.2,169.9 L570,152 L572.8,136.5 L575.6,126 L578.4,127.2 L581.1,137.7 L583.9,153.2 L586.7,166.5 L589.5,172.2 L592.3,171.5 L595.1,163.3 L597.9,149.9 L600.6,126.7 L603.4,109.6 L606.2,112.2 L609,131.5 L611.8,156.5 L614.6,175.1 L617.4,183.8 L620.2,182.4 L622.9,170.7 L625.7,151.9 L628.5,137 L631.3,128.2 L634.1,129.2 L636.9,139 L639.7,151.8 L642.4,161.3 L645.2,166 L648,165.8 L650.8,159.9 L653.6,149.1 L656.4,132 L659.2,118.4 L661.9,121.3 L664.7,136.9 L667.5,154.8 L670.3,168.5"/><path d="M391.7,140.5 L394.5,144.2 L397.3,144.1 L400.1,139.3 L402.8,130.8 L405.6,121.6 L408.4,115.2 L411.2,116.1 L414,121.9 L416.8,133.2 L419.6,145.2 L422.3,151.1 L425.1,150.6 L427.9,143.5 L430.7,131.4 L433.5,113.2 L436.3,98.7 L439.1,99.4 L441.8,114.3 L444.6,134.2 L447.4,147 L450.2,153.5 L453,153 L455.8,146 L458.6,132.1 L461.4,110.8 L464.1,93.9 L466.9,95.1 L469.7,112.5 L472.5,131.2 L475.3,141.9 L478.1,147.2 L480.9,146.2 L483.6,141.3 L486.4,130.7 L489.2,106.3 L492,86.5 L494.8,88 L497.6,110.3 L500.4,132.5 L503.1,144.1 L505.9,149.7 L508.7,149.9 L511.5,144.1 L514.3,131.9 L517.1,116.3 L519.9,105.3 L522.6,105.7 L525.4,117.4 L528.2,129.9 L531,135 L533.8,137.3 L536.6,136.3 L539.4,133.9 L542.1,128.5 L544.9,120.4 L547.7,114 L550.5,114.6 L553.3,120.9 L556.1,132.4 L558.9,143.8 L561.6,150.2 L564.4,149.7 L567.2,142.2 L570,130.4 L572.8,119.4 L575.6,112.2 L578.4,112.8 L581.1,121.4 L583.9,135.7 L586.7,151.6 L589.5,159.3 L592.3,159.1 L595.1,150 L597.9,133.3 L600.6,108.3 L603.4,89.3 L606.2,90.9 L609,111.1 L611.8,131.7 L614.6,140.8 L617.4,145.5 L620.2,145.5 L622.9,141.1 L625.7,131.3 L628.5,105.7 L631.3,84.7 L634.1,86.4 L636.9,109.1 L639.7,133.2 L642.4,145.6 L645.2,151.8 L648,151.2 L650.8,144.7 L653.6,131.5 L656.4,122.4 L659.2,116.9 L661.9,118 L664.7,122.7 L667.5,133.3 L670.3,146.3"/><path d="M391.7,155.2 L394.5,162 L397.3,162.5 L400.1,156.3 L402.8,144.4 L405.6,126.8 L408.4,111.8 L411.2,110.6 L414,122.9 L416.8,143.8 L419.6,161.7 L422.3,171.2 L425.1,172.4 L427.9,164.3 L430.7,146.6 L433.5,123.1 L436.3,105 L439.1,103.1 L441.8,120.2 L444.6,142.4 L447.4,157.7 L450.2,165.7 L453,165.9 L455.8,158.8 L458.6,144.7 L461.4,127.5 L464.1,115.4 L466.9,114.8 L469.7,125.6 L472.5,139.1 L475.3,147.3 L478.1,150.5 L480.9,151.1 L483.6,147 L486.4,139.6 L489.2,131.6 L492,125.8 L494.8,125.7 L497.6,131.1 L500.4,140.7 L503.1,151.9 L505.9,158.1 L508.7,158 L511.5,152.3 L514.3,142.2 L517.1,121.4 L519.9,101.2 L522.6,99.8 L525.4,118.8 L528.2,137.6 L531,144.6 L533.8,147.5 L536.6,147.7 L539.4,143.7 L542.1,138.5 L544.9,123 L547.7,107.6 L550.5,107.5 L553.3,122.2 L556.1,141.7 L558.9,155.2 L561.6,162 L564.4,163.3 L567.2,156.5 L570,143.3 L572.8,116.4 L575.6,91.1 L578.4,90.2 L581.1,113.5 L583.9,140.8 L586.7,155.2 L589.5,161.4 L592.3,161.4 L595.1,155.6 L597.9,143.4 L600.6,123.1 L603.4,104.5 L606.2,103.5 L609,119.9 L611.8,139.4 L614.6,148.3 L617.4,152.7 L620.2,151.7 L622.9,147.6 L625.7,139.7 L628.5,132.4 L631.3,128.5 L634.1,128.5 L636.9,132.7 L639.7,141.1 L642.4,154.1 L645.2,160.7 L648,160.9 L650.8,154.7 L653.6,142.3 L656.4,118.2 L659.2,95.3 L661.9,93.7 L664.7,114.7 L667.5,140.3 L670.3,155.5"/><path d="M391.7,139.7 L394.5,145.6 L397.3,148.1 L400.1,148.1 L402.8,143.3 L405.6,135.8 L408.4,102.8 L411.2,83.3 L414,90.1 L416.8,116.9 L419.6,139.6 L422.3,146.7 L425.1,150.8 L427.9,150 L430.7,143.4 L433.5,134.3 L436.3,104.6 L439.1,86.3 L441.8,92.5 L444.6,118.3 L447.4,141.4 L450.2,150.6 L453,154.8 L455.8,153.5 L458.6,146.2 L461.4,134.6 L464.1,112.6 L466.9,100.3 L469.7,104.4 L472.5,122.9 L475.3,143.4 L478.1,157.3 L480.9,163.6 L483.6,162.2 L486.4,152.6 L489.2,135.2 L492,102.1 L494.8,82.3 L497.6,89.1 L500.4,117.8 L503.1,142.6 L505.9,154.8 L508.7,160.8 L511.5,159.1 L514.3,150.6 L517.1,136.6 L519.9,107.7 L522.6,89.9 L525.4,94.5 L528.2,118.5 L531,143 L533.8,156.3 L536.6,162.7 L539.4,160.8 L542.1,151.4 L544.9,135 L547.7,124.9 L550.5,117.5 L553.3,120.1 L556.1,129.1 L558.9,141.4 L561.6,151.1 L564.4,156 L567.2,154.7 L570,147 L572.8,134.9 L575.6,111.7 L578.4,96.9 L581.1,102.3 L583.9,122.6 L586.7,144.4 L589.5,159.3 L592.3,165.9 L595.1,163.8 L597.9,153 L600.6,134.9 L603.4,113.2 L606.2,100.9 L609,104.4 L611.8,123.2 L614.6,140 L617.4,150.4 L620.2,154.7 L622.9,153.6 L625.7,146.5 L628.5,135.2 L631.3,118.5 L634.1,108 L636.9,111.4 L639.7,125.7 L642.4,142.8 L645.2,155.6 L648,161.7 L650.8,159.9 L653.6,150.5 L656.4,134.4 L659.2,105.1 L661.9,88.8 L664.7,94.9 L667.5,119.7 L670.3,141"/><path d="M391.7,151.6 L394.5,159.9 L397.3,161.9 L400.1,156.2 L402.8,143.4 L405.6,119.6 L408.4,87.8 L411.2,80.5 L414,103.1 L416.8,136.1 L419.6,148.4 L422.3,154.1 L425.1,155.2 L427.9,151 L430.7,142.4 L433.5,127.3 L436.3,109.7 L439.1,104.4 L441.8,116.4 L444.6,135.8 L447.4,151 L450.2,159.1 L453,161.5 L455.8,155.5 L458.6,143.1 L461.4,121 L464.1,93.4 L466.9,87.3 L469.7,106.3 L472.5,133.9 L475.3,148.3 L478.1,156 L480.9,157.8 L483.6,153.5 L486.4,143.2 L489.2,121.9 L492,93.9 L494.8,87.2 L497.6,106.3 L500.4,136.3 L503.1,153.7 L505.9,163.1 L508.7,164.9 L511.5,158.8 L514.3,145.9 L517.1,121.3 L519.9,92.9 L522.6,85.5 L525.4,107.1 L528.2,136.1 L531,142.2 L533.8,145 L536.6,145.3 L539.4,143.1 L542.1,137.4 L544.9,124.7 L547.7,104.8 L550.5,100.6 L553.3,113.6 L556.1,134.2 L558.9,144.2 L561.6,149.6 L564.4,150 L567.2,146.9 L570,139.7 L572.8,123.4 L575.6,101 L578.4,95.5 L581.1,111.7 L583.9,133.8 L586.7,143 L589.5,147.7 L592.3,148.8 L595.1,146.9 L597.9,140 L600.6,130.2 L603.4,122.5 L606.2,120.6 L609,125.3 L611.8,134.8 L614.6,142.5 L617.4,147.1 L620.2,148.3 L622.9,146 L625.7,138.4 L628.5,130.2 L631.3,123.7 L634.1,122.5 L636.9,127.3 L639.7,136.7 L642.4,154.5 L645.2,163.2 L648,165.4 L650.8,160 L653.6,147.2 L656.4,128.4 L659.2,114.7 L661.9,111.1 L664.7,122.1 L667.5,137.2 L670.3,145.1"/><path d="M391.7,168.4 L394.5,168 L397.3,160.2 L400.1,144.5 L402.8,126.3 L405.6,114.1 L408.4,113 L411.2,125.1 L414,141.1 L416.8,154.3 L419.6,162.1 L422.3,161.6 L425.1,155.2 L427.9,143.4 L430.7,117.6 L433.5,93.3 L436.3,92.1 L439.1,116.1 L441.8,142.6 L444.6,158.2 L447.4,166.1 L450.2,166.4 L453,158.6 L455.8,143 L458.6,123.9 L461.4,110.3 L464.1,110.8 L466.9,123.8 L469.7,140.5 L472.5,152.9 L475.3,159 L478.1,158.7 L480.9,153.9 L483.6,141.7 L486.4,128.9 L489.2,121.7 L492,122.1 L494.8,128.5 L497.6,140.3 L500.4,152.3 L503.1,158.5 L505.9,158.6 L508.7,153.8 L511.5,142.6 L514.3,123.8 L517.1,106.3 L519.9,105.9 L522.6,121.7 L525.4,140.7 L528.2,149.6 L531,153.1 L533.8,153.5 L536.6,150 L539.4,141.4 L542.1,131.6 L544.9,124.7 L547.7,123.8 L550.5,129.7 L553.3,139 L556.1,148.4 L558.9,153.6 L561.6,154 L564.4,150.2 L567.2,140.2 L570,124.1 L572.8,110.6 L575.6,110.9 L578.4,124.1 L581.1,141.2 L583.9,153.9 L586.7,160.7 L589.5,160.6 L592.3,154.8 L595.1,141.9 L597.9,122.2 L600.6,105.5 L603.4,105.6 L606.2,121.2 L609,139.5 L611.8,149.1 L614.6,154 L617.4,154 L620.2,149.4 L622.9,140.3 L625.7,124.1 L628.5,109.1 L631.3,108.4 L634.1,122.9 L636.9,139 L639.7,146.3 L642.4,149.1 L645.2,149.6 L648,147 L650.8,140.4 L653.6,128.4 L656.4,117.3 L659.2,116.8 L661.9,127.2 L664.7,139.6 L667.5,148.5 L670.3,153.3"/><path d="M391.7,140.3 L394.5,154.4 L397.3,162.1 L400.1,162.8 L402.8,158.1 L405.6,146.3 L408.4,126.6 L411.2,102.9 L414,97.2 L416.8,115.6 L419.6,140.6 L422.3,146.2 L425.1,148.7 L427.9,148.5 L430.7,147.1 L433.5,142.8 L436.3,134.6 L439.1,123.2 L441.8,120 L444.6,127.7 L447.4,140 L450.2,152.5 L453,158.9 L455.8,160.3 L458.6,155.9 L461.4,146.5 L464.1,133.2 L466.9,121.9 L469.7,119.4 L472.5,128.4 L475.3,140.4 L478.1,154 L480.9,161.9 L483.6,162.9 L486.4,158.6 L489.2,146.7 L492,127.5 L494.8,110.6 L497.6,107.3 L500.4,121.2 L503.1,141.4 L505.9,156.3 L508.7,165.2 L511.5,166.5 L514.3,162.1 L517.1,148.7 L519.9,123.2 L522.6,91.9 L525.4,85.7 L528.2,108.7 L531,141 L533.8,157.4 L536.6,166.6 L539.4,168 L542.1,162.1 L544.9,148.3 L547.7,133.4 L550.5,123.3 L553.3,120.6 L556.1,128.3 L558.9,140.3 L561.6,152 L564.4,158.3 L567.2,159.1 L570,154.8 L572.8,146.2 L575.6,133.6 L578.4,123.5 L581.1,122.3 L583.9,129.1 L586.7,139.6 L589.5,146.8 L592.3,150 L595.1,150.5 L597.9,148.3 L600.6,142.9 L603.4,127.2 L606.2,107.9 L609,104 L611.8,118.8 L614.6,142 L617.4,158.6 L620.2,167.5 L622.9,168.7 L625.7,162.8 L628.5,149 L631.3,127.8 L634.1,107.9 L636.9,103.6 L639.7,118.4 L642.4,141.1 L645.2,155.5 L648,163.2 L650.8,163.8 L653.6,159.6 L656.4,147.2 L659.2,131.4 L661.9,117.2 L664.7,115.2 L667.5,125.7 L670.3,141"/><path d="M391.7,155.9 L394.5,156.1 L397.3,149.3 L400.1,136.7 L402.8,104.2 L405.6,77.9 L408.4,77.8 L411.2,103.2 L414,134.1 L416.8,141.7 L419.6,145.6 L422.3,145.7 L425.1,142 L427.9,135.2 L430.7,122.1 L433.5,111.5 L436.3,111.2 L439.1,121.5 L441.8,135.3 L444.6,146.7 L447.4,153.7 L450.2,154.5 L453,147.9 L455.8,136.7 L458.6,125.2 L461.4,117.7 L464.1,117.4 L466.9,125 L469.7,137.4 L472.5,151.9 L475.3,159.3 L478.1,159 L480.9,151 L483.6,136.8 L486.4,120.5 L489.2,108 L492,107.1 L494.8,118.4 L497.6,134.4 L500.4,146 L503.1,152.3 L505.9,152.7 L508.7,146.2 L511.5,135.4 L514.3,118.8 L517.1,107.1 L519.9,107.5 L522.6,119.1 L525.4,135.5 L528.2,145.2 L531,150.3 L533.8,149.2 L536.6,144.7 L539.4,135.1 L542.1,119.9 L544.9,108.6 L547.7,108.2 L550.5,120.5 L553.3,135.9 L556.1,146.6 L558.9,153.1 L561.6,153.4 L564.4,147.2 L567.2,135.6 L570,114.5 L572.8,97.9 L575.6,97.4 L578.4,114 L581.1,135 L583.9,143.9 L586.7,148.6 L589.5,149.2 L592.3,144.7 L595.1,136 L597.9,117.6 L600.6,103.6 L603.4,104.2 L606.2,118.3 L609,135.9 L611.8,148.2 L614.6,155.8 L617.4,156.2 L620.2,149.2 L622.9,136.1 L625.7,118.1 L628.5,105.7 L631.3,105.8 L634.1,117.5 L636.9,134.6 L639.7,141.6 L642.4,145.9 L645.2,146.1 L648,141.6 L650.8,134.2 L653.6,128.7 L656.4,125.6 L659.2,125.5 L661.9,128.9 L664.7,136.2 L667.5,153.8 L670.3,162"/><path d="M391.7,150.7 L394.5,159 L397.3,159.2 L400.1,152.6 L402.8,137.9 L405.6,114.5 L408.4,96.1 L411.2,95.5 L414,113.1 L416.8,136.6 L419.6,149.4 L422.3,156.7 L425.1,156.7 L427.9,150.4 L430.7,137.7 L433.5,118.7 L436.3,103.5 L439.1,103.6 L441.8,117.7 L444.6,136.5 L447.4,144.7 L450.2,149.1 L453,149.3 L455.8,144.9 L458.6,136.4 L461.4,117.8 L464.1,102.8 L466.9,101.4 L469.7,115.6 L472.5,137.5 L475.3,151.8 L478.1,159.8 L480.9,160.3 L483.6,153.4 L486.4,137.6 L489.2,116.8 L492,101.7 L494.8,101 L497.6,116.2 L500.4,136.8 L503.1,146.4 L505.9,152.4 L508.7,152.8 L511.5,147.2 L514.3,135.8 L517.1,120.8 L519.9,110.7 L522.6,111.1 L525.4,121 L528.2,133.5 L531,139.4 L533.8,143 L536.6,142.8 L539.4,139.9 L542.1,135.1 L544.9,119.9 L547.7,106.8 L550.5,106.4 L553.3,119 L556.1,137.9 L558.9,154.4 L561.6,164.4 L564.4,164.8 L567.2,156 L570,139.3 L572.8,119.6 L575.6,105.2 L578.4,104.6 L581.1,119.2 L583.9,136.8 L586.7,142.9 L589.5,146 L592.3,146.6 L595.1,142.8 L597.9,136 L600.6,121.4 L603.4,110.3 L606.2,110.5 L609,121.1 L611.8,138.9 L614.6,159.9 L617.4,170.3 L620.2,170.3 L622.9,159.8 L625.7,140.6 L628.5,127.6 L631.3,120.8 L634.1,120.3 L636.9,125.6 L639.7,136.1 L642.4,151.2 L645.2,158.7 L648,159.2 L650.8,152.7 L653.6,138.9 L656.4,128.2 L659.2,121.4 L661.9,121.3 L664.7,128.1 L667.5,137.8 L670.3,148"/><path d="M391.7,145.9 L394.5,148.4 L397.3,147.8 L400.1,144.8 L402.8,140 L405.6,112.7 L408.4,92 L411.2,95.6 L414,119.9 L416.8,143.4 L419.6,151.9 L422.3,155.8 L425.1,155.1 L427.9,149.3 L430.7,141.2 L433.5,117.5 L436.3,99.2 L439.1,101.9 L441.8,122.8 L444.6,142.4 L447.4,151.4 L450.2,155.4 L453,154.5 L455.8,149.9 L458.6,141.7 L461.4,135.8 L464.1,131.9 L466.9,132.2 L469.7,135.4 L472.5,141.8 L475.3,150 L478.1,153.1 L480.9,152.3 L483.6,147.3 L486.4,139.7 L489.2,119.3 L492,103.8 L494.8,105.4 L497.6,123.9 L500.4,141.5 L503.1,149.4 L505.9,153.8 L508.7,154 L511.5,148.5 L514.3,140.8 L517.1,120.2 L519.9,104.9 L522.6,107.5 L525.4,125.8 L528.2,144.2 L531,152 L533.8,156.6 L536.6,156.4 L539.4,150.9 L542.1,140.5 L544.9,115.2 L547.7,96.1 L550.5,99.6 L553.3,122 L556.1,144.7 L558.9,155.2 L561.6,161.4 L564.4,159.7 L567.2,152.7 L570,140.8 L572.8,116.4 L575.6,98.6 L578.4,101.8 L581.1,122.8 L583.9,142.8 L586.7,150 L589.5,152.9 L592.3,152.4 L595.1,148.5 L597.9,140.9 L600.6,123.6 L603.4,110 L606.2,111.5 L609,127.2 L611.8,145.8 L614.6,158.4 L617.4,165.2 L620.2,163.6 L622.9,155.6 L625.7,140.9 L628.5,131.9 L631.3,125.5 L634.1,126.2 L636.9,133.1 L639.7,145.3 L642.4,158.6 L645.2,165.5 L648,164.3 L650.8,156.3 L653.6,142.2 L656.4,122.1 L659.2,107.7 L661.9,109.5 L664.7,127.3 L667.5,144.9 L670.3,152"/><path d="M391.7,151.1 L394.5,160.2 L397.3,163 L400.1,157.2 L402.8,145.1 L405.6,133.2 L408.4,125.3 L411.2,123.7 L414,128.1 L416.8,136.2 L419.6,146 L422.3,151.9 L425.1,154.4 L427.9,151.1 L430.7,143.5 L433.5,129.7 L436.3,114.2 L439.1,108.3 L441.8,117.9 L444.6,135.7 L447.4,152.2 L450.2,163.2 L453,166.2 L455.8,159.6 L458.6,145.5 L461.4,128.1 L464.1,116.2 L466.9,111.8 L469.7,120.3 L472.5,135 L475.3,147.7 L478.1,155.1 L480.9,156.7 L483.6,153 L486.4,143.4 L489.2,126 L492,105.9 L494.8,100 L497.6,112.4 L500.4,135.2 L503.1,149 L505.9,157.3 L508.7,158.9 L511.5,154.1 L514.3,143.7 L517.1,123.2 L519.9,97.5 L522.6,89.8 L525.4,106 L528.2,135.2 L531,147.7 L533.8,154.4 L536.6,156.2 L539.4,152.3 L542.1,143 L544.9,121.8 L547.7,96 L550.5,88.3 L553.3,105 L556.1,136 L558.9,146.1 L561.6,151.6 L564.4,152.7 L567.2,149.6 L570,142.5 L572.8,131.3 L575.6,121.4 L578.4,118.7 L581.1,124.7 L583.9,136.1 L586.7,151 L589.5,161.4 L592.3,163.1 L595.1,157.5 L597.9,145.3 L600.6,124.1 L603.4,99.4 L606.2,91.9 L609,107.3 L611.8,134.5 L614.6,149.3 L617.4,157.9 L620.2,160 L622.9,155.1 L625.7,144.8 L628.5,131.9 L631.3,123.3 L634.1,120 L636.9,125.4 L639.7,135.6 L642.4,149.3 L645.2,159.1 L648,160.7 L650.8,156.4 L653.6,145.8 L656.4,127.6 L659.2,109 L661.9,103.6 L664.7,115 L667.5,135.6 L670.3,155.1"/><path d="M391.7,157.2 L394.5,159.4 L397.3,156.4 L400.1,148.3 L402.8,131.4 L405.6,108.2 L408.4,100.9 L411.2,114.3 L414,139 L416.8,153.5 L419.6,162.1 L422.3,164.1 L425.1,160.8 L427.9,151 L430.7,131.6 L433.5,104.7 L436.3,94.9 L439.1,109.9 L441.8,138.4 L444.6,153.2 L447.4,161.9 L450.2,164.7 L453,161.3 L455.8,150.5 L458.6,132.3 L461.4,107.1 L464.1,98.6 L466.9,112.8 L469.7,139.2 L472.5,148.4 L475.3,154.1 L478.1,156.2 L480.9,153.6 L483.6,146.5 L486.4,132.3 L489.2,109.7 L492,102.9 L494.8,116.3 L497.6,139.3 L500.4,153.6 L503.1,160.5 L505.9,162.7 L508.7,159.9 L511.5,150.1 L514.3,136.6 L517.1,131.1 L519.9,128.7 L522.6,133.1 L525.4,139.2 L528.2,149.1 L531,155.2 L533.8,157.3 L536.6,154.7 L539.4,148.7 L542.1,134 L544.9,109.6 L547.7,101.7 L550.5,115.3 L553.3,140.1 L556.1,150.6 L558.9,157 L561.6,158.9 L564.4,155.1 L567.2,147.2 L570,135 L572.8,120 L575.6,115.3 L578.4,123.6 L581.1,139 L583.9,155.3 L586.7,165 L589.5,167.9 L592.3,163.1 L595.1,151.6 L597.9,131 L600.6,104.7 L603.4,96.7 L606.2,112.4 L609,139.8 L611.8,152.4 L614.6,159 L617.4,161.7 L620.2,157.1 L622.9,147.6 L625.7,130 L628.5,102.3 L631.3,93.2 L634.1,109.3 L636.9,138.5 L639.7,143.5 L642.4,146.4 L645.2,146.5 L648,145.6 L650.8,141.9 L653.6,133.5 L656.4,117.5 L659.2,112.1 L661.9,121.8 L664.7,138.8 L667.5,148.7 L670.3,154.2"/><path d="M391.7,148 L394.5,156.1 L397.3,158.6 L400.1,156.4 L402.8,148.2 L405.6,136.3 L408.4,122.8 L411.2,116.4 L414,121.3 L416.8,135 L419.6,152.5 L422.3,165.3 L425.1,170.5 L427.9,166.6 L430.7,153.1 L433.5,135.5 L436.3,120.2 L439.1,113.4 L441.8,119.1 L444.6,134.2 L447.4,143.5 L450.2,148.8 L453,149.6 L455.8,148.2 L458.6,143.8 L461.4,134 L464.1,117.4 L466.9,109.3 L469.7,115.5 L472.5,133.5 L475.3,151.4 L478.1,163.9 L480.9,168.2 L483.6,164.6 L486.4,153.9 L489.2,137.4 L492,129.6 L494.8,125.6 L497.6,129.2 L500.4,137.1 L503.1,145.1 L505.9,151 L508.7,151.8 L511.5,149.5 L514.3,144 L517.1,134.3 L519.9,118.1 L522.6,110.6 L525.4,116.1 L528.2,132.3 L531,145.4 L533.8,153.9 L536.6,156.4 L539.4,155.5 L542.1,147.6 L544.9,136.9 L547.7,126.2 L550.5,120.8 L553.3,124.5 L556.1,135.4 L558.9,149.1 L561.6,159.2 L564.4,162.7 L567.2,159.2 L570,150 L572.8,136.7 L575.6,123.7 L578.4,118 L581.1,123.7 L583.9,136.3 L586.7,148.3 L589.5,156.1 L592.3,159.6 L595.1,156.9 L597.9,149.2 L600.6,134.7 L603.4,115.1 L606.2,106.3 L609,113.7 L611.8,132.8 L614.6,152.8 L617.4,166.2 L620.2,170.8 L622.9,167.7 L625.7,154.5 L628.5,133.6 L631.3,106.9 L634.1,95.4 L636.9,106.5 L639.7,132.3 L642.4,150.1 L645.2,160.6 L648,164.2 L650.8,160.4 L653.6,150.2 L656.4,134 L659.2,113.3 L661.9,104.1 L664.7,112.4 L667.5,132.5 L670.3,149.4"/><path d="M391.7,148.6 L394.5,156.9 L397.3,157.6 L400.1,150.9 L402.8,138.6 L405.6,117.1 L408.4,96.5 L411.2,94.9 L414,112.8 L416.8,135.5 L419.6,145.8 L422.3,151.4 L425.1,152.2 L427.9,146.9 L430.7,137 L433.5,123.2 L436.3,111.8 L439.1,110.1 L441.8,120 L444.6,134.9 L447.4,146.8 L450.2,153.4 L453,153.4 L455.8,148.4 L458.6,138.3 L461.4,119.6 L464.1,103.8 L466.9,101.9 L469.7,115.8 L472.5,133.3 L475.3,140.1 L478.1,143.4 L480.9,143.9 L483.6,141.3 L486.4,135.4 L489.2,125.7 L492,118 L494.8,116.7 L497.6,123.9 L500.4,135.1 L503.1,146.1 L505.9,151.8 L508.7,151.4 L511.5,146.4 L514.3,136.8 L517.1,116.4 L519.9,94.6 L522.6,92.7 L525.4,110.8 L528.2,135.3 L531,148 L533.8,155.2 L536.6,156.3 L539.4,150.4 L542.1,138.8 L544.9,124.6 L547.7,113.6 L550.5,113.6 L553.3,122 L556.1,133.7 L558.9,141.8 L561.6,145.9 L564.4,146.9 L567.2,143.3 L570,136.1 L572.8,113.2 L575.6,88.8 L578.4,86.2 L581.1,107.9 L583.9,134.9 L586.7,141.9 L589.5,146.5 L592.3,147 L595.1,143.7 L597.9,135.8 L600.6,118.1 L603.4,101.2 L606.2,99.1 L609,114.4 L611.8,132.9 L614.6,141.3 L617.4,145.4 L620.2,145.6 L622.9,142.1 L625.7,135.8 L628.5,118.2 L631.3,100.4 L634.1,98.2 L636.9,113.8 L639.7,134.6 L642.4,148.1 L645.2,155.3 L648,155.8 L650.8,149.9 L653.6,138.5 L656.4,124 L659.2,112.8 L661.9,111.1 L664.7,120.8 L667.5,134.3 L670.3,145.4"/></g>
<path d="M391.6,154.3 L392.2,155.8 L393,157.8 L393.8,159.5 L394.5,160.9 L395.2,161.6 L395.9,162.1 L396.6,160.6 L397.2,159.7 L397.9,158.8 L398.7,157.2 L399.5,156.1 L400.3,153.9 L401.2,152.9 L402,151.4 L402.8,150.1 L403.4,148.5 L403.9,146.2 L404.5,144.1 L405.2,141.2 L406.1,138.4 L406.9,134.8 L407.7,130.8 L408.6,128 L409.4,124.2 L410.3,121.8 L411.1,118.6 L411.9,116.7 L412.5,117 L413,116.8 L413.5,117.7 L414,119.9 L414.6,121.7 L415.2,123.6 L415.9,127.5 L416.8,130.9 L417.6,134.7 L418.4,137.7 L419.3,141.8 L420.1,144.6 L421,147.8 L421.8,150.3 L422.6,151.6 L423.3,152.6 L423.9,152.5 L424.5,152.2 L425.2,151.6 L425.9,150.8 L426.7,149.4 L427.5,146.1 L428.4,143.2 L429.2,139.2 L430,135.5 L430.8,132.1 L431.6,127.9 L432.4,123.8 L433.3,120 L434.1,116.6 L434.9,112.5 L435.8,110.2 L436.6,106.8 L437.4,106 L438.2,105.4 L439,104.4 L439.7,105.6 L440.3,106.3 L441,108.3 L441.7,110.3 L442.4,113.7 L443.1,117.7 L443.9,123 L444.8,127.3 L445.6,133.2 L446.4,138.8 L447.3,144.5 L448.1,149.1 L448.9,154.1 L449.8,158.8 L450.6,162.8 L451.4,164.7 L452.3,167.1 L453,168.6 L453.6,169.9 L454.1,170 L454.7,171.1 L455.4,169.7 L456.3,168.8 L457.1,167.5 L457.9,166.2 L458.8,163.6 L459.6,161.2 L460.4,156.5 L461.3,151 L462.1,145.8 L462.9,140.7 L463.7,135.5 L464.5,130.8 L465.3,126.7 L466.1,122.7 L467,118.6 L468,116.7 L469,116.9 L469.9,116.4 L470.6,116.7 L471.3,117.6 L471.9,119.8 L472.6,122.8 L473.3,125.9 L474.1,129.5 L474.9,133 L475.7,137.9 L476.5,140.6 L477.3,144.3 L478.2,147.4 L479,148.9 L479.7,151.3 L480.4,152.7 L481.1,152.7 L481.9,152 L482.6,149.6 L483.4,147.6 L484.1,144.5 L484.9,141.7 L485.6,137.6 L486.4,134.1 L487.2,130.8 L488,126.7 L488.8,122.4 L489.7,117.3 L490.5,113.1 L491.3,109.5 L492,105.7 L492.7,103 L493.3,101.7 L493.8,101 L494.3,101.5 L494.9,102.9 L495.6,104.5 L496.3,106.6 L497.1,110.2 L497.9,114.7 L498.7,119.3 L499.5,124.3 L500.4,129.8 L501.2,134.9 L502,139.4 L502.9,144.9 L503.7,149.6 L504.6,153.8 L505.4,157.7 L506.2,161.1 L506.9,163.3 L507.5,165.6 L508.1,166.4 L508.8,166.8 L509.5,166.5 L510.3,165.2 L511.1,162.9 L511.9,161 L512.7,157.7 L513.5,154.1 L514.4,149.5 L515.2,146 L516,141.8 L516.9,138.3 L517.7,134.5 L518.5,131.5 L519.3,128.3 L520.1,125.8 L520.9,123 L521.8,121.2 L522.6,119.9 L523.3,119.4 L523.9,119 L524.6,120 L525.3,121.2 L526,122.6 L526.7,125.1 L527.5,128 L528.4,131 L529.2,134.5 L530,137.6 L530.9,141.7 L531.7,144.8 L532.5,147 L533.3,149.5 L534.1,151.2 L534.8,152.3 L535.4,152.3 L536.1,152.9 L536.8,152.1 L537.5,151.1 L538.3,149.2 L539.1,147 L540,144.2 L540.7,141.2 L541.2,139 L541.6,136 L542.1,133.2 L542.7,129 L543.4,124 L544.1,118.8 L544.9,115.3 L545.7,111.8 L546.6,108.3 L547.5,106.5 L548.4,104.6 L549.3,103.9 L550,104.5 L550.7,106.2 L551.3,108.5 L552,111.9 L552.7,115.9 L553.4,121.1 L554.2,126.2 L555.1,132.2 L556,137.7 L556.8,142.4 L557.6,148 L558.5,151.5 L559.5,155.9 L560.6,159.4 L561.6,162.2 L562.5,163.5 L563.4,164.9 L564.3,164.6 L565.1,164.2 L565.9,164.1 L566.7,161.9 L567.7,159 L568.7,154.4 L569.8,150 L570.8,145.6 L571.9,140.5 L572.9,135.4 L573.9,131.6 L575,127.5 L576,124.1 L577.1,121.4 L578.1,120.1 L579.1,119.2 L580,119.4 L580.9,120 L581.7,121.2 L582.5,123.9 L583.4,128.3 L584.2,130.9 L585.1,133.8 L586,136.7 L586.9,138.7 L587.7,139.7 L588.5,141.2 L589.4,142.1 L590.4,141.9 L591.4,142 L592.4,141.4 L593.3,140.9 L594.2,140.7 L595.1,138.5 L596.1,136.6 L597,133.3 L598,129.5 L598.9,125.1 L599.8,121.5 L600.7,117 L601.6,113.4 L602.5,110.1 L603.3,108.3 L604,106.1 L604.7,104.9 L605.4,105.1 L606.2,105.5 L607.1,107.8 L607.9,110.7 L608.5,115.9 L608.9,123 L609.5,129.2 L610.2,133.3 L611,138.2 L611.8,142.3 L612.6,147.6 L613.3,152.1 L614.1,155.8 L615,159.7 L615.9,163 L616.8,166.8 L617.8,168.4 L618.8,170.6 L619.7,172 L620.5,173.6 L621.2,174.6 L622,174.9 L622.9,173.5 L623.9,172.4 L624.9,169.5 L625.8,166.5 L626.8,162.4 L627.7,158.2 L628.6,154 L629.5,149.2 L630.4,144.7 L631.3,140.9 L632.3,136.9 L633.3,133 L634.3,130.8 L635.4,129.1 L636.3,128.2 L637.1,127.1 L637.8,126.1 L638.5,125.7 L639.3,127.6 L640,129.1 L640.8,131.3 L641.6,133.7 L642.3,136.1 L643.1,138 L643.8,139.8 L644.5,140.2 L645.3,140.6 L646.2,141.1 L647.2,140 L648.1,138.9 L648.9,137.4 L649.6,133.9 L650.3,131.5 L651.1,127.9 L651.8,123.7 L652.6,119.7 L653.4,116.6 L654.1,113 L654.9,108.1 L655.8,103.2 L656.7,97.5 L657.6,92.7 L658.4,89.2 L659.1,86.7 L659.8,86 L660.6,86.3 L661.3,86.7 L662.1,89 L662.9,92.9 L663.6,97.1 L664.4,101.9 L665.1,106.9 L665.9,113.8 L666.6,120.4 L667.4,126.5 L668.2,132.3 L668.9,137.5 L669.6,144.7 L670.3,150.4 L670.7,155" fill="none" stroke="#2f6b97" stroke-width="1.85" stroke-linejoin="round" stroke-linecap="round"/>
<path d="M377.7,66.3 L377.7,180.5 L685,180.5" fill="none" stroke="#6f6f6f" stroke-width="1.1"/>
<text x="374.6" y="84.3" font-size="7.6" text-anchor="end" fill="#4d4d4d" >20000</text>
<line x1="375.4" y1="81.7" x2="377.8" y2="81.7" stroke="#6f6f6f" stroke-width="0.9" />
<text x="374.6" y="118.1" font-size="7.6" text-anchor="end" fill="#4d4d4d" >15000</text>
<line x1="375.4" y1="115.5" x2="377.8" y2="115.5" stroke="#6f6f6f" stroke-width="0.9" />
<text x="374.6" y="152" font-size="7.6" text-anchor="end" fill="#4d4d4d" >10000</text>
<line x1="375.4" y1="149.4" x2="377.8" y2="149.4" stroke="#6f6f6f" stroke-width="0.9" />
<line x1="391.7" y1="180.4" x2="391.7" y2="182.6" stroke="#6f6f6f" stroke-width="0.9" />
<text x="391.7" y="188.6" font-size="7.6" text-anchor="middle" fill="#4d4d4d" >0.0</text>
<line x1="461.35" y1="180.4" x2="461.35" y2="182.6" stroke="#6f6f6f" stroke-width="0.9" />
<text x="461.35" y="188.6" font-size="7.6" text-anchor="middle" fill="#4d4d4d" >2.5</text>
<line x1="531" y1="180.4" x2="531" y2="182.6" stroke="#6f6f6f" stroke-width="0.9" />
<text x="531" y="188.6" font-size="7.6" text-anchor="middle" fill="#4d4d4d" >5.0</text>
<line x1="600.65" y1="180.4" x2="600.65" y2="182.6" stroke="#6f6f6f" stroke-width="0.9" />
<text x="600.65" y="188.6" font-size="7.6" text-anchor="middle" fill="#4d4d4d" >7.5</text>
<line x1="670.3" y1="180.4" x2="670.3" y2="182.6" stroke="#6f6f6f" stroke-width="0.9" />
<text x="670.3" y="188.6" font-size="7.6" text-anchor="middle" fill="#4d4d4d" >10.0</text>
<g fill="none" stroke="#34b376" stroke-width="0.6" stroke-opacity="0.13" stroke-linejoin="round"><path d="M391.7,299.9 L393,310.6 L394.2,312.8 L395.5,314.1 L396.7,305.1 L398,301.4 L399.2,305.7 L400.5,301.8 L401.7,299.8 L403,295.1 L404.2,282.4 L405.5,283.3 L406.7,283.8 L408,278.3 L409.3,274.8 L410.5,274.9 L411.8,274.4 L413,279.9 L414.3,282.5 L415.5,287.3 L416.8,290.8 L418,295.5 L419.3,298.6 L420.5,298.2 L421.8,302.7 L423,303.3 L424.3,315.4 L425.5,318.5 L426.8,314 L428.1,307.5 L429.3,302.1 L430.6,297.2 L431.8,286.5 L433.1,285.3 L434.3,272.7 L435.6,263.7 L436.8,258.1 L438.1,257.5 L439.3,257.7 L440.6,264.3 L441.8,267.6 L443.1,276.7 L444.4,284.7 L445.6,288.1 L446.9,302.2 L448.1,305.6 L449.4,306.3 L450.6,314.3 L451.9,314.9 L453.1,322.4 L454.4,316.2 L455.6,318.2 L456.9,307.5 L458.1,305.5 L459.4,296 L460.7,286.1 L461.9,275.8 L463.2,265.2 L464.4,263.2 L465.7,257.8 L466.9,255.3 L468.2,258.1 L469.4,266.1 L470.7,272.6 L471.9,282.5 L473.2,294.4 L474.4,294.6 L475.7,306.7 L477,313.5 L478.2,312.9 L479.5,321 L480.7,327.5 L482,332 L483.2,328.9 L484.5,312.9 L485.7,309.5 L487,305.9 L488.2,297.4 L489.5,292.8 L490.7,273.2 L492,271.1 L493.2,256.2 L494.5,256.8 L495.8,259 L497,259.3 L498.3,264.1 L499.5,278.9 L500.8,291.3 L502,306.9 L503.3,307.5 L504.5,313.2 L505.8,322.5 L507,325.3 L508.3,310.4 L509.5,309.1 L510.8,308.4 L512.1,302.7 L513.3,297.4 L514.6,302.6 L515.8,294.9 L517.1,286.4 L518.3,279.7 L519.6,279.5 L520.8,279.8 L522.1,274.7 L523.3,271.6 L524.6,278.9 L525.8,284.2 L527.1,287.4 L528.4,288.8 L529.6,293.4 L530.9,298.7 L532.1,295.1 L533.4,300.2 L534.6,302.2 L535.9,304.3 L537.1,307.6 L538.4,301.7 L539.6,302.5 L540.9,299.8 L542.1,298.9 L543.4,297.2 L544.7,295.2 L545.9,288.5 L547.2,289.9 L548.4,286.3 L549.7,278.3 L550.9,278.4 L552.2,278.9 L553.4,279.2 L554.7,286 L555.9,291.7 L557.2,289.9 L558.4,291.9 L559.7,297.9 L560.9,303.7 L562.2,307.2 L563.5,319.5 L564.7,323.6 L566,326.8 L567.2,325.6 L568.5,326.4 L569.7,319.7 L571,303.9 L572.2,305.2 L573.5,294.6 L574.7,277.6 L576,268.7 L577.2,264.9 L578.5,257.9 L579.8,255.6 L581,258.7 L582.3,268 L583.5,271.3 L584.8,284.9 L586,290.5 L587.3,301.3 L588.5,310.6 L589.8,316.7 L591,319.8 L592.3,318.5 L593.5,318.5 L594.8,322.1 L596.1,315.1 L597.3,316.1 L598.6,305.9 L599.8,303.5 L601.1,297.1 L602.3,286.4 L603.6,274.3 L604.8,271.5 L606.1,262.4 L607.3,258.3 L608.6,261.3 L609.8,259.3 L611.1,272.2 L612.4,277.1 L613.6,285.1 L614.9,301.2 L616.1,305.5 L617.4,309.4 L618.6,315.6 L619.9,328 L621.1,330.1 L622.4,333 L623.6,324.9 L624.9,320.7 L626.1,315.9 L627.4,309.8 L628.6,300.5 L629.9,288 L631.2,274.5 L632.4,263.3 L633.7,252.4 L634.9,249.1 L636.2,249.4 L637.4,253.9 L638.7,265.1 L639.9,268.3 L641.2,275.3 L642.4,289.9 L643.7,299.3 L644.9,307.9 L646.2,318.5 L647.5,323.2 L648.7,320.7 L650,325.3 L651.2,325.6 L652.5,327.5 L653.7,322.9 L655,313.3 L656.2,304.5 L657.5,297.6 L658.7,286.4 L660,274.2 L661.2,260.5 L662.5,260.1 L663.8,252.2 L665,258.8 L666.3,260.6 L667.5,268.3 L668.8,277.1 L670,289.2"/><path d="M391.7,313 L393,312.8 L394.2,311.2 L395.5,321.2 L396.7,310.5 L398,308 L399.2,309.1 L400.5,305.9 L401.7,301.9 L403,296.4 L404.2,291.9 L405.5,290.9 L406.7,278.1 L408,281 L409.3,279.7 L410.5,278 L411.8,275.7 L413,282.8 L414.3,283.5 L415.5,292.8 L416.8,293.3 L418,298.3 L419.3,302.6 L420.5,301.8 L421.8,311.1 L423,309.7 L424.3,318.9 L425.5,319.5 L426.8,321.9 L428.1,311.7 L429.3,306.2 L430.6,299.8 L431.8,296.3 L433.1,287.1 L434.3,281.2 L435.6,272.5 L436.8,270.8 L438.1,262.2 L439.3,264.8 L440.6,267.7 L441.8,269.8 L443.1,280.8 L444.4,292.5 L445.6,296.1 L446.9,298.4 L448.1,308.2 L449.4,313.2 L450.6,321.3 L451.9,324.6 L453.1,323.2 L454.4,323.3 L455.6,323.1 L456.9,316.4 L458.1,312.2 L459.4,305.6 L460.7,298 L461.9,290.7 L463.2,281.3 L464.4,266 L465.7,262.3 L466.9,253.5 L468.2,261.3 L469.4,264.3 L470.7,277.4 L471.9,288.1 L473.2,297.2 L474.4,298.6 L475.7,310.8 L477,314.2 L478.2,317.1 L479.5,323.5 L480.7,318 L482,313.7 L483.2,317.4 L484.5,313.4 L485.7,308.6 L487,309 L488.2,297.2 L489.5,292.1 L490.7,283.3 L492,275.4 L493.2,271.8 L494.5,275 L495.8,268.1 L497,277.5 L498.3,278.5 L499.5,280.5 L500.8,289.4 L502,300 L503.3,307.4 L504.5,311.4 L505.8,310.8 L507,314.2 L508.3,321.8 L509.5,318.1 L510.8,317.4 L512.1,317.2 L513.3,317.2 L514.6,308.2 L515.8,299.6 L517.1,292.9 L518.3,282.6 L519.6,275.4 L520.8,265.8 L522.1,263.6 L523.3,263.9 L524.6,263.6 L525.8,272.8 L527.1,278.6 L528.4,280.3 L529.6,292.1 L530.9,296.6 L532.1,306.9 L533.4,309.6 L534.6,313.7 L535.9,332.6 L537.1,331.8 L538.4,336.5 L539.6,326.2 L540.9,319.4 L542.1,318.4 L543.4,305.3 L544.7,302.2 L545.9,290 L547.2,276.8 L548.4,267.2 L549.7,262.1 L550.9,253.5 L552.2,254.1 L553.4,257.7 L554.7,266 L555.9,272.7 L557.2,288.2 L558.4,301.1 L559.7,309.9 L560.9,325.4 L562.2,325.3 L563.5,327.7 L564.7,304.6 L566,307.8 L567.2,304.1 L568.5,306.3 L569.7,300.6 L571,304.6 L572.2,297.3 L573.5,291.3 L574.7,284.3 L576,284.7 L577.2,277.6 L578.5,272 L579.8,272.8 L581,277.7 L582.3,274.6 L583.5,282.9 L584.8,292.8 L586,296.7 L587.3,295.3 L588.5,302.3 L589.8,306.1 L591,302.3 L592.3,316.5 L593.5,313.6 L594.8,313 L596.1,317.2 L597.3,310.2 L598.6,306.7 L599.8,303.8 L601.1,304.8 L602.3,290.7 L603.6,281.5 L604.8,275.1 L606.1,272.4 L607.3,265.6 L608.6,268.4 L609.8,272.4 L611.1,276.3 L612.4,282.7 L613.6,290.1 L614.9,294.7 L616.1,301 L617.4,307.5 L618.6,305.2 L619.9,298.3 L621.1,298.6 L622.4,301.8 L623.6,301.2 L624.9,299.8 L626.1,302.7 L627.4,302.8 L628.6,295.7 L629.9,295 L631.2,293.2 L632.4,283.5 L633.7,283.3 L634.9,283.2 L636.2,281.6 L637.4,282.6 L638.7,285.9 L639.9,288.3 L641.2,294 L642.4,293.4 L643.7,297.2 L644.9,298 L646.2,297.8 L647.5,314 L648.7,310 L650,313.8 L651.2,309.6 L652.5,308.2 L653.7,307.5 L655,304.4 L656.2,302.2 L657.5,300.1 L658.7,290.3 L660,285.2 L661.2,279.8 L662.5,274.2 L663.8,275.2 L665,271.1 L666.3,272.8 L667.5,277.2 L668.8,287.5 L670,294.5"/><path d="M391.7,286.7 L393,294.6 L394.2,298.7 L395.5,296.8 L396.7,291.9 L398,290.9 L399.2,294.6 L400.5,294.3 L401.7,286.6 L403,291.1 L404.2,287.2 L405.5,283.1 L406.7,272.6 L408,264.6 L409.3,262.6 L410.5,257.2 L411.8,251.9 L413,258.9 L414.3,263.9 L415.5,271.4 L416.8,273 L418,278.8 L419.3,282.1 L420.5,288.5 L421.8,293.9 L423,297.4 L424.3,298.9 L425.5,300.5 L426.8,313.5 L428.1,317.1 L429.3,313.5 L430.6,307.8 L431.8,310.1 L433.1,291.3 L434.3,287.5 L435.6,277 L436.8,265.8 L438.1,258.2 L439.3,246.7 L440.6,244.8 L441.8,250.8 L443.1,258.6 L444.4,269 L445.6,276.5 L446.9,288.4 L448.1,292.4 L449.4,303.6 L450.6,309 L451.9,310.8 L453.1,308.5 L454.4,319.2 L455.6,322.3 L456.9,313.8 L458.1,311.3 L459.4,300.1 L460.7,291.6 L461.9,282.7 L463.2,272.7 L464.4,261.2 L465.7,248.2 L466.9,247.9 L468.2,242.4 L469.4,238.8 L470.7,248.4 L471.9,249.1 L473.2,268.4 L474.4,279.1 L475.7,283.5 L477,294 L478.2,305.3 L479.5,304.5 L480.7,316 L482,316.4 L483.2,313.9 L484.5,313.8 L485.7,308.7 L487,309.1 L488.2,303.8 L489.5,297.1 L490.7,284 L492,270.9 L493.2,259.5 L494.5,251.1 L495.8,247.8 L497,239.6 L498.3,245.8 L499.5,248.7 L500.8,263 L502,266.3 L503.3,282.7 L504.5,291.2 L505.8,301.3 L507,308 L508.3,308.5 L509.5,312.6 L510.8,316.2 L512.1,311.6 L513.3,307.7 L514.6,308.5 L515.8,302.8 L517.1,290.7 L518.3,283.5 L519.6,273.3 L520.8,258.2 L522.1,255.3 L523.3,245 L524.6,241 L525.8,242.9 L527.1,250.3 L528.4,261.6 L529.6,266.8 L530.9,281.6 L532.1,289.5 L533.4,297.6 L534.6,307.6 L535.9,316.1 L537.1,317 L538.4,303.7 L539.6,307.8 L540.9,304.2 L542.1,294.6 L543.4,296.5 L544.7,290.5 L545.9,285.3 L547.2,276.4 L548.4,272.2 L549.7,264.8 L550.9,252.8 L552.2,250.1 L553.4,247.6 L554.7,248.2 L555.9,256.5 L557.2,266 L558.4,271.7 L559.7,284 L560.9,286.5 L562.2,297.2 L563.5,296.5 L564.7,300.3 L566,302.6 L567.2,301.9 L568.5,294 L569.7,298 L571,298.7 L572.2,295.1 L573.5,293.8 L574.7,283.5 L576,271.7 L577.2,266.2 L578.5,262.2 L579.8,259.6 L581,251.7 L582.3,254.5 L583.5,263.8 L584.8,266.4 L586,268.3 L587.3,273.7 L588.5,279.4 L589.8,285.4 L591,290.5 L592.3,289.5 L593.5,282.6 L594.8,286.5 L596.1,286.8 L597.3,287.9 L598.6,286.1 L599.8,288.1 L601.1,281 L602.3,281.2 L603.6,275.6 L604.8,275.2 L606.1,275.3 L607.3,274 L608.6,266.1 L609.8,269.3 L611.1,267 L612.4,270.2 L613.6,270.3 L614.9,275.1 L616.1,279.2 L617.4,280.9 L618.6,283.3 L619.9,286.8 L621.1,311.5 L622.4,314.2 L623.6,313.4 L624.9,309.6 L626.1,310.3 L627.4,304.5 L628.6,296.1 L629.9,295.2 L631.2,282.8 L632.4,277.1 L633.7,267.3 L634.9,258.1 L636.2,251.2 L637.4,249.5 L638.7,251.2 L639.9,250.7 L641.2,260.5 L642.4,267.4 L643.7,278.6 L644.9,284.1 L646.2,292.4 L647.5,300.5 L648.7,302.2 L650,320.2 L651.2,325.1 L652.5,327.5 L653.7,321.4 L655,316.6 L656.2,314 L657.5,305.1 L658.7,290.1 L660,276.7 L661.2,266.3 L662.5,248.7 L663.8,240.6 L665,234.5 L666.3,225.8 L667.5,236.3 L668.8,246.9 L670,257.1"/><path d="M391.7,290.5 L393,296.2 L394.2,303.2 L395.5,308.2 L396.7,311.8 L398,303.8 L399.2,299.5 L400.5,297 L401.7,298.4 L403,286.5 L404.2,274.8 L405.5,271.7 L406.7,263.5 L408,260.1 L409.3,250.9 L410.5,249.7 L411.8,252.9 L413,256 L414.3,258.6 L415.5,265.6 L416.8,277.4 L418,277.3 L419.3,287.6 L420.5,289.9 L421.8,297.6 L423,299.9 L424.3,301.5 L425.5,306.4 L426.8,308.4 L428.1,303.8 L429.3,300.3 L430.6,291.4 L431.8,276.4 L433.1,269.7 L434.3,257.8 L435.6,255 L436.8,244.8 L438.1,244.4 L439.3,246.5 L440.6,248.1 L441.8,251.3 L443.1,262.7 L444.4,271.7 L445.6,284.2 L446.9,292.5 L448.1,302.1 L449.4,305.6 L450.6,312.1 L451.9,307.7 L453.1,314.6 L454.4,308 L455.6,306.7 L456.9,298.9 L458.1,288.6 L459.4,279.5 L460.7,269.3 L461.9,258.4 L463.2,250.6 L464.4,245.3 L465.7,238.3 L466.9,241.7 L468.2,247.5 L469.4,256.4 L470.7,264.4 L471.9,281.1 L473.2,285.8 L474.4,299.1 L475.7,306.4 L477,305.7 L478.2,313.1 L479.5,307.5 L480.7,301.4 L482,296.9 L483.2,296.7 L484.5,290 L485.7,284 L487,277.4 L488.2,271.1 L489.5,264.5 L490.7,257.9 L492,256.9 L493.2,256.1 L494.5,253.7 L495.8,260.7 L497,262.5 L498.3,268.3 L499.5,277.1 L500.8,282.3 L502,289.7 L503.3,293.3 L504.5,302.3 L505.8,299.9 L507,301.6 L508.3,312.9 L509.5,307 L510.8,305.5 L512.1,300.9 L513.3,292.1 L514.6,280.1 L515.8,269.6 L517.1,258.3 L518.3,249.2 L519.6,248.4 L520.8,238.1 L522.1,241 L523.3,241.2 L524.6,255.6 L525.8,265.3 L527.1,279.3 L528.4,284.9 L529.6,295.3 L530.9,298.9 L532.1,304.8 L533.4,310.5 L534.6,312.2 L535.9,316 L537.1,308.4 L538.4,304.6 L539.6,293.7 L540.9,292.1 L542.1,284.1 L543.4,272.3 L544.7,266.4 L545.9,255.7 L547.2,251.3 L548.4,249.2 L549.7,247.3 L550.9,254.9 L552.2,264.3 L553.4,277.4 L554.7,280.4 L555.9,282.5 L557.2,295.5 L558.4,302.4 L559.7,302.7 L560.9,306.2 L562.2,305 L563.5,305.6 L564.7,292.8 L566,295.6 L567.2,292.5 L568.5,283.6 L569.7,276.7 L571,272.4 L572.2,258.6 L573.5,256.5 L574.7,253.7 L576,250.3 L577.2,249.6 L578.5,251.9 L579.8,259.6 L581,263.3 L582.3,272.7 L583.5,288.4 L584.8,284.2 L586,289 L587.3,296.3 L588.5,293.4 L589.8,298.3 L591,298.1 L592.3,303.5 L593.5,303.3 L594.8,295 L596.1,292.4 L597.3,281 L598.6,271.8 L599.8,261.7 L601.1,252.2 L602.3,248.5 L603.6,242.6 L604.8,241.5 L606.1,249.5 L607.3,258.3 L608.6,271.8 L609.8,278.3 L611.1,285.3 L612.4,291 L613.6,296.7 L614.9,306.8 L616.1,305.9 L617.4,308.9 L618.6,305.9 L619.9,308.3 L621.1,307.2 L622.4,300.3 L623.6,297.2 L624.9,286.5 L626.1,276.2 L627.4,265 L628.6,258 L629.9,250.1 L631.2,238.8 L632.4,239.5 L633.7,244.9 L634.9,257.3 L636.2,264.8 L637.4,269.7 L638.7,281.7 L639.9,291.8 L641.2,302.4 L642.4,301.1 L643.7,302.3 L644.9,306.1 L646.2,312.9 L647.5,302.2 L648.7,292.9 L650,284 L651.2,283.1 L652.5,276.5 L653.7,272.5 L655,260.8 L656.2,261.4 L657.5,250.1 L658.7,254.9 L660,248.5 L661.2,249.7 L662.5,254.6 L663.8,259.6 L665,271.2 L666.3,273.8 L667.5,281.5 L668.8,285.9 L670,291.1"/><path d="M391.7,306.1 L393,301.4 L394.2,310 L395.5,307.5 L396.7,310.8 L398,310.2 L399.2,305.7 L400.5,304.1 L401.7,295.4 L403,287.8 L404.2,280.9 L405.5,271.1 L406.7,267.2 L408,262.9 L409.3,259.8 L410.5,268.7 L411.8,269.5 L413,273.3 L414.3,283.3 L415.5,289.7 L416.8,296.5 L418,296 L419.3,301.2 L420.5,308.5 L421.8,309.4 L423,311.3 L424.3,314.9 L425.5,312.2 L426.8,309.4 L428.1,306.6 L429.3,305.3 L430.6,297.7 L431.8,286.5 L433.1,277.7 L434.3,270.2 L435.6,264.6 L436.8,257.6 L438.1,258.7 L439.3,260.6 L440.6,268.5 L441.8,280 L443.1,280.1 L444.4,290.3 L445.6,302 L446.9,302.9 L448.1,307.8 L449.4,310.3 L450.6,318.5 L451.9,316.5 L453.1,312.1 L454.4,313.9 L455.6,309.6 L456.9,307.8 L458.1,301.3 L459.4,292.3 L460.7,284.6 L461.9,278.7 L463.2,266.6 L464.4,262 L465.7,258.5 L466.9,263 L468.2,268.7 L469.4,278.4 L470.7,285.5 L471.9,291.3 L473.2,301.7 L474.4,302.4 L475.7,308.4 L477,313.6 L478.2,315.6 L479.5,329 L480.7,327 L482,316.6 L483.2,311.6 L484.5,304.3 L485.7,294.5 L487,287 L488.2,277.9 L489.5,263.1 L490.7,258.9 L492,250.2 L493.2,250.8 L494.5,254.3 L495.8,259.3 L497,265 L498.3,280.9 L499.5,290.7 L500.8,303.1 L502,306.8 L503.3,318 L504.5,320.9 L505.8,325.9 L507,299.4 L508.3,304.5 L509.5,302.9 L510.8,296.3 L512.1,297.6 L513.3,294.6 L514.6,290.6 L515.8,284.8 L517.1,279.2 L518.3,273.3 L519.6,276.3 L520.8,271.7 L522.1,276.4 L523.3,274.2 L524.6,279.5 L525.8,285.4 L527.1,289.6 L528.4,291 L529.6,295.7 L530.9,298.1 L532.1,297.8 L533.4,299.1 L534.6,307.4 L535.9,312.7 L537.1,315.4 L538.4,312.7 L539.6,304.9 L540.9,304.4 L542.1,292.9 L543.4,286.7 L544.7,273.3 L545.9,272.1 L547.2,265.8 L548.4,256 L549.7,258.7 L550.9,262.3 L552.2,270.6 L553.4,275.5 L554.7,284.4 L555.9,292.8 L557.2,296.3 L558.4,300.2 L559.7,305 L560.9,312.7 L562.2,314 L563.5,320.8 L564.7,318.9 L566,315.1 L567.2,312.5 L568.5,307.9 L569.7,294.9 L571,288 L572.2,280.4 L573.5,262.7 L574.7,258.6 L576,257 L577.2,259.7 L578.5,266.6 L579.8,272.9 L581,278.8 L582.3,293.1 L583.5,295.4 L584.8,299.7 L586,311.6 L587.3,314.4 L588.5,323.3 L589.8,321.4 L591,317.3 L592.3,314.4 L593.5,316.3 L594.8,315 L596.1,303.2 L597.3,300.1 L598.6,292.2 L599.8,284.4 L601.1,277.4 L602.3,267.4 L603.6,263.4 L604.8,260.1 L606.1,264 L607.3,266.5 L608.6,271.2 L609.8,275 L611.1,283.5 L612.4,289.8 L613.6,297.9 L614.9,302.3 L616.1,307 L617.4,313.3 L618.6,314.6 L619.9,307.1 L621.1,315 L622.4,309.4 L623.6,310.3 L624.9,300.1 L626.1,293 L627.4,286.9 L628.6,271.1 L629.9,265.9 L631.2,258.2 L632.4,256 L633.7,250.3 L634.9,263.8 L636.2,263.6 L637.4,272.1 L638.7,282 L639.9,289 L641.2,299.5 L642.4,309.2 L643.7,313 L644.9,310.1 L646.2,313.5 L647.5,306.4 L648.7,302.7 L650,304.2 L651.2,299.4 L652.5,296.9 L653.7,292.1 L655,286.4 L656.2,273.6 L657.5,270 L658.7,266.7 L660,262.1 L661.2,271.1 L662.5,268.7 L663.8,274.4 L665,277.8 L666.3,285.3 L667.5,292.7 L668.8,297.5 L670,301.1"/><path d="M391.7,291.1 L393,294.9 L394.2,295.1 L395.5,297.9 L396.7,311.4 L398,308 L399.2,304.7 L400.5,306 L401.7,299.1 L403,295.3 L404.2,287.5 L405.5,277.6 L406.7,265.1 L408,259.6 L409.3,260.9 L410.5,260.5 L411.8,259 L413,260.9 L414.3,272.9 L415.5,275.6 L416.8,286.9 L418,293 L419.3,299.1 L420.5,305.2 L421.8,309 L423,303.9 L424.3,305.4 L425.5,310.5 L426.8,308.5 L428.1,302.4 L429.3,303.5 L430.6,296.3 L431.8,293.3 L433.1,280.6 L434.3,278.7 L435.6,273.8 L436.8,266.1 L438.1,263 L439.3,256.3 L440.6,260.8 L441.8,264.4 L443.1,278.9 L444.4,280.8 L445.6,282.3 L446.9,282.1 L448.1,291.8 L449.4,291.3 L450.6,303.5 L451.9,301.3 L453.1,309.6 L454.4,309.4 L455.6,309 L456.9,308.2 L458.1,304.5 L459.4,296.2 L460.7,288.5 L461.9,281.4 L463.2,276 L464.4,268.1 L465.7,258.5 L466.9,252.9 L468.2,261.9 L469.4,258.3 L470.7,267.6 L471.9,272.9 L473.2,278.6 L474.4,285.7 L475.7,296.9 L477,298.1 L478.2,306.3 L479.5,310.4 L480.7,313.8 L482,315.1 L483.2,315.1 L484.5,312.1 L485.7,308.2 L487,301.9 L488.2,292.5 L489.5,285 L490.7,275.7 L492,268.9 L493.2,263.5 L494.5,252.7 L495.8,256.5 L497,256.3 L498.3,260.9 L499.5,264.3 L500.8,273 L502,288.1 L503.3,298.1 L504.5,305.8 L505.8,310.1 L507,318.2 L508.3,314.1 L509.5,312.1 L510.8,315 L512.1,308.3 L513.3,311.1 L514.6,305.3 L515.8,304.3 L517.1,290.7 L518.3,282.8 L519.6,275.2 L520.8,264.8 L522.1,259.9 L523.3,254 L524.6,254.5 L525.8,253.6 L527.1,261.6 L528.4,265.3 L529.6,279.5 L530.9,287.5 L532.1,293.1 L533.4,304.9 L534.6,306.4 L535.9,317.3 L537.1,322.2 L538.4,318.3 L539.6,321.4 L540.9,319 L542.1,312.6 L543.4,306.9 L544.7,299.3 L545.9,293.7 L547.2,287.4 L548.4,275.7 L549.7,264.2 L550.9,253.2 L552.2,258 L553.4,253.9 L554.7,257.1 L555.9,265.2 L557.2,274.2 L558.4,283 L559.7,289.7 L560.9,298.7 L562.2,308.6 L563.5,306.3 L564.7,314.9 L566,315.7 L567.2,309.9 L568.5,314.9 L569.7,310.4 L571,307.9 L572.2,306.5 L573.5,292.6 L574.7,289.6 L576,276.4 L577.2,270.1 L578.5,258.1 L579.8,256.5 L581,257.4 L582.3,262.9 L583.5,270.6 L584.8,272.3 L586,279.4 L587.3,291.5 L588.5,296.4 L589.8,299.2 L591,306.5 L592.3,302.3 L593.5,303.2 L594.8,305.9 L596.1,301.3 L597.3,300.8 L598.6,302.2 L599.8,294.3 L601.1,293.6 L602.3,290.8 L603.6,278.1 L604.8,277.8 L606.1,270.6 L607.3,266.2 L608.6,264.7 L609.8,267.8 L611.1,266.1 L612.4,266 L613.6,266.9 L614.9,276.6 L616.1,285.7 L617.4,291.7 L618.6,292.3 L619.9,299.9 L621.1,301.5 L622.4,298.7 L623.6,298.3 L624.9,298.3 L626.1,294.4 L627.4,297.9 L628.6,293.8 L629.9,288.7 L631.2,293.2 L632.4,283.1 L633.7,273.9 L634.9,266.6 L636.2,267.8 L637.4,261.1 L638.7,260.7 L639.9,264.7 L641.2,268.3 L642.4,275 L643.7,279.6 L644.9,287 L646.2,293.9 L647.5,293.6 L648.7,295.6 L650,299 L651.2,300.6 L652.5,298.7 L653.7,300.8 L655,301.4 L656.2,301.6 L657.5,293.8 L658.7,290.3 L660,288.7 L661.2,280.6 L662.5,278.2 L663.8,275.7 L665,272.4 L666.3,268.9 L667.5,270.9 L668.8,268.2 L670,268.6"/><path d="M391.7,304.1 L393,304.7 L394.2,304.2 L395.5,309.2 L396.7,311.7 L398,309.1 L399.2,305.8 L400.5,296.5 L401.7,290.3 L403,277.5 L404.2,271.2 L405.5,255.7 L406.7,248.5 L408,242.3 L409.3,245.1 L410.5,244.9 L411.8,253.5 L413,261.6 L414.3,278.2 L415.5,283.4 L416.8,290.2 L418,301.5 L419.3,306.6 L420.5,312.8 L421.8,312.8 L423,315.1 L424.3,304.2 L425.5,296.4 L426.8,289.5 L428.1,288.7 L429.3,284.6 L430.6,276.1 L431.8,271.6 L433.1,270.5 L434.3,265.9 L435.6,261.8 L436.8,263.8 L438.1,261.3 L439.3,263.2 L440.6,270.9 L441.8,278.9 L443.1,281.7 L444.4,289 L445.6,291 L446.9,292 L448.1,289.1 L449.4,291.4 L450.6,297.3 L451.9,307.1 L453.1,304.3 L454.4,299.5 L455.6,295.2 L456.9,287.1 L458.1,277.4 L459.4,270.1 L460.7,259.5 L461.9,254.8 L463.2,249.1 L464.4,247.6 L465.7,249 L466.9,253.2 L468.2,263.8 L469.4,270.5 L470.7,281.9 L471.9,289.4 L473.2,296.9 L474.4,302.2 L475.7,303.4 L477,311 L478.2,307 L479.5,306 L480.7,301.9 L482,294 L483.2,290.7 L484.5,283.1 L485.7,280.6 L487,273.7 L488.2,262.2 L489.5,255.3 L490.7,252 L492,256.1 L493.2,250.1 L494.5,264.4 L495.8,265.3 L497,279.8 L498.3,286.7 L499.5,293.6 L500.8,298.1 L502,303.8 L503.3,307.3 L504.5,304.2 L505.8,299.7 L507,308.6 L508.3,304.3 L509.5,300 L510.8,297.8 L512.1,289.2 L513.3,278.9 L514.6,272.6 L515.8,258.2 L517.1,252.3 L518.3,252.6 L519.6,245.3 L520.8,255.8 L522.1,260.3 L523.3,265.8 L524.6,276.7 L525.8,284.2 L527.1,295.8 L528.4,299.1 L529.6,304.2 L530.9,305.7 L532.1,311.6 L533.4,311.9 L534.6,306.5 L535.9,303.7 L537.1,306.9 L538.4,298.6 L539.6,290.1 L540.9,281.7 L542.1,272.2 L543.4,264.7 L544.7,260.1 L545.9,255.2 L547.2,254 L548.4,255.1 L549.7,266.8 L550.9,273.9 L552.2,283.6 L553.4,287.9 L554.7,291.8 L555.9,299.2 L557.2,302.9 L558.4,302.4 L559.7,307.1 L560.9,302.9 L562.2,306.1 L563.5,309.7 L564.7,305.5 L566,295.5 L567.2,287.8 L568.5,276.3 L569.7,268.1 L571,258.2 L572.2,249.7 L573.5,247.4 L574.7,247.3 L576,251.1 L577.2,252.2 L578.5,259.7 L579.8,272.5 L581,279.7 L582.3,290.2 L583.5,298.4 L584.8,303.1 L586,305.2 L587.3,307.5 L588.5,307.5 L589.8,308.3 L591,305 L592.3,304.9 L593.5,299.6 L594.8,291.9 L596.1,276 L597.3,260.1 L598.6,250.6 L599.8,248 L601.1,236.5 L602.3,238.8 L603.6,242.7 L604.8,246.3 L606.1,261.4 L607.3,270.7 L608.6,280.4 L609.8,294.1 L611.1,300 L612.4,308.5 L613.6,309.8 L614.9,311 L616.1,315.5 L617.4,314.8 L618.6,297.8 L619.9,295.2 L621.1,292.9 L622.4,285.9 L623.6,277.7 L624.9,279.2 L626.1,268.6 L627.4,261.4 L628.6,254.9 L629.9,249.8 L631.2,258.8 L632.4,266.9 L633.7,269 L634.9,271.7 L636.2,278.6 L637.4,288.3 L638.7,290.6 L639.9,294.1 L641.2,298.6 L642.4,296.8 L643.7,296.6 L644.9,293.7 L646.2,293.2 L647.5,289.3 L648.7,288.8 L650,284.6 L651.2,276 L652.5,268.6 L653.7,262.7 L655,260.4 L656.2,254.1 L657.5,258.2 L658.7,256.4 L660,254.1 L661.2,262.5 L662.5,268.5 L663.8,276.7 L665,285.2 L666.3,286.9 L667.5,290.2 L668.8,299.9 L670,307.4"/><path d="M391.7,295.9 L393,298.5 L394.2,302.2 L395.5,310.6 L396.7,308.9 L398,301.7 L399.2,293.5 L400.5,290.2 L401.7,288.4 L403,282.1 L404.2,274.4 L405.5,267.9 L406.7,263.3 L408,256.7 L409.3,259.7 L410.5,256 L411.8,262.7 L413,263.7 L414.3,274.6 L415.5,286.5 L416.8,289.6 L418,293.8 L419.3,294.8 L420.5,302.4 L421.8,301.2 L423,287.9 L424.3,295.2 L425.5,292.1 L426.8,292.6 L428.1,292 L429.3,291.4 L430.6,286.8 L431.8,279.8 L433.1,276.3 L434.3,270.8 L435.6,268.4 L436.8,265.4 L438.1,267.2 L439.3,267.9 L440.6,274.8 L441.8,276.3 L443.1,278.3 L444.4,279.5 L445.6,287.1 L446.9,286.9 L448.1,293.8 L449.4,290.4 L450.6,292.5 L451.9,308.1 L453.1,307.6 L454.4,306.9 L455.6,298.4 L456.9,290.8 L458.1,284.5 L459.4,274.4 L460.7,270.1 L461.9,256 L463.2,256.8 L464.4,252.4 L465.7,253.9 L466.9,260 L468.2,267.1 L469.4,271.4 L470.7,282.4 L471.9,290.2 L473.2,297 L474.4,303 L475.7,307 L477,311.2 L478.2,311.2 L479.5,306.4 L480.7,303.6 L482,301.3 L483.2,297.6 L484.5,292.4 L485.7,285.9 L487,278.6 L488.2,273.9 L489.5,266.9 L490.7,265 L492,263.8 L493.2,261.3 L494.5,266.4 L495.8,273.1 L497,282.6 L498.3,288.1 L499.5,296 L500.8,303.4 L502,301.3 L503.3,303.8 L504.5,304.7 L505.8,302.6 L507,300.7 L508.3,296.4 L509.5,296.5 L510.8,298.1 L512.1,291.4 L513.3,281.4 L514.6,279.3 L515.8,273.1 L517.1,266.1 L518.3,264 L519.6,264.4 L520.8,260.2 L522.1,262.9 L523.3,268.3 L524.6,275.5 L525.8,282.9 L527.1,286.4 L528.4,288.4 L529.6,288.6 L530.9,294.6 L532.1,299.2 L533.4,297.1 L534.6,311.4 L535.9,305.9 L537.1,306.2 L538.4,299.2 L539.6,297.6 L540.9,284.5 L542.1,273.2 L543.4,266.4 L544.7,260.1 L545.9,252.6 L547.2,253 L548.4,251.9 L549.7,251.9 L550.9,262.5 L552.2,270.6 L553.4,278.7 L554.7,288.3 L555.9,295.1 L557.2,305.9 L558.4,307.2 L559.7,306.2 L560.9,312.8 L562.2,311.1 L563.5,293.8 L564.7,292.5 L566,290 L567.2,286.9 L568.5,284.2 L569.7,276.8 L571,279.5 L572.2,274.3 L573.5,272.6 L574.7,270.9 L576,273.2 L577.2,275.3 L578.5,272.3 L579.8,280.8 L581,284.4 L582.3,285.5 L583.5,289.4 L584.8,296.2 L586,296.6 L587.3,297.8 L588.5,297 L589.8,291.6 L591,314.9 L592.3,310 L593.5,303 L594.8,297.9 L596.1,285.6 L597.3,277.8 L598.6,264.6 L599.8,256.6 L601.1,248.3 L602.3,244.2 L603.6,250.3 L604.8,256.9 L606.1,262 L607.3,269.4 L608.6,282.1 L609.8,290.1 L611.1,298.8 L612.4,306.5 L613.6,308 L614.9,312.7 L616.1,317.4 L617.4,317.1 L618.6,312.6 L619.9,312.4 L621.1,307.5 L622.4,299 L623.6,287.7 L624.9,283.5 L626.1,267.9 L627.4,256.5 L628.6,256.6 L629.9,244.5 L631.2,251 L632.4,253.7 L633.7,257.4 L634.9,266.9 L636.2,276.3 L637.4,286.4 L638.7,296 L639.9,299.6 L641.2,298.6 L642.4,303.1 L643.7,306.1 L644.9,307.1 L646.2,311.6 L647.5,303.8 L648.7,295.3 L650,293.4 L651.2,284.8 L652.5,277.4 L653.7,272.3 L655,263.5 L656.2,258.8 L657.5,249.6 L658.7,254.7 L660,258.4 L661.2,261.1 L662.5,272.5 L663.8,284 L665,289.1 L666.3,303.3 L667.5,305.1 L668.8,308.8 L670,316.3"/><path d="M391.7,306.5 L393,311.6 L394.2,315.8 L395.5,312.5 L396.7,308.9 L398,301 L399.2,303.9 L400.5,300.9 L401.7,286.6 L403,276 L404.2,271.5 L405.5,263.3 L406.7,257.5 L408,250.3 L409.3,250.2 L410.5,255.6 L411.8,256.7 L413,261.1 L414.3,268.9 L415.5,281.1 L416.8,289 L418,299.4 L419.3,303.9 L420.5,306.3 L421.8,303.1 L423,306.1 L424.3,302.1 L425.5,299 L426.8,306.4 L428.1,292.5 L429.3,284.8 L430.6,278.8 L431.8,268.9 L433.1,264.4 L434.3,254.6 L435.6,249.5 L436.8,250.2 L438.1,249.8 L439.3,257.6 L440.6,262.9 L441.8,267.1 L443.1,281.1 L444.4,295.2 L445.6,295 L446.9,304.4 L448.1,309.6 L449.4,310.2 L450.6,311.1 L451.9,304.2 L453.1,294 L454.4,292.4 L455.6,295.8 L456.9,285.8 L458.1,280.8 L459.4,277.1 L460.7,269.6 L461.9,264.5 L463.2,260.9 L464.4,262 L465.7,265.5 L466.9,265.9 L468.2,273.3 L469.4,276.9 L470.7,280.2 L471.9,286 L473.2,287.5 L474.4,292.5 L475.7,297.1 L477,296.4 L478.2,302.1 L479.5,310.4 L480.7,312.8 L482,302.1 L483.2,301.3 L484.5,297 L485.7,287.4 L487,281 L488.2,268.5 L489.5,262.7 L490.7,255.1 L492,253.6 L493.2,247.8 L494.5,255.9 L495.8,259.7 L497,264.3 L498.3,271.8 L499.5,285.5 L500.8,288.1 L502,295.4 L503.3,300.2 L504.5,304.9 L505.8,303.6 L507,287.2 L508.3,287.5 L509.5,281.9 L510.8,283.2 L512.1,292.4 L513.3,289.8 L514.6,286.3 L515.8,280.9 L517.1,278.7 L518.3,275.6 L519.6,271.8 L520.8,275.6 L522.1,273.1 L523.3,275.3 L524.6,278.3 L525.8,283.5 L527.1,283.5 L528.4,282.4 L529.6,291.8 L530.9,292.4 L532.1,290 L533.4,288.2 L534.6,322.2 L535.9,320 L537.1,318.3 L538.4,314.3 L539.6,308.9 L540.9,300.1 L542.1,290.6 L543.4,272.8 L544.7,262.2 L545.9,250.5 L547.2,241.3 L548.4,240.5 L549.7,239.4 L550.9,246.6 L552.2,252.5 L553.4,265.4 L554.7,282.3 L555.9,290.8 L557.2,304.4 L558.4,314 L559.7,321.9 L560.9,328.9 L562.2,330.6 L563.5,303.5 L564.7,303 L566,298.9 L567.2,296.2 L568.5,291.4 L569.7,283.3 L571,279.3 L572.2,280.6 L573.5,264.8 L574.7,256.2 L576,257.7 L577.2,262.4 L578.5,263.9 L579.8,271.7 L581,270.4 L582.3,279.8 L583.5,282.4 L584.8,293 L586,292.3 L587.3,299.3 L588.5,295.8 L589.8,300.7 L591,321.2 L592.3,321.1 L593.5,316 L594.8,311.3 L596.1,301.5 L597.3,294.2 L598.6,278.8 L599.8,264.8 L601.1,252.8 L602.3,239.9 L603.6,231.7 L604.8,230.5 L606.1,236.5 L607.3,248.3 L608.6,256.1 L609.8,268.8 L611.1,283.5 L612.4,295.4 L613.6,305.9 L614.9,318.1 L616.1,317.7 L617.4,320.9 L618.6,302.8 L619.9,296.5 L621.1,296.8 L622.4,294.9 L623.6,294.4 L624.9,288.2 L626.1,278.7 L627.4,274.1 L628.6,265.6 L629.9,262.8 L631.2,258.6 L632.4,259.6 L633.7,258 L634.9,263.2 L636.2,266.5 L637.4,273.1 L638.7,283.7 L639.9,286.1 L641.2,292.1 L642.4,294.3 L643.7,297.9 L644.9,299 L646.2,303.7 L647.5,300.2 L648.7,304.2 L650,299.4 L651.2,296.9 L652.5,292.2 L653.7,283.9 L655,274.8 L656.2,266.9 L657.5,258.8 L658.7,248.2 L660,249.8 L661.2,254.9 L662.5,260.5 L663.8,268.7 L665,278.5 L666.3,286.9 L667.5,286.7 L668.8,296.2 L670,300.1"/><path d="M391.7,305.2 L393,306.9 L394.2,305.5 L395.5,304.4 L396.7,303.4 L398,298.6 L399.2,297.6 L400.5,294.2 L401.7,284.9 L403,284.3 L404.2,280.2 L405.5,277 L406.7,269.5 L408,264.3 L409.3,269.4 L410.5,273.8 L411.8,278.7 L413,283.4 L414.3,287.9 L415.5,292.1 L416.8,298.2 L418,299.6 L419.3,306 L420.5,310.3 L421.8,312.2 L423,310.4 L424.3,316.1 L425.5,308.5 L426.8,307.3 L428.1,307.3 L429.3,301.6 L430.6,296.9 L431.8,284.8 L433.1,280.2 L434.3,273.3 L435.6,270.1 L436.8,267.4 L438.1,267 L439.3,272.5 L440.6,277.5 L441.8,283 L443.1,284.7 L444.4,290.4 L445.6,296.1 L446.9,302.3 L448.1,299.8 L449.4,302.4 L450.6,303.3 L451.9,301 L453.1,300.8 L454.4,297.1 L455.6,299.6 L456.9,295.1 L458.1,295 L459.4,286.6 L460.7,278 L461.9,281.8 L463.2,275.3 L464.4,271.5 L465.7,267 L466.9,278.4 L468.2,281.1 L469.4,286.7 L470.7,290.8 L471.9,294.9 L473.2,299.2 L474.4,305.7 L475.7,307.2 L477,313.8 L478.2,319.1 L479.5,320.4 L480.7,315.4 L482,317.9 L483.2,312.5 L484.5,304.3 L485.7,296.3 L487,285.9 L488.2,273.7 L489.5,266.6 L490.7,264.2 L492,262.5 L493.2,261.7 L494.5,260.9 L495.8,267.8 L497,275.5 L498.3,286 L499.5,295.1 L500.8,302.3 L502,310.2 L503.3,308.3 L504.5,310.9 L505.8,316.5 L507,305.6 L508.3,301.6 L509.5,303.7 L510.8,305.1 L512.1,300 L513.3,293.6 L514.6,293.7 L515.8,289.1 L517.1,281.3 L518.3,276.4 L519.6,273.9 L520.8,271.3 L522.1,274.2 L523.3,271.9 L524.6,276.9 L525.8,283.9 L527.1,290.7 L528.4,294.6 L529.6,293.8 L530.9,297.6 L532.1,299 L533.4,302.9 L534.6,317.4 L535.9,315.7 L537.1,315 L538.4,313.9 L539.6,303.2 L540.9,299.8 L542.1,289.6 L543.4,275.4 L544.7,268.9 L545.9,262.1 L547.2,251.6 L548.4,250.3 L549.7,246.7 L550.9,254.9 L552.2,261.9 L553.4,273.9 L554.7,285.7 L555.9,297.5 L557.2,306.3 L558.4,312.3 L559.7,320 L560.9,322 L562.2,323.2 L563.5,325.9 L564.7,328 L566,325.8 L567.2,314.2 L568.5,307.9 L569.7,299.1 L571,292.4 L572.2,280.4 L573.5,269.4 L574.7,266.7 L576,260.8 L577.2,260.1 L578.5,261.1 L579.8,270.7 L581,274.3 L582.3,286.6 L583.5,287.6 L584.8,298.1 L586,308.6 L587.3,313.1 L588.5,317.3 L589.8,317.1 L591,309.7 L592.3,314.2 L593.5,311.6 L594.8,308.7 L596.1,305.8 L597.3,293.3 L598.6,290.2 L599.8,275.1 L601.1,265.4 L602.3,266.6 L603.6,258.3 L604.8,259.6 L606.1,259 L607.3,266.1 L608.6,270.7 L609.8,282 L611.1,289.1 L612.4,295.8 L613.6,299.7 L614.9,306.1 L616.1,305.4 L617.4,312.4 L618.6,315.2 L619.9,314.5 L621.1,313.7 L622.4,313.5 L623.6,307 L624.9,301.9 L626.1,293.6 L627.4,288 L628.6,280 L629.9,263.1 L631.2,259.9 L632.4,252.3 L633.7,260.8 L634.9,265.7 L636.2,273.2 L637.4,284.1 L638.7,289.9 L639.9,299.9 L641.2,311.9 L642.4,312.9 L643.7,322.5 L644.9,322 L646.2,322.9 L647.5,322 L648.7,322.9 L650,319.5 L651.2,311 L652.5,307.3 L653.7,293.1 L655,285.5 L656.2,272.6 L657.5,264.7 L658.7,260.2 L660,251 L661.2,249.9 L662.5,253.9 L663.8,268.3 L665,279.3 L666.3,286 L667.5,295.8 L668.8,307.5 L670,312.9"/><path d="M391.7,304.6 L393,309.5 L394.2,301.8 L395.5,306.6 L396.7,300.8 L398,296.4 L399.2,291.1 L400.5,294.2 L401.7,288.5 L403,285.1 L404.2,283.3 L405.5,276.3 L406.7,273.4 L408,268.2 L409.3,268.9 L410.5,268.3 L411.8,273 L413,278.5 L414.3,284.4 L415.5,289.3 L416.8,298.3 L418,299 L419.3,305.5 L420.5,302.3 L421.8,304 L423,311.5 L424.3,308.5 L425.5,308.1 L426.8,305.7 L428.1,300.8 L429.3,294.2 L430.6,289.3 L431.8,281.7 L433.1,272.9 L434.3,268.9 L435.6,268.3 L436.8,259.7 L438.1,263.6 L439.3,265 L440.6,272.5 L441.8,276.5 L443.1,284.3 L444.4,295.3 L445.6,303.7 L446.9,306.9 L448.1,311.3 L449.4,312.1 L450.6,310.1 L451.9,308 L453.1,307.5 L454.4,304 L455.6,301.8 L456.9,299.9 L458.1,290.1 L459.4,281.9 L460.7,278.1 L461.9,265.7 L463.2,269.2 L464.4,263.8 L465.7,258.4 L466.9,263.2 L468.2,268.7 L469.4,272.1 L470.7,280.6 L471.9,285.4 L473.2,293.2 L474.4,304.5 L475.7,311.7 L477,318.4 L478.2,324.3 L479.5,320.4 L480.7,319.9 L482,317.2 L483.2,309.7 L484.5,304.2 L485.7,298.9 L487,288.7 L488.2,281.7 L489.5,273.3 L490.7,268.2 L492,263.9 L493.2,254 L494.5,262 L495.8,262.8 L497,269.5 L498.3,277.8 L499.5,283.4 L500.8,296.9 L502,299.4 L503.3,313.2 L504.5,314.5 L505.8,327.2 L507,333.3 L508.3,332.8 L509.5,325.6 L510.8,325.5 L512.1,322.8 L513.3,311.1 L514.6,304.9 L515.8,291.1 L517.1,279.6 L518.3,265.8 L519.6,256.5 L520.8,248.8 L522.1,244 L523.3,251.9 L524.6,251.4 L525.8,264.5 L527.1,280.9 L528.4,288.9 L529.6,298.4 L530.9,308.1 L532.1,316.4 L533.4,320.4 L534.6,325.2 L535.9,325.8 L537.1,324.2 L538.4,321.5 L539.6,320 L540.9,311.7 L542.1,307.2 L543.4,301.2 L544.7,287.5 L545.9,278 L547.2,263.8 L548.4,249.7 L549.7,249.3 L550.9,245.7 L552.2,250 L553.4,256 L554.7,265.9 L555.9,279.7 L557.2,285.7 L558.4,299.1 L559.7,309.7 L560.9,317.4 L562.2,310.5 L563.5,313.1 L564.7,310.3 L566,313.1 L567.2,309.8 L568.5,308.1 L569.7,306.2 L571,299.1 L572.2,290.6 L573.5,280.4 L574.7,271.3 L576,267 L577.2,260.7 L578.5,255.7 L579.8,254.2 L581,259.9 L582.3,264 L583.5,275.3 L584.8,284.3 L586,295.1 L587.3,296.2 L588.5,306.3 L589.8,312.7 L591,310.7 L592.3,311.2 L593.5,311.5 L594.8,308.2 L596.1,303.7 L597.3,301.4 L598.6,293.2 L599.8,291.3 L601.1,280.7 L602.3,279.7 L603.6,269.2 L604.8,268.1 L606.1,255.3 L607.3,257.2 L608.6,254.9 L609.8,259.3 L611.1,263.4 L612.4,276.9 L613.6,284.3 L614.9,294.2 L616.1,305.9 L617.4,310.7 L618.6,323.5 L619.9,320 L621.1,321.2 L622.4,320.6 L623.6,315.1 L624.9,316.9 L626.1,311.1 L627.4,301 L628.6,294.3 L629.9,279.9 L631.2,273.3 L632.4,267.1 L633.7,251.4 L634.9,240.5 L636.2,244.6 L637.4,247 L638.7,257.3 L639.9,265.7 L641.2,278.5 L642.4,294.7 L643.7,304.2 L644.9,306.4 L646.2,307.2 L647.5,311.6 L648.7,309.5 L650,312.9 L651.2,316.4 L652.5,310.9 L653.7,309.2 L655,311.6 L656.2,302.1 L657.5,293.9 L658.7,285.2 L660,274.5 L661.2,269.6 L662.5,265.4 L663.8,265.6 L665,267.8 L666.3,263.9 L667.5,271.6 L668.8,274.7 L670,286.4"/><path d="M391.7,298.5 L393,300 L394.2,300.7 L395.5,304.8 L396.7,303.2 L398,299.1 L399.2,291.8 L400.5,290.3 L401.7,277.8 L403,269.9 L404.2,256.5 L405.5,250.5 L406.7,242.5 L408,242.3 L409.3,247.2 L410.5,250.4 L411.8,256.3 L413,267.2 L414.3,277.7 L415.5,282.2 L416.8,287.1 L418,299.4 L419.3,300.7 L420.5,301.9 L421.8,302.9 L423,300.2 L424.3,296.1 L425.5,295.8 L426.8,293.1 L428.1,285.6 L429.3,277.4 L430.6,274.2 L431.8,265.5 L433.1,262 L434.3,257.7 L435.6,252.4 L436.8,251.1 L438.1,256.2 L439.3,267.6 L440.6,275.3 L441.8,279.7 L443.1,284.3 L444.4,289.4 L445.6,291.6 L446.9,294.1 L448.1,296.4 L449.4,291.1 L450.6,284.4 L451.9,282.2 L453.1,282.5 L454.4,276.7 L455.6,274 L456.9,271 L458.1,271.6 L459.4,262.8 L460.7,260.3 L461.9,257.6 L463.2,260.7 L464.4,259.8 L465.7,263.9 L466.9,271.1 L468.2,271.5 L469.4,271.1 L470.7,278.7 L471.9,281.4 L473.2,283.9 L474.4,285 L475.7,284.6 L477,290.4 L478.2,288.3 L479.5,285.5 L480.7,288.5 L482,279.7 L483.2,280.3 L484.5,277.1 L485.7,275.4 L487,267.5 L488.2,259 L489.5,257.8 L490.7,256.9 L492,253.9 L493.2,261.9 L494.5,258 L495.8,262.7 L497,271.6 L498.3,279.5 L499.5,280.9 L500.8,283.6 L502,287.5 L503.3,287.7 L504.5,288.3 L505.8,293.9 L507,297.2 L508.3,296.6 L509.5,293.3 L510.8,285.8 L512.1,276.2 L513.3,269.7 L514.6,259.3 L515.8,252.4 L517.1,249.8 L518.3,248.3 L519.6,250.2 L520.8,248.8 L522.1,257.6 L523.3,270.3 L524.6,277.3 L525.8,287.3 L527.1,289.4 L528.4,290.9 L529.6,299.2 L530.9,301.6 L532.1,301.2 L533.4,307.1 L534.6,290.3 L535.9,291.3 L537.1,282.4 L538.4,282.7 L539.6,281.5 L540.9,276 L542.1,271.9 L543.4,270.8 L544.7,272.7 L545.9,268 L547.2,267.4 L548.4,269 L549.7,275.8 L550.9,279 L552.2,276.4 L553.4,283 L554.7,285.6 L555.9,289.8 L557.2,284.9 L558.4,283.1 L559.7,287.7 L560.9,285.5 L562.2,313 L563.5,302.5 L564.7,296 L566,291.8 L567.2,281.5 L568.5,268.1 L569.7,257.8 L571,251.2 L572.2,247.7 L573.5,241.3 L574.7,244.7 L576,242.8 L577.2,255 L578.5,271 L579.8,281.3 L581,291.5 L582.3,297.3 L583.5,306.6 L584.8,318.4 L586,319.6 L587.3,319.8 L588.5,316.3 L589.8,301.6 L591,304.3 L592.3,299 L593.5,292.4 L594.8,287 L596.1,272.9 L597.3,260.8 L598.6,254.3 L599.8,247.6 L601.1,245.2 L602.3,243.4 L603.6,247.2 L604.8,258 L606.1,269.9 L607.3,276.9 L608.6,288.9 L609.8,299.7 L611.1,300.9 L612.4,304.4 L613.6,302.7 L614.9,305.9 L616.1,309.9 L617.4,304.8 L618.6,304.9 L619.9,300.5 L621.1,291.4 L622.4,282.4 L623.6,269.7 L624.9,263.7 L626.1,253.1 L627.4,248.6 L628.6,245 L629.9,242.7 L631.2,249.6 L632.4,252 L633.7,265.5 L634.9,270.4 L636.2,279.4 L637.4,285.9 L638.7,290.5 L639.9,300.7 L641.2,302.7 L642.4,302.5 L643.7,300.6 L644.9,299.1 L646.2,297.6 L647.5,295.4 L648.7,285.9 L650,283.4 L651.2,275.3 L652.5,257.9 L653.7,252.2 L655,247.8 L656.2,241 L657.5,244 L658.7,252 L660,258.5 L661.2,270.7 L662.5,279.4 L663.8,280.7 L665,292 L666.3,294.8 L667.5,298.5 L668.8,300.7 L670,304.8"/><path d="M391.7,314.1 L393,313.8 L394.2,304.3 L395.5,300.9 L396.7,299.1 L398,291.9 L399.2,292.8 L400.5,284.9 L401.7,278 L403,273.1 L404.2,270.2 L405.5,257 L406.7,253.5 L408,255.2 L409.3,264 L410.5,263.2 L411.8,272.3 L413,277.9 L414.3,284 L415.5,294.1 L416.8,298.4 L418,299 L419.3,302 L420.5,300.6 L421.8,302.2 L423,302.4 L424.3,301.6 L425.5,300.5 L426.8,295.3 L428.1,288.1 L429.3,273.7 L430.6,268.9 L431.8,260.5 L433.1,260.9 L434.3,257.8 L435.6,252.5 L436.8,259.3 L438.1,265.6 L439.3,271.1 L440.6,281.4 L441.8,288.5 L443.1,299.7 L444.4,299.8 L445.6,307.8 L446.9,309.2 L448.1,308.9 L449.4,319 L450.6,313.9 L451.9,307.7 L453.1,302.8 L454.4,293.6 L455.6,281.9 L456.9,270.3 L458.1,254.4 L459.4,246.8 L460.7,241.3 L461.9,240.2 L463.2,243.8 L464.4,247.8 L465.7,262.7 L466.9,271.7 L468.2,283.8 L469.4,302.2 L470.7,305.2 L471.9,318.4 L473.2,321.8 L474.4,324.3 L475.7,324.8 L477,323.2 L478.2,299.6 L479.5,300.4 L480.7,298.5 L482,284.3 L483.2,279.9 L484.5,275.2 L485.7,268.6 L487,266.1 L488.2,260.8 L489.5,261.3 L490.7,259.8 L492,264.6 L493.2,268.3 L494.5,278 L495.8,279.7 L497,285.6 L498.3,289.5 L499.5,296.3 L500.8,292.9 L502,294 L503.3,294.3 L504.5,294 L505.8,310.1 L507,305.2 L508.3,296 L509.5,291 L510.8,275.9 L512.1,273.1 L513.3,264.5 L514.6,257.8 L515.8,248.1 L517.1,248.8 L518.3,251.1 L519.6,260.6 L520.8,269 L522.1,278.3 L523.3,289.6 L524.6,294.8 L525.8,300.1 L527.1,310 L528.4,302 L529.6,305.4 L530.9,308.5 L532.1,307.5 L533.4,295.4 L534.6,295 L535.9,290.4 L537.1,285.9 L538.4,282.6 L539.6,277.5 L540.9,264.6 L542.1,255.6 L543.4,254.8 L544.7,259.4 L545.9,258.7 L547.2,263.1 L548.4,268.5 L549.7,280.1 L550.9,287.6 L552.2,295.2 L553.4,303 L554.7,301.9 L555.9,304.3 L557.2,305 L558.4,304.4 L559.7,307.6 L560.9,300.1 L562.2,300.6 L563.5,293.2 L564.7,287.8 L566,282 L567.2,264.7 L568.5,261.4 L569.7,255.7 L571,251 L572.2,248.1 L573.5,257.7 L574.7,259.3 L576,265.5 L577.2,277.9 L578.5,285.4 L579.8,294.7 L581,295.7 L582.3,296.9 L583.5,297.3 L584.8,303.4 L586,298.3 L587.3,299.7 L588.5,299.9 L589.8,295.2 L591,291.6 L592.3,283.5 L593.5,278.3 L594.8,265.6 L596.1,258.7 L597.3,253.9 L598.6,249.6 L599.8,253.1 L601.1,257.7 L602.3,263.1 L603.6,269 L604.8,278.2 L606.1,285.4 L607.3,294.4 L608.6,294.2 L609.8,298.2 L611.1,301 L612.4,300.4 L613.6,307.1 L614.9,304.8 L616.1,296.1 L617.4,296.5 L618.6,293.7 L619.9,287.3 L621.1,276.3 L622.4,270.2 L623.6,261.7 L624.9,261.6 L626.1,260.5 L627.4,256.3 L628.6,257 L629.9,266.6 L631.2,273 L632.4,275.3 L633.7,283.5 L634.9,285 L636.2,287.4 L637.4,293.5 L638.7,295.5 L639.9,292.2 L641.2,289.1 L642.4,289 L643.7,294.4 L644.9,295.4 L646.2,288.4 L647.5,280.9 L648.7,272.6 L650,264.5 L651.2,258.1 L652.5,252.1 L653.7,249.3 L655,254.4 L656.2,257.3 L657.5,264 L658.7,272.5 L660,278.5 L661.2,292.3 L662.5,293.6 L663.8,295.4 L665,298.7 L666.3,305.4 L667.5,305.5 L668.8,305.2 L670,299.2"/><path d="M391.7,298.1 L393,303.3 L394.2,309.1 L395.5,312.1 L396.7,313.9 L398,309.7 L399.2,301.9 L400.5,299.6 L401.7,298 L403,296.9 L404.2,295.3 L405.5,291.9 L406.7,291.3 L408,285.6 L409.3,286.6 L410.5,279.8 L411.8,277.9 L413,281.7 L414.3,278.8 L415.5,281.3 L416.8,286.5 L418,286.3 L419.3,292.5 L420.5,295 L421.8,295.4 L423,299 L424.3,302.4 L425.5,300.7 L426.8,314.1 L428.1,313.1 L429.3,313.4 L430.6,307.1 L431.8,304.4 L433.1,290.7 L434.3,288.4 L435.6,279.4 L436.8,270.6 L438.1,262.7 L439.3,255.9 L440.6,254.5 L441.8,260.4 L443.1,273.5 L444.4,283.2 L445.6,290.1 L446.9,300.8 L448.1,309.1 L449.4,317.5 L450.6,319 L451.9,324.9 L453.1,319.4 L454.4,327.7 L455.6,320.6 L456.9,321.6 L458.1,318.8 L459.4,310.3 L460.7,299.5 L461.9,297.7 L463.2,283 L464.4,274.5 L465.7,264.5 L466.9,262.8 L468.2,257.7 L469.4,264.1 L470.7,273.7 L471.9,277.2 L473.2,287.5 L474.4,298.4 L475.7,306 L477,317.5 L478.2,318.5 L479.5,321.3 L480.7,325.3 L482,323 L483.2,321.8 L484.5,319.5 L485.7,311.3 L487,307.2 L488.2,298.6 L489.5,291.1 L490.7,283.8 L492,274.9 L493.2,265.4 L494.5,259.8 L495.8,257.4 L497,261.1 L498.3,266.7 L499.5,277.7 L500.8,284.7 L502,294.4 L503.3,306.6 L504.5,310.9 L505.8,318 L507,317.8 L508.3,321.9 L509.5,313.8 L510.8,304.2 L512.1,312.3 L513.3,305.1 L514.6,300.3 L515.8,303.2 L517.1,289.6 L518.3,286.9 L519.6,280.9 L520.8,275.1 L522.1,277.5 L523.3,272 L524.6,269.4 L525.8,278.9 L527.1,288.6 L528.4,291.1 L529.6,293.8 L530.9,298.5 L532.1,300 L533.4,302.8 L534.6,305.2 L535.9,305.1 L537.1,307.3 L538.4,332.5 L539.6,324.2 L540.9,321.5 L542.1,315.2 L543.4,304.3 L544.7,291.9 L545.9,285.6 L547.2,268.9 L548.4,262.1 L549.7,246.9 L550.9,251.6 L552.2,248.5 L553.4,253.8 L554.7,266 L555.9,277.7 L557.2,291.6 L558.4,312 L559.7,314.2 L560.9,323.6 L562.2,330.6 L563.5,334.7 L564.7,329 L566,326 L567.2,320.8 L568.5,317.1 L569.7,310.5 L571,303.6 L572.2,298.8 L573.5,296.4 L574.7,281.8 L576,278.8 L577.2,269.5 L578.5,263.7 L579.8,265.2 L581,268.6 L582.3,271.3 L583.5,284.7 L584.8,290.4 L586,293 L587.3,306.3 L588.5,309.5 L589.8,315.6 L591,320.5 L592.3,311.7 L593.5,317.6 L594.8,317.6 L596.1,313.7 L597.3,312.2 L598.6,304.1 L599.8,291.4 L601.1,285.5 L602.3,269.3 L603.6,262.5 L604.8,255.9 L606.1,256.3 L607.3,261.5 L608.6,265.1 L609.8,271.2 L611.1,283.8 L612.4,292.2 L613.6,301.1 L614.9,316 L616.1,319.1 L617.4,325.2 L618.6,322.7 L619.9,325.2 L621.1,324.4 L622.4,322.7 L623.6,320.8 L624.9,311.6 L626.1,308.2 L627.4,299.7 L628.6,289.8 L629.9,281.9 L631.2,271.8 L632.4,262.7 L633.7,255.3 L634.9,257.2 L636.2,259.2 L637.4,273.9 L638.7,274.4 L639.9,291.8 L641.2,300.7 L642.4,313 L643.7,318.7 L644.9,324.3 L646.2,325.6 L647.5,324.8 L648.7,323.7 L650,327.8 L651.2,324.3 L652.5,316 L653.7,313 L655,302 L656.2,289.4 L657.5,282.5 L658.7,269.1 L660,260.5 L661.2,259.2 L662.5,257.3 L663.8,260.2 L665,266.5 L666.3,280.2 L667.5,286.7 L668.8,298.1 L670,303.9"/><path d="M391.7,277 L393,280.4 L394.2,277.9 L395.5,281.5 L396.7,291.8 L398,293 L399.2,289.5 L400.5,285.9 L401.7,280.6 L403,270.6 L404.2,267.9 L405.5,260.1 L406.7,254.7 L408,248.4 L409.3,245.3 L410.5,253.8 L411.8,255.1 L413,261.3 L414.3,268.5 L415.5,273 L416.8,282.4 L418,285.8 L419.3,292.6 L420.5,292 L421.8,292.8 L423,295.1 L424.3,292.5 L425.5,290.3 L426.8,286.9 L428.1,278.1 L429.3,278.3 L430.6,274 L431.8,263.5 L433.1,260 L434.3,252.8 L435.6,245.1 L436.8,249.7 L438.1,253.8 L439.3,259.5 L440.6,265 L441.8,265.8 L443.1,273.6 L444.4,274.5 L445.6,281.7 L446.9,283.4 L448.1,286.4 L449.4,293.1 L450.6,294 L451.9,306.5 L453.1,306.9 L454.4,295.6 L455.6,289.3 L456.9,282.4 L458.1,270.9 L459.4,269 L460.7,260.7 L461.9,251.3 L463.2,245.1 L464.4,249.5 L465.7,250.5 L466.9,258.1 L468.2,269.9 L469.4,277.7 L470.7,286.8 L471.9,296.5 L473.2,302.1 L474.4,302.5 L475.7,302.4 L477,303.8 L478.2,302.2 L479.5,301.2 L480.7,305.8 L482,295.4 L483.2,287.8 L484.5,286.6 L485.7,269.8 L487,256.3 L488.2,251.1 L489.5,244.8 L490.7,238.6 L492,238.1 L493.2,246.1 L494.5,254.2 L495.8,267.7 L497,274.5 L498.3,285.5 L499.5,292.3 L500.8,301.3 L502,309 L503.3,308.9 L504.5,305.9 L505.8,311.3 L507,311.8 L508.3,303.6 L509.5,289.6 L510.8,281.7 L512.1,272.2 L513.3,260.5 L514.6,246.3 L515.8,239.5 L517.1,233 L518.3,232.9 L519.6,232.9 L520.8,245.7 L522.1,250.3 L523.3,261.2 L524.6,276.4 L525.8,284.4 L527.1,292 L528.4,296.2 L529.6,303.4 L530.9,304.4 L532.1,308.5 L533.4,307.7 L534.6,309.8 L535.9,291 L537.1,284.6 L538.4,278.9 L539.6,280.1 L540.9,270.9 L542.1,258.3 L543.4,259.7 L544.7,261.9 L545.9,255.1 L547.2,260.8 L548.4,267.1 L549.7,271 L550.9,273.9 L552.2,279.1 L553.4,281.3 L554.7,288.8 L555.9,291.4 L557.2,295.8 L558.4,296.3 L559.7,293.8 L560.9,295.3 L562.2,285.9 L563.5,288.1 L564.7,285.1 L566,277.2 L567.2,269 L568.5,263.2 L569.7,261.3 L571,256.4 L572.2,257.5 L573.5,252.3 L574.7,260.9 L576,259 L577.2,269.1 L578.5,272.4 L579.8,277.6 L581,284.1 L582.3,292.5 L583.5,293.7 L584.8,297.3 L586,290.9 L587.3,297.9 L588.5,294.2 L589.8,288.6 L591,291.8 L592.3,282.1 L593.5,279.3 L594.8,269.3 L596.1,256.9 L597.3,251.2 L598.6,246.1 L599.8,240.9 L601.1,246.3 L602.3,254.6 L603.6,264.8 L604.8,271.1 L606.1,279.6 L607.3,285.9 L608.6,295.3 L609.8,291.6 L611.1,297.6 L612.4,302.2 L613.6,304.6 L614.9,301.8 L616.1,296.2 L617.4,290.1 L618.6,289.1 L619.9,287 L621.1,273.6 L622.4,267.9 L623.6,253.6 L624.9,254.2 L626.1,247 L627.4,245.8 L628.6,247.8 L629.9,259.2 L631.2,262.8 L632.4,269.8 L633.7,281.9 L634.9,290 L636.2,296.8 L637.4,303.8 L638.7,306.3 L639.9,304.9 L641.2,303.2 L642.4,299 L643.7,295 L644.9,294.6 L646.2,291 L647.5,276.6 L648.7,267.2 L650,256.9 L651.2,249.9 L652.5,242.4 L653.7,241.7 L655,240.2 L656.2,247.7 L657.5,250.9 L658.7,263.2 L660,271.2 L661.2,275.7 L662.5,283.5 L663.8,291.1 L665,297.8 L666.3,300.5 L667.5,303.1 L668.8,303.2 L670,298.4"/><path d="M391.7,305.2 L393,312.8 L394.2,314.1 L395.5,305.6 L396.7,306.8 L398,305.6 L399.2,300.6 L400.5,297.7 L401.7,292.5 L403,283.7 L404.2,277.7 L405.5,274.2 L406.7,267.4 L408,260.6 L409.3,260 L410.5,264 L411.8,270.2 L413,271.9 L414.3,280.5 L415.5,286.4 L416.8,294 L418,295.6 L419.3,306 L420.5,309.9 L421.8,309.6 L423,311.1 L424.3,307.2 L425.5,303.8 L426.8,303.4 L428.1,293.7 L429.3,287.1 L430.6,278 L431.8,281.5 L433.1,270.9 L434.3,264.1 L435.6,257.6 L436.8,251.1 L438.1,256.3 L439.3,264.7 L440.6,270.5 L441.8,277.3 L443.1,284.6 L444.4,291.7 L445.6,291.3 L446.9,295 L448.1,301.6 L449.4,303.4 L450.6,309.1 L451.9,307.7 L453.1,307.7 L454.4,304 L455.6,298.2 L456.9,294.1 L458.1,286.2 L459.4,272 L460.7,265.5 L461.9,257.6 L463.2,253.7 L464.4,252.6 L465.7,249.2 L466.9,255 L468.2,263.4 L469.4,272.2 L470.7,277.2 L471.9,284.4 L473.2,289.3 L474.4,297.6 L475.7,299 L477,308.7 L478.2,306.8 L479.5,304.6 L480.7,304.6 L482,302.2 L483.2,298.4 L484.5,291.5 L485.7,284 L487,277.2 L488.2,264.9 L489.5,261.6 L490.7,253.7 L492,253.5 L493.2,253.6 L494.5,254.3 L495.8,267.9 L497,268.9 L498.3,275.9 L499.5,289 L500.8,293.8 L502,300.4 L503.3,305.1 L504.5,310.4 L505.8,311.5 L507,310.2 L508.3,304.8 L509.5,298.7 L510.8,302.3 L512.1,302.3 L513.3,296.1 L514.6,289.5 L515.8,280.6 L517.1,273.8 L518.3,268.7 L519.6,265 L520.8,263.4 L522.1,262.7 L523.3,266.2 L524.6,273.7 L525.8,279.7 L527.1,280.3 L528.4,289.5 L529.6,294.6 L530.9,297.6 L532.1,300.8 L533.4,302 L534.6,317.6 L535.9,312.8 L537.1,312.5 L538.4,313.8 L539.6,299.2 L540.9,295.3 L542.1,290 L543.4,281.3 L544.7,270.8 L545.9,260.4 L547.2,254 L548.4,248.7 L549.7,248.9 L550.9,255.5 L552.2,265.2 L553.4,273.2 L554.7,280.4 L555.9,293 L557.2,296.3 L558.4,303.6 L559.7,313.4 L560.9,312.3 L562.2,311.5 L563.5,316.5 L564.7,312.2 L566,305.4 L567.2,309.3 L568.5,299.4 L569.7,290.5 L571,283.4 L572.2,268.4 L573.5,258.8 L574.7,255.9 L576,243.5 L577.2,251 L578.5,256.6 L579.8,263.9 L581,275.4 L582.3,281.3 L583.5,288.7 L584.8,299 L586,303 L587.3,309.5 L588.5,316.6 L589.8,315.3 L591,330 L592.3,322.4 L593.5,316.4 L594.8,314.2 L596.1,310.1 L597.3,293.4 L598.6,284.4 L599.8,267.7 L601.1,257.6 L602.3,244.1 L603.6,243.1 L604.8,239.5 L606.1,242.5 L607.3,249.7 L608.6,262.4 L609.8,273.8 L611.1,288.3 L612.4,303.9 L613.6,310.5 L614.9,320.2 L616.1,321 L617.4,324.1 L618.6,297.1 L619.9,299.6 L621.1,296.9 L622.4,292.9 L623.6,291 L624.9,283.9 L626.1,282.1 L627.4,282.7 L628.6,271.5 L629.9,267.4 L631.2,262.9 L632.4,261.7 L633.7,260.2 L634.9,267.1 L636.2,269.9 L637.4,275.4 L638.7,277.7 L639.9,284 L641.2,293.1 L642.4,295.5 L643.7,298.5 L644.9,305.2 L646.2,297 L647.5,304.2 L648.7,299.3 L650,299.8 L651.2,294.1 L652.5,294.4 L653.7,286.3 L655,287.9 L656.2,278 L657.5,277.6 L658.7,274.1 L660,273 L661.2,270 L662.5,273.7 L663.8,275.8 L665,280.7 L666.3,284.8 L667.5,285.7 L668.8,290.5 L670,294.3"/><path d="M391.7,312 L393,314.5 L394.2,320.1 L395.5,323.8 L396.7,301.4 L398,302 L399.2,301.9 L400.5,298 L401.7,290.2 L403,293.1 L404.2,288.2 L405.5,286.1 L406.7,274.4 L408,277.2 L409.3,276.4 L410.5,274.2 L411.8,274 L413,280.6 L414.3,285.1 L415.5,287 L416.8,291.3 L418,301.1 L419.3,302.1 L420.5,302.2 L421.8,302.2 L423,299.5 L424.3,316.6 L425.5,318 L426.8,315 L428.1,311.2 L429.3,301.5 L430.6,297.2 L431.8,287.5 L433.1,275.4 L434.3,269.5 L435.6,269 L436.8,263.4 L438.1,258.9 L439.3,268.6 L440.6,276.4 L441.8,284.6 L443.1,287.3 L444.4,294.6 L445.6,304.7 L446.9,311.9 L448.1,310.6 L449.4,313.7 L450.6,313.8 L451.9,294.9 L453.1,295.9 L454.4,292.2 L455.6,292.1 L456.9,290.1 L458.1,287.8 L459.4,287.7 L460.7,286.3 L461.9,286.1 L463.2,283.4 L464.4,280.4 L465.7,280.8 L466.9,283.4 L468.2,288.7 L469.4,289 L470.7,291.9 L471.9,293.2 L473.2,298.2 L474.4,296.3 L475.7,291.9 L477,297.1 L478.2,291.9 L479.5,330.3 L480.7,329.6 L482,324.7 L483.2,317.2 L484.5,310.5 L485.7,305.1 L487,292 L488.2,275.2 L489.5,259 L490.7,251.4 L492,246.3 L493.2,240.3 L494.5,243.3 L495.8,256.4 L497,264.6 L498.3,279.3 L499.5,291.2 L500.8,304.2 L502,315.8 L503.3,324.1 L504.5,324.8 L505.8,335.6 L507,327.9 L508.3,303.8 L509.5,305 L510.8,306.2 L512.1,302.8 L513.3,294.4 L514.6,291.8 L515.8,284.1 L517.1,275.5 L518.3,272.6 L519.6,268.4 L520.8,268.1 L522.1,264.9 L523.3,272.1 L524.6,278 L525.8,287.9 L527.1,290.9 L528.4,294.5 L529.6,296.2 L530.9,300.2 L532.1,305 L533.4,307.5 L534.6,307.3 L535.9,307.4 L537.1,310.4 L538.4,304.5 L539.6,301.1 L540.9,294.7 L542.1,290.8 L543.4,284.5 L544.7,279.1 L545.9,276.9 L547.2,266.8 L548.4,273 L549.7,274.1 L550.9,274.6 L552.2,279.1 L553.4,283 L554.7,285.9 L555.9,296.1 L557.2,297.6 L558.4,304.3 L559.7,310.7 L560.9,311.8 L562.2,310.8 L563.5,308.2 L564.7,311.5 L566,305.2 L567.2,303.6 L568.5,297.2 L569.7,292.4 L571,284.3 L572.2,279.6 L573.5,276.8 L574.7,270 L576,272.4 L577.2,271.9 L578.5,275.7 L579.8,273.3 L581,283.7 L582.3,290.3 L583.5,290.4 L584.8,294.9 L586,304.1 L587.3,308 L588.5,307.1 L589.8,307.8 L591,321.4 L592.3,313.9 L593.5,312.7 L594.8,309.9 L596.1,305.4 L597.3,293.6 L598.6,287.6 L599.8,274.4 L601.1,265.3 L602.3,263 L603.6,257.8 L604.8,252.5 L606.1,263.1 L607.3,266.9 L608.6,272.2 L609.8,283.7 L611.1,294.5 L612.4,302.6 L613.6,306.2 L614.9,314.1 L616.1,313.4 L617.4,316.4 L618.6,321.9 L619.9,320.9 L621.1,317.1 L622.4,313.7 L623.6,310.7 L624.9,302 L626.1,297.5 L627.4,287.3 L628.6,271.2 L629.9,265.7 L631.2,260.2 L632.4,256.9 L633.7,260.2 L634.9,265.4 L636.2,276.6 L637.4,288.8 L638.7,296.4 L639.9,305.4 L641.2,306 L642.4,309.7 L643.7,312.8 L644.9,318.1 L646.2,315.2 L647.5,310.9 L648.7,312.8 L650,310.3 L651.2,301.3 L652.5,294 L653.7,288.5 L655,279.4 L656.2,267 L657.5,260.1 L658.7,254.5 L660,258.1 L661.2,263.8 L662.5,267.8 L663.8,273.5 L665,283.4 L666.3,292.7 L667.5,297.2 L668.8,305 L670,312.7"/><path d="M391.7,306.9 L393,312.6 L394.2,308.4 L395.5,313.9 L396.7,318.2 L398,310.5 L399.2,308.5 L400.5,298.1 L401.7,290.8 L403,276.1 L404.2,269.2 L405.5,254.6 L406.7,247.5 L408,242.2 L409.3,244.4 L410.5,239.8 L411.8,253.1 L413,261.9 L414.3,273.6 L415.5,283.7 L416.8,288.4 L418,303.8 L419.3,304.1 L420.5,308.5 L421.8,312.7 L423,315.7 L424.3,293.9 L425.5,290.7 L426.8,288.3 L428.1,283.7 L429.3,279.7 L430.6,276.5 L431.8,273.6 L433.1,267.5 L434.3,262.2 L435.6,260.9 L436.8,263.4 L438.1,259.6 L439.3,261.5 L440.6,266.9 L441.8,275.2 L443.1,278.9 L444.4,284.9 L445.6,292.6 L446.9,294.5 L448.1,295.3 L449.4,295.6 L450.6,300.1 L451.9,321.1 L453.1,316.8 L454.4,313.1 L455.6,310.7 L456.9,304.4 L458.1,292.9 L459.4,278.4 L460.7,267.1 L461.9,253.6 L463.2,251.3 L464.4,242 L465.7,243.4 L466.9,248.2 L468.2,260.8 L469.4,266.6 L470.7,285.4 L471.9,294.8 L473.2,304.3 L474.4,312 L475.7,315.9 L477,323.7 L478.2,322.1 L479.5,312.1 L480.7,314.3 L482,303.5 L483.2,300.4 L484.5,294.1 L485.7,292.3 L487,281.5 L488.2,270.7 L489.5,258.1 L490.7,257.7 L492,254 L493.2,252.4 L494.5,259.1 L495.8,262.4 L497,272.8 L498.3,280.2 L499.5,287 L500.8,296.8 L502,303.9 L503.3,309.3 L504.5,308.7 L505.8,308.6 L507,306.4 L508.3,307.3 L509.5,300.9 L510.8,296.9 L512.1,292.9 L513.3,285.1 L514.6,274.9 L515.8,268.6 L517.1,259.3 L518.3,252 L519.6,250.8 L520.8,246.1 L522.1,255 L523.3,259.4 L524.6,266.5 L525.8,278.8 L527.1,286.4 L528.4,292.9 L529.6,305.6 L530.9,305.1 L532.1,306.8 L533.4,304.5 L534.6,317.7 L535.9,314.1 L537.1,307.8 L538.4,303.2 L539.6,298 L540.9,291.6 L542.1,280.1 L543.4,271.6 L544.7,263.4 L545.9,247.3 L547.2,238.8 L548.4,235.1 L549.7,240.1 L550.9,249.8 L552.2,264 L553.4,274.9 L554.7,286.7 L555.9,294.9 L557.2,305.7 L558.4,316.4 L559.7,314.6 L560.9,318.4 L562.2,321.7 L563.5,302.4 L564.7,296.4 L566,296.3 L567.2,291.5 L568.5,287.7 L569.7,284.9 L571,270.2 L572.2,267.8 L573.5,266.6 L574.7,262.6 L576,263.1 L577.2,262.8 L578.5,262.1 L579.8,263.8 L581,272.2 L582.3,277.8 L583.5,283.9 L584.8,287.7 L586,294.1 L587.3,298.2 L588.5,295.6 L589.8,298.5 L591,296.3 L592.3,295.8 L593.5,297 L594.8,294.9 L596.1,289.7 L597.3,285.6 L598.6,276.4 L599.8,273.2 L601.1,268.7 L602.3,261.6 L603.6,260 L604.8,258.8 L606.1,264.1 L607.3,267.1 L608.6,276.2 L609.8,288.4 L611.1,287 L612.4,288.8 L613.6,300.2 L614.9,298.2 L616.1,301.2 L617.4,300.2 L618.6,293.6 L619.9,295 L621.1,293.4 L622.4,291.1 L623.6,291 L624.9,285.6 L626.1,274 L627.4,271.1 L628.6,268.1 L629.9,263.6 L631.2,261.2 L632.4,260.9 L633.7,263.9 L634.9,267.6 L636.2,275.3 L637.4,280.6 L638.7,286.2 L639.9,285.3 L641.2,293.4 L642.4,294.9 L643.7,299.3 L644.9,294.1 L646.2,309.9 L647.5,304.8 L648.7,302.2 L650,300 L651.2,292.5 L652.5,285.5 L653.7,275.1 L655,268.6 L656.2,259.4 L657.5,250.8 L658.7,247.6 L660,242.3 L661.2,245.9 L662.5,259.1 L663.8,265.9 L665,276.6 L666.3,284 L667.5,296.4 L668.8,298.2 L670,302"/><path d="M391.7,306.6 L393,309.4 L394.2,311.1 L395.5,328.7 L396.7,323.8 L398,315.2 L399.2,313.5 L400.5,308.8 L401.7,291.1 L403,280.5 L404.2,265.4 L405.5,257.4 L406.7,243.6 L408,239.2 L409.3,231.5 L410.5,242.6 L411.8,251.5 L413,266 L414.3,279.2 L415.5,291.3 L416.8,306.6 L418,314.3 L419.3,317.9 L420.5,326.7 L421.8,328.8 L423,308.9 L424.3,310.9 L425.5,306.6 L426.8,307 L428.1,298.9 L429.3,292.1 L430.6,284.5 L431.8,279.8 L433.1,272.2 L434.3,263.3 L435.6,268.8 L436.8,269 L438.1,273.3 L439.3,274.8 L440.6,281.7 L441.8,286.4 L443.1,298.2 L444.4,305.3 L445.6,306 L446.9,313.5 L448.1,315.2 L449.4,314 L450.6,323.2 L451.9,324 L453.1,317.3 L454.4,316 L455.6,305.2 L456.9,290.6 L458.1,284.5 L459.4,275.8 L460.7,268.9 L461.9,253.6 L463.2,249.9 L464.4,250 L465.7,253.7 L466.9,259.9 L468.2,271.5 L469.4,288 L470.7,291.2 L471.9,301.6 L473.2,316.8 L474.4,314.5 L475.7,325.4 L477,324.7 L478.2,324.2 L479.5,313.2 L480.7,309 L482,305.6 L483.2,294 L484.5,292.4 L485.7,290 L487,281 L488.2,270.6 L489.5,272 L490.7,264.5 L492,264.1 L493.2,266.5 L494.5,268.7 L495.8,275.4 L497,283.4 L498.3,285.8 L499.5,296.2 L500.8,294.3 L502,304.7 L503.3,295.7 L504.5,301.4 L505.8,301.2 L507,315.9 L508.3,317.4 L509.5,314.2 L510.8,306.6 L512.1,294.4 L513.3,284.5 L514.6,267.4 L515.8,259.5 L517.1,253.8 L518.3,249.1 L519.6,249.6 L520.8,251 L522.1,263.6 L523.3,272.2 L524.6,287 L525.8,299 L527.1,304.6 L528.4,311.7 L529.6,318.9 L530.9,320.4 L532.1,324.4 L533.4,322.9 L534.6,323.2 L535.9,316.8 L537.1,308.4 L538.4,296.6 L539.6,290.8 L540.9,274.9 L542.1,268.4 L543.4,255.7 L544.7,248.1 L545.9,244.7 L547.2,245.5 L548.4,257.9 L549.7,267.9 L550.9,278.3 L552.2,288.2 L553.4,306.7 L554.7,308.8 L555.9,320 L557.2,324.6 L558.4,327.8 L559.7,336.5 L560.9,325 L562.2,319.4 L563.5,316.5 L564.7,311.2 L566,304.9 L567.2,298.9 L568.5,281.7 L569.7,273.9 L571,262.5 L572.2,256.4 L573.5,247.4 L574.7,252 L576,259.1 L577.2,265.2 L578.5,273.8 L579.8,287.8 L581,298.6 L582.3,303 L583.5,317.3 L584.8,315.9 L586,323.4 L587.3,319.2 L588.5,324.2 L589.8,330.7 L591,328.3 L592.3,320.9 L593.5,313.3 L594.8,302 L596.1,285.1 L597.3,275.8 L598.6,258 L599.8,251.8 L601.1,238.2 L602.3,242 L603.6,246.8 L604.8,259.6 L606.1,267.3 L607.3,281.8 L608.6,297 L609.8,308.7 L611.1,317.1 L612.4,317.3 L613.6,327.4 L614.9,329.5 L616.1,326.5 L617.4,326.6 L618.6,314.1 L619.9,306.8 L621.1,302.2 L622.4,296.1 L623.6,284.3 L624.9,278.4 L626.1,266.9 L627.4,257.2 L628.6,255.5 L629.9,251.6 L631.2,253.8 L632.4,258 L633.7,275.7 L634.9,284.1 L636.2,286.7 L637.4,297.8 L638.7,299.9 L639.9,304.1 L641.2,303.7 L642.4,306.7 L643.7,309.7 L644.9,310.8 L646.2,291.1 L647.5,293.3 L648.7,293.9 L650,292.6 L651.2,287.7 L652.5,284 L653.7,285.6 L655,280.5 L656.2,279.6 L657.5,282.6 L658.7,285.4 L660,280.1 L661.2,287.9 L662.5,288.1 L663.8,291.1 L665,297.9 L666.3,294.6 L667.5,294.3 L668.8,297.8 L670,297.2"/><path d="M391.7,304.4 L393,305.1 L394.2,310.7 L395.5,309.7 L396.7,326.4 L398,325.7 L399.2,322.2 L400.5,319.4 L401.7,309.7 L403,298.8 L404.2,289.9 L405.5,278.7 L406.7,272.4 L408,259.4 L409.3,255.2 L410.5,253.3 L411.8,259.6 L413,266.2 L414.3,272.3 L415.5,282.4 L416.8,295.6 L418,305.9 L419.3,317.9 L420.5,322.5 L421.8,324.3 L423,325.4 L424.3,328.1 L425.5,325.6 L426.8,318 L428.1,322 L429.3,313 L430.6,307.2 L431.8,297 L433.1,289.8 L434.3,277.4 L435.6,266.9 L436.8,260.8 L438.1,258.4 L439.3,258.1 L440.6,264.2 L441.8,266.8 L443.1,280.1 L444.4,292.1 L445.6,297.6 L446.9,306.7 L448.1,310.4 L449.4,317.1 L450.6,323.2 L451.9,325.5 L453.1,299.5 L454.4,298.7 L455.6,300.3 L456.9,295.4 L458.1,293.4 L459.4,289 L460.7,289.8 L461.9,286.8 L463.2,281.1 L464.4,286.5 L465.7,283.3 L466.9,288.2 L468.2,288.2 L469.4,288.1 L470.7,291.3 L471.9,295.9 L473.2,293 L474.4,298 L475.7,298.7 L477,294 L478.2,300.8 L479.5,300.1 L480.7,315.6 L482,312.6 L483.2,309.5 L484.5,306 L485.7,299.6 L487,295.6 L488.2,282.8 L489.5,281 L490.7,275 L492,274.5 L493.2,265.5 L494.5,267.4 L495.8,265.6 L497,269.7 L498.3,275.3 L499.5,281.8 L500.8,290.5 L502,292.5 L503.3,300.5 L504.5,303.1 L505.8,310 L507,309.8 L508.3,314.4 L509.5,314.8 L510.8,309.6 L512.1,308.9 L513.3,306.7 L514.6,303.8 L515.8,292 L517.1,284.3 L518.3,278.4 L519.6,267.1 L520.8,265.6 L522.1,264.3 L523.3,265.7 L524.6,268.3 L525.8,271.3 L527.1,285 L528.4,289.7 L529.6,299.3 L530.9,305.5 L532.1,310.4 L533.4,312.2 L534.6,313.3 L535.9,298.1 L537.1,295.5 L538.4,297.5 L539.6,296.1 L540.9,293.4 L542.1,292 L543.4,289.4 L544.7,288.2 L545.9,289 L547.2,291.5 L548.4,288.3 L549.7,285 L550.9,283.8 L552.2,286.4 L553.4,285 L554.7,288.2 L555.9,292 L557.2,293.9 L558.4,289.7 L559.7,295 L560.9,293.5 L562.2,295.1 L563.5,319.2 L564.7,320.4 L566,317 L567.2,314.2 L568.5,310.6 L569.7,302.1 L571,293.3 L572.2,286.1 L573.5,275.1 L574.7,266.6 L576,258.8 L577.2,254 L578.5,255.1 L579.8,252 L581,260 L582.3,267 L583.5,280.6 L584.8,295.5 L586,303.6 L587.3,312.3 L588.5,312.3 L589.8,320.6 L591,320.3 L592.3,327.3 L593.5,325.4 L594.8,325 L596.1,317.7 L597.3,312.2 L598.6,306.7 L599.8,289.7 L601.1,283.3 L602.3,268.6 L603.6,255.6 L604.8,255.1 L606.1,250.7 L607.3,255 L608.6,265.6 L609.8,276 L611.1,284.1 L612.4,291.6 L613.6,302.4 L614.9,312.5 L616.1,318.7 L617.4,321.6 L618.6,322.1 L619.9,320.2 L621.1,321.2 L622.4,325.2 L623.6,322.1 L624.9,315.1 L626.1,305.4 L627.4,296.2 L628.6,292.2 L629.9,280.6 L631.2,275.9 L632.4,266.4 L633.7,265.3 L634.9,261 L636.2,268.9 L637.4,270.7 L638.7,286.9 L639.9,293.7 L641.2,301.1 L642.4,310.2 L643.7,309.2 L644.9,313.9 L646.2,318.4 L647.5,316.4 L648.7,319.7 L650,318.5 L651.2,308.4 L652.5,307.2 L653.7,304.8 L655,297.1 L656.2,284.9 L657.5,283.8 L658.7,278.5 L660,272.3 L661.2,265.6 L662.5,258.4 L663.8,263.6 L665,271.5 L666.3,278.8 L667.5,286.9 L668.8,295.5 L670,302.1"/></g>
<path d="M391.8,290.8 L393.1,293.7 L394.3,296 L395.3,300.3 L396.3,303.2 L397.8,311.4 L399.4,307.3 L401,308.3 L402.2,301.4 L403.5,292.9 L404.6,285.9 L405.6,276.4 L407.2,262 L408.1,253.9 L409.1,244.5 L410.7,251.7 L411.8,258 L412.8,262 L413.8,266.9 L414.8,274.4 L415.9,276.9 L416.9,279.5 L417.9,285.4 L419,288.8 L420,292.3 L421,295 L422,297.1 L423.1,295.9 L424.1,298 L425.1,300.5 L426.2,303.2 L427.2,305 L428.2,308.3 L429.2,306.4 L430.3,304.2 L431.3,302.9 L432.3,301.1 L433.4,295.6 L434.4,292.9 L435.4,290.1 L436.4,288.8 L438.1,279.5 L439.1,274.3 L440.1,270.3 L441.4,272.5 L442.6,272.3 L443.6,276.1 L444.7,278.5 L445.7,279.6 L446.7,282.6 L447.8,280.9 L448.8,277.5 L449.8,280.1 L450.8,284.7 L451.9,283 L452.9,280.6 L453.9,282.6 L455,286.7 L456,283.3 L457,282.6 L458.1,286.7 L459.1,288.8 L460.3,282.3 L461.5,277.5 L462.9,274.1 L464.2,272.3 L465.2,266.5 L466.3,257.9 L467.3,258.4 L468.3,256.9 L469.4,258.9 L470.4,262 L471.4,268.4 L472.4,272.3 L473.9,284.7 L474.8,286.8 L475.7,289.3 L476.6,290.8 L477.6,293.1 L478.6,297 L479.6,302.3 L480.7,305.2 L481.7,308.8 L482.7,311.4 L484.1,318.6 L485.1,317.4 L486.2,313.5 L487.2,311.5 L488.2,307.3 L489.2,299.5 L490.3,292.9 L491.3,284.3 L492.3,276.4 L493.4,268.3 L494.4,262 L495.4,260.5 L496.5,261 L497.5,261.3 L498.5,264.1 L499.6,268.7 L500.6,274.4 L501.6,282.9 L502.6,290.8 L504.3,303.2 L505.7,313.5 L507.4,320.7 L508.8,315.5 L509.9,313.1 L510.9,313.5 L511.9,308.8 L512.9,303.2 L514,296.5 L515,290.8 L516,285.2 L517,280.6 L518,276.8 L519.1,271.3 L520.2,268.7 L521.2,266.2 L522.8,255.9 L524.2,270.3 L525.2,266.7 L526.3,264.1 L527.3,266.1 L528.4,268.2 L529.4,271.9 L530.4,274.4 L531.5,275.7 L532.5,279.5 L533.5,281.4 L534.5,280.6 L535.5,281.3 L536.6,285.4 L537.6,286.7 L538.6,287 L539.7,284 L540.7,284.7 L541.8,283.5 L542.8,280.6 L543.8,275.1 L544.8,270.3 L546.3,265.1 L547.9,272.3 L549,273.6 L550,274.4 L551,277.1 L552,282.6 L553,285.4 L554.1,290.8 L555.1,295.1 L556.1,301.1 L557.2,304.4 L558.2,305.2 L559.2,305.4 L560.3,308 L561.3,308.3 L562.3,310.1 L563.3,309.4 L564.3,313.7 L565.4,315.5 L566.4,312 L567.4,309.4 L568.5,303.8 L569.5,299.1 L570.5,294 L571.6,288.8 L572.6,284.9 L573.6,279.5 L574.7,276.4 L575.7,275.4 L577.5,266 L579.1,263.5 L580.2,261.9 L581.3,259 L582.5,263.2 L583.6,265.7 L585.2,277.1 L586.3,284.9 L587.4,290.6 L588.4,293.8 L589.4,300.9 L590.4,304.2 L591.5,296.9 L592.7,291.8 L594,289.1 L595.4,287.2 L596.5,284.7 L597.6,281.6 L598.8,278.2 L599.9,272.5 L601,264.7 L602.2,257.8 L603.3,262.9 L604.4,265.7 L605.5,267.5 L606.7,269.1 L607.9,264.6 L609,261.2 L610.1,264.1 L611.2,268 L612.4,272.7 L613.5,279.3 L614.6,281 L615.7,285 L616.9,285.7 L618,288.4 L619.1,292.3 L620.3,295.2 L621.4,292 L622.5,286.1 L623.6,279.5 L624.8,274.8 L625.9,272.4 L627.1,273.9 L628.2,271.4 L629.4,269.2 L630.5,266.9 L631.6,267.7 L632.7,269.1 L633.9,271.8 L635,275.9 L636.1,283 L637.2,289.5 L638.4,291 L639.5,290.6 L640.6,293.9 L641.8,297.4 L642.9,294.9 L644,292.9 L645.1,296.2 L646.3,302 L647.5,306 L648.6,307.6 L649.7,303.5 L650.8,302 L652,296.9 L653.1,291.8 L654.2,288.8 L655.4,283.9 L656.5,276.1 L657.6,270.3 L658.8,272 L659.9,272.5 L661,270.4 L662.1,265.7 L663.2,268.4 L664.4,270.3 L665.5,268.3 L666.7,264.6 L668.3,265.7 L669.2,270.3 L670.1,277.1 L671.2,285" fill="none" stroke="#30b372" stroke-width="2.35" stroke-linejoin="round" stroke-linecap="round"/>
<path d="M377.7,221.3 L377.7,335.1 L685,335.1" fill="none" stroke="#6f6f6f" stroke-width="1.1"/>
<text x="374.6" y="225.5" font-size="7.6" text-anchor="end" fill="#4d4d4d" >1800</text>
<line x1="375.4" y1="222.9" x2="377.8" y2="222.9" stroke="#6f6f6f" stroke-width="0.9" />
<text x="374.6" y="253.8" font-size="7.6" text-anchor="end" fill="#4d4d4d" >1500</text>
<line x1="375.4" y1="251.2" x2="377.8" y2="251.2" stroke="#6f6f6f" stroke-width="0.9" />
<text x="374.6" y="281.8" font-size="7.6" text-anchor="end" fill="#4d4d4d" >1200</text>
<line x1="375.4" y1="279.2" x2="377.8" y2="279.2" stroke="#6f6f6f" stroke-width="0.9" />
<text x="374.6" y="309.7" font-size="7.6" text-anchor="end" fill="#4d4d4d" >900</text>
<line x1="375.4" y1="307.1" x2="377.8" y2="307.1" stroke="#6f6f6f" stroke-width="0.9" />
<line x1="391.7" y1="335.1" x2="391.7" y2="337.2" stroke="#6f6f6f" stroke-width="0.9" />
<text x="391.7" y="343.4" font-size="7.6" text-anchor="middle" fill="#4d4d4d" >0.0</text>
<line x1="461.35" y1="335.1" x2="461.35" y2="337.2" stroke="#6f6f6f" stroke-width="0.9" />
<text x="461.35" y="343.4" font-size="7.6" text-anchor="middle" fill="#4d4d4d" >2.5</text>
<line x1="531" y1="335.1" x2="531" y2="337.2" stroke="#6f6f6f" stroke-width="0.9" />
<text x="531" y="343.4" font-size="7.6" text-anchor="middle" fill="#4d4d4d" >5.0</text>
<line x1="600.65" y1="335.1" x2="600.65" y2="337.2" stroke="#6f6f6f" stroke-width="0.9" />
<text x="600.65" y="343.4" font-size="7.6" text-anchor="middle" fill="#4d4d4d" >7.5</text>
<line x1="670.3" y1="335.1" x2="670.3" y2="337.2" stroke="#6f6f6f" stroke-width="0.9" />
<text x="670.3" y="343.4" font-size="7.6" text-anchor="middle" fill="#4d4d4d" >10.0</text>
</svg>
</body></html>
